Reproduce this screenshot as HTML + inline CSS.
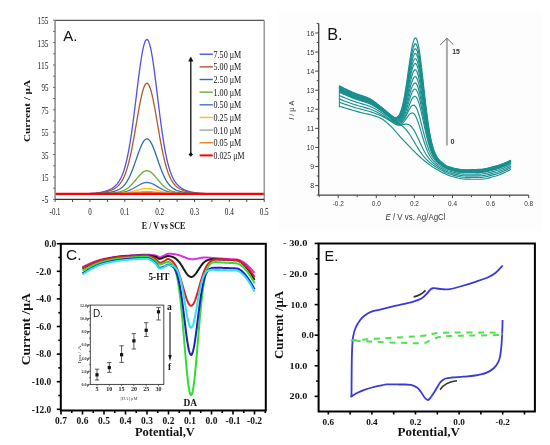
<!DOCTYPE html>
<html><head><meta charset="utf-8"><style>
html,body{margin:0;padding:0;background:#fff;}
svg{display:block;will-change:transform;filter:blur(0.4px);}
</style></head><body>
<svg width="550" height="445" viewBox="0 0 550 445">
<rect width="550" height="445" fill="#fff"/>
<rect x="278" y="12" width="264" height="219" fill="#fdfdfd"/>
<path d="M55.1,193.8 L55.54,193.8 L55.97,193.8 L56.41,193.8 L56.84,193.8 L57.28,193.8 L57.71,193.8 L58.15,193.8 L58.59,193.8 L59.02,193.8 L59.46,193.8 L59.89,193.8 L60.33,193.8 L60.76,193.8 L61.2,193.8 L61.63,193.8 L62.07,193.8 L62.51,193.8 L62.94,193.8 L63.38,193.8 L63.81,193.8 L64.25,193.8 L64.68,193.8 L65.12,193.8 L65.56,193.8 L65.99,193.8 L66.43,193.8 L66.86,193.8 L67.3,193.8 L67.73,193.8 L68.17,193.79 L68.6,193.79 L69.04,193.79 L69.48,193.79 L69.91,193.79 L70.35,193.79 L70.78,193.79 L71.22,193.79 L71.65,193.79 L72.09,193.79 L72.53,193.79 L72.96,193.79 L73.4,193.78 L73.83,193.78 L74.27,193.78 L74.7,193.78 L75.14,193.78 L75.57,193.78 L76.01,193.77 L76.45,193.77 L76.88,193.77 L77.32,193.77 L77.75,193.76 L78.19,193.76 L78.62,193.76 L79.06,193.75 L79.5,193.75 L79.93,193.74 L80.37,193.74 L80.8,193.73 L81.24,193.73 L81.67,193.72 L82.11,193.72 L82.54,193.71 L82.98,193.7 L83.42,193.7 L83.85,193.69 L84.29,193.68 L84.72,193.67 L85.16,193.66 L85.59,193.65 L86.03,193.64 L86.47,193.62 L86.9,193.61 L87.34,193.6 L87.77,193.58 L88.21,193.56 L88.64,193.55 L89.08,193.53 L89.51,193.51 L89.95,193.49 L90.39,193.47 L90.82,193.44 L91.26,193.42 L91.69,193.39 L92.13,193.36 L92.56,193.33 L93,193.3 L93.44,193.27 L93.87,193.23 L94.31,193.2 L94.74,193.16 L95.18,193.12 L95.61,193.07 L96.05,193.03 L96.48,192.98 L96.92,192.93 L97.36,192.87 L97.79,192.81 L98.23,192.75 L98.66,192.69 L99.1,192.62 L99.53,192.55 L99.97,192.48 L100.41,192.4 L100.84,192.32 L101.28,192.24 L101.71,192.15 L102.15,192.06 L102.58,191.96 L103.02,191.86 L103.45,191.75 L103.89,191.64 L104.33,191.52 L104.76,191.4 L105.2,191.27 L105.63,191.14 L106.07,191 L106.5,190.85 L106.94,190.7 L107.38,190.54 L107.81,190.37 L108.25,190.19 L108.68,190.01 L109.12,189.82 L109.55,189.62 L109.99,189.41 L110.42,189.19 L110.86,188.95 L111.3,188.71 L111.73,188.46 L112.17,188.19 L112.6,187.91 L113.04,187.61 L113.47,187.3 L113.91,186.97 L114.34,186.62 L114.78,186.25 L115.22,185.86 L115.65,185.45 L116.09,185.02 L116.52,184.55 L116.96,184.07 L117.39,183.55 L117.83,182.99 L118.27,182.41 L118.7,181.79 L119.14,181.12 L119.57,180.42 L120.01,179.67 L120.44,178.87 L120.88,178.03 L121.31,177.12 L121.75,176.16 L122.19,175.14 L122.62,174.06 L123.06,172.91 L123.49,171.68 L123.93,170.39 L124.36,169.01 L124.8,167.56 L125.24,166.02 L125.67,164.39 L126.11,162.67 L126.54,160.86 L126.98,158.95 L127.41,156.95 L127.85,154.85 L128.28,152.65 L128.72,150.34 L129.16,147.94 L129.59,145.43 L130.03,142.82 L130.46,140.11 L130.9,137.31 L131.33,134.41 L131.77,131.41 L132.21,128.33 L132.64,125.16 L133.08,121.92 L133.51,118.6 L133.95,115.22 L134.38,111.79 L134.82,108.3 L135.25,104.78 L135.69,101.23 L136.13,97.66 L136.56,94.08 L137,90.51 L137.43,86.95 L137.87,83.43 L138.3,79.95 L138.74,76.53 L139.18,73.18 L139.61,69.91 L140.05,66.75 L140.48,63.69 L140.92,60.77 L141.35,57.98 L141.79,55.35 L142.22,52.88 L142.66,50.59 L143.1,48.49 L143.53,46.59 L143.97,44.9 L144.4,43.42 L144.84,42.17 L145.27,41.15 L145.71,40.37 L146.15,39.83 L146.58,39.53 L147.02,39.47 L147.45,39.66 L147.89,40.1 L148.32,40.78 L148.76,41.69 L149.2,42.84 L149.63,44.22 L150.07,45.82 L150.5,47.63 L150.94,49.65 L151.37,51.85 L151.81,54.24 L152.24,56.8 L152.68,59.52 L153.12,62.39 L153.55,65.39 L153.99,68.51 L154.42,71.73 L154.86,75.05 L155.29,78.44 L155.73,81.89 L156.16,85.4 L156.6,88.94 L157.04,92.51 L157.47,96.08 L157.91,99.66 L158.34,103.22 L158.78,106.76 L159.21,110.26 L159.65,113.72 L160.09,117.13 L160.52,120.47 L160.96,123.75 L161.39,126.95 L161.83,130.07 L162.26,133.1 L162.7,136.04 L163.13,138.89 L163.57,141.64 L164.01,144.29 L164.44,146.85 L164.88,149.3 L165.31,151.65 L165.75,153.89 L166.18,156.04 L166.62,158.09 L167.06,160.03 L167.49,161.89 L167.93,163.64 L168.36,165.31 L168.8,166.89 L169.23,168.38 L169.67,169.79 L170.11,171.12 L170.54,172.38 L170.98,173.56 L171.41,174.67 L171.85,175.72 L172.28,176.71 L172.72,177.64 L173.15,178.51 L173.59,179.33 L174.03,180.1 L174.46,180.82 L174.9,181.5 L175.33,182.14 L175.77,182.74 L176.2,183.31 L176.64,183.84 L177.07,184.34 L177.51,184.82 L177.95,185.26 L178.38,185.68 L178.82,186.08 L179.25,186.46 L179.69,186.82 L180.12,187.15 L180.56,187.47 L181,187.78 L181.43,188.07 L181.87,188.34 L182.3,188.6 L182.74,188.85 L183.17,189.09 L183.61,189.31 L184.04,189.53 L184.48,189.73 L184.92,189.93 L185.35,190.11 L185.79,190.29 L186.22,190.46 L186.66,190.63 L187.09,190.78 L187.53,190.93 L187.97,191.08 L188.4,191.21 L188.84,191.34 L189.27,191.47 L189.71,191.59 L190.14,191.7 L190.58,191.81 L191.01,191.91 L191.45,192.01 L191.89,192.11 L192.32,192.2 L192.76,192.29 L193.19,192.37 L193.63,192.45 L194.06,192.52 L194.5,192.59 L194.94,192.66 L195.37,192.73 L195.81,192.79 L196.24,192.85 L196.68,192.9 L197.11,192.95 L197.55,193 L197.99,193.05 L198.42,193.1 L198.86,193.14 L199.29,193.18 L199.73,193.22 L200.16,193.25 L200.6,193.29 L201.03,193.32 L201.47,193.35 L201.91,193.38 L202.34,193.41 L202.78,193.43 L203.21,193.46 L203.65,193.48 L204.08,193.5 L204.52,193.52 L204.95,193.54 L205.39,193.56 L205.83,193.57 L206.26,193.59 L206.7,193.6 L207.13,193.62 L207.57,193.63 L208,193.64 L208.44,193.65 L208.88,193.66 L209.31,193.67 L209.75,193.68 L210.18,193.69 L210.62,193.7 L211.05,193.71 L211.49,193.71 L211.92,193.72 L212.36,193.73 L212.8,193.73 L213.23,193.74 L213.67,193.74 L214.1,193.75 L214.54,193.75 L214.97,193.75 L215.41,193.76 L215.85,193.76 L216.28,193.76 L216.72,193.77 L217.15,193.77 L217.59,193.77 L218.02,193.77 L218.46,193.78 L218.89,193.78 L219.33,193.78 L219.77,193.78 L220.2,193.78 L220.64,193.79 L221.07,193.79 L221.51,193.79 L221.94,193.79 L222.38,193.79 L222.82,193.79 L223.25,193.79 L223.69,193.79 L224.12,193.79 L224.56,193.79 L224.99,193.79 L225.43,193.79 L225.86,193.8 L226.3,193.8 L226.74,193.8 L227.17,193.8 L227.61,193.8 L228.04,193.8 L228.48,193.8 L228.91,193.8 L229.35,193.8 L229.79,193.8 L230.22,193.8 L230.66,193.8 L231.09,193.8 L231.53,193.8 L231.96,193.8 L232.4,193.8 L232.84,193.8 L233.27,193.8 L233.71,193.8 L234.14,193.8 L234.58,193.8 L235.01,193.8 L235.45,193.8 L235.88,193.8 L236.32,193.8 L236.76,193.8 L237.19,193.8 L237.63,193.8 L238.06,193.8 L238.5,193.8 L238.93,193.8 L239.37,193.8 L239.81,193.8 L240.24,193.8 L240.68,193.8 L241.11,193.8 L241.55,193.8 L241.98,193.8 L242.42,193.8 L242.85,193.8 L243.29,193.8 L243.73,193.8 L244.16,193.8 L244.6,193.8 L245.03,193.8 L245.47,193.8 L245.9,193.8 L246.34,193.8 L246.78,193.8 L247.21,193.8 L247.65,193.8 L248.08,193.8 L248.52,193.8 L248.95,193.8 L249.39,193.8 L249.82,193.8 L250.26,193.8 L250.7,193.8 L251.13,193.8 L251.57,193.8 L252,193.8 L252.44,193.8 L252.87,193.8 L253.31,193.8 L253.75,193.8 L254.18,193.8 L254.62,193.8 L255.05,193.8 L255.49,193.8 L255.92,193.8 L256.36,193.8 L256.79,193.8 L257.23,193.8 L257.67,193.8 L258.1,193.8 L258.54,193.8 L258.97,193.8 L259.41,193.8 L259.84,193.8 L260.28,193.8 L260.71,193.8 L261.15,193.8 L261.59,193.8 L262.02,193.8 L262.46,193.8 L262.89,193.8 L263.33,193.8 L263.76,193.8 L264.2,193.8" fill="none" stroke="#5050e8" stroke-width="1.3"/>
<path d="M55.1,193.8 L55.54,193.8 L55.97,193.8 L56.41,193.8 L56.84,193.8 L57.28,193.8 L57.71,193.8 L58.15,193.8 L58.59,193.8 L59.02,193.8 L59.46,193.8 L59.89,193.8 L60.33,193.8 L60.76,193.8 L61.2,193.8 L61.63,193.8 L62.07,193.8 L62.51,193.8 L62.94,193.8 L63.38,193.8 L63.81,193.8 L64.25,193.8 L64.68,193.8 L65.12,193.8 L65.56,193.8 L65.99,193.8 L66.43,193.8 L66.86,193.8 L67.3,193.8 L67.73,193.8 L68.17,193.8 L68.6,193.8 L69.04,193.8 L69.48,193.8 L69.91,193.79 L70.35,193.79 L70.78,193.79 L71.22,193.79 L71.65,193.79 L72.09,193.79 L72.53,193.79 L72.96,193.79 L73.4,193.79 L73.83,193.79 L74.27,193.79 L74.7,193.79 L75.14,193.78 L75.57,193.78 L76.01,193.78 L76.45,193.78 L76.88,193.78 L77.32,193.78 L77.75,193.77 L78.19,193.77 L78.62,193.77 L79.06,193.77 L79.5,193.76 L79.93,193.76 L80.37,193.76 L80.8,193.75 L81.24,193.75 L81.67,193.75 L82.11,193.74 L82.54,193.74 L82.98,193.73 L83.42,193.73 L83.85,193.72 L84.29,193.71 L84.72,193.71 L85.16,193.7 L85.59,193.69 L86.03,193.68 L86.47,193.67 L86.9,193.66 L87.34,193.65 L87.77,193.64 L88.21,193.63 L88.64,193.62 L89.08,193.61 L89.51,193.59 L89.95,193.58 L90.39,193.56 L90.82,193.54 L91.26,193.53 L91.69,193.51 L92.13,193.49 L92.56,193.47 L93,193.44 L93.44,193.42 L93.87,193.39 L94.31,193.37 L94.74,193.34 L95.18,193.31 L95.61,193.28 L96.05,193.25 L96.48,193.21 L96.92,193.17 L97.36,193.13 L97.79,193.09 L98.23,193.05 L98.66,193.01 L99.1,192.96 L99.53,192.91 L99.97,192.86 L100.41,192.8 L100.84,192.74 L101.28,192.68 L101.71,192.62 L102.15,192.55 L102.58,192.48 L103.02,192.41 L103.45,192.33 L103.89,192.25 L104.33,192.17 L104.76,192.08 L105.2,191.99 L105.63,191.89 L106.07,191.79 L106.5,191.69 L106.94,191.58 L107.38,191.46 L107.81,191.34 L108.25,191.22 L108.68,191.09 L109.12,190.95 L109.55,190.8 L109.99,190.65 L110.42,190.5 L110.86,190.33 L111.3,190.16 L111.73,189.97 L112.17,189.78 L112.6,189.58 L113.04,189.37 L113.47,189.14 L113.91,188.91 L114.34,188.66 L114.78,188.39 L115.22,188.11 L115.65,187.82 L116.09,187.51 L116.52,187.18 L116.96,186.83 L117.39,186.46 L117.83,186.06 L118.27,185.64 L118.7,185.2 L119.14,184.72 L119.57,184.22 L120.01,183.68 L120.44,183.11 L120.88,182.5 L121.31,181.86 L121.75,181.17 L122.19,180.44 L122.62,179.66 L123.06,178.84 L123.49,177.96 L123.93,177.03 L124.36,176.05 L124.8,175 L125.24,173.9 L125.67,172.73 L126.11,171.5 L126.54,170.21 L126.98,168.84 L127.41,167.41 L127.85,165.9 L128.28,164.32 L128.72,162.67 L129.16,160.95 L129.59,159.15 L130.03,157.29 L130.46,155.35 L130.9,153.34 L131.33,151.26 L131.77,149.11 L132.21,146.91 L132.64,144.64 L133.08,142.32 L133.51,139.94 L133.95,137.52 L134.38,135.06 L134.82,132.56 L135.25,130.04 L135.69,127.49 L136.13,124.94 L136.56,122.37 L137,119.82 L137.43,117.27 L137.87,114.75 L138.3,112.26 L138.74,109.8 L139.18,107.4 L139.61,105.07 L140.05,102.8 L140.48,100.61 L140.92,98.52 L141.35,96.52 L141.79,94.63 L142.22,92.87 L142.66,91.23 L143.1,89.72 L143.53,88.36 L143.97,87.15 L144.4,86.09 L144.84,85.2 L145.27,84.47 L145.71,83.9 L146.15,83.52 L146.58,83.3 L147.02,83.26 L147.45,83.4 L147.89,83.71 L148.32,84.2 L148.76,84.85 L149.2,85.68 L149.63,86.66 L150.07,87.81 L150.5,89.11 L150.94,90.55 L151.37,92.13 L151.81,93.84 L152.24,95.68 L152.68,97.62 L153.12,99.68 L153.55,101.83 L153.99,104.06 L154.42,106.37 L154.86,108.74 L155.29,111.17 L155.73,113.65 L156.16,116.16 L156.6,118.69 L157.04,121.25 L157.47,123.81 L157.91,126.37 L158.34,128.92 L158.78,131.46 L159.21,133.96 L159.65,136.44 L160.09,138.88 L160.52,141.28 L160.96,143.62 L161.39,145.92 L161.83,148.15 L162.26,150.32 L162.7,152.43 L163.13,154.47 L163.57,156.44 L164.01,158.34 L164.44,160.17 L164.88,161.92 L165.31,163.61 L165.75,165.22 L166.18,166.75 L166.62,168.22 L167.06,169.61 L167.49,170.94 L167.93,172.2 L168.36,173.39 L168.8,174.52 L169.23,175.59 L169.67,176.6 L170.11,177.56 L170.54,178.46 L170.98,179.3 L171.41,180.1 L171.85,180.85 L172.28,181.56 L172.72,182.22 L173.15,182.85 L173.59,183.43 L174.03,183.98 L174.46,184.5 L174.9,184.99 L175.33,185.45 L175.77,185.88 L176.2,186.28 L176.64,186.67 L177.07,187.03 L177.51,187.37 L177.95,187.69 L178.38,187.99 L178.82,188.27 L179.25,188.54 L179.69,188.8 L180.12,189.04 L180.56,189.27 L181,189.49 L181.43,189.69 L181.87,189.89 L182.3,190.08 L182.74,190.25 L183.17,190.42 L183.61,190.58 L184.04,190.74 L184.48,190.89 L184.92,191.03 L185.35,191.16 L185.79,191.29 L186.22,191.41 L186.66,191.53 L187.09,191.64 L187.53,191.75 L187.97,191.85 L188.4,191.95 L188.84,192.04 L189.27,192.13 L189.71,192.22 L190.14,192.3 L190.58,192.38 L191.01,192.45 L191.45,192.52 L191.89,192.59 L192.32,192.65 L192.76,192.72 L193.19,192.77 L193.63,192.83 L194.06,192.88 L194.5,192.94 L194.94,192.98 L195.37,193.03 L195.81,193.08 L196.24,193.12 L196.68,193.16 L197.11,193.19 L197.55,193.23 L197.99,193.26 L198.42,193.3 L198.86,193.33 L199.29,193.36 L199.73,193.38 L200.16,193.41 L200.6,193.43 L201.03,193.46 L201.47,193.48 L201.91,193.5 L202.34,193.52 L202.78,193.54 L203.21,193.55 L203.65,193.57 L204.08,193.59 L204.52,193.6 L204.95,193.61 L205.39,193.63 L205.83,193.64 L206.26,193.65 L206.7,193.66 L207.13,193.67 L207.57,193.68 L208,193.69 L208.44,193.7 L208.88,193.7 L209.31,193.71 L209.75,193.72 L210.18,193.72 L210.62,193.73 L211.05,193.73 L211.49,193.74 L211.92,193.74 L212.36,193.75 L212.8,193.75 L213.23,193.76 L213.67,193.76 L214.1,193.76 L214.54,193.76 L214.97,193.77 L215.41,193.77 L215.85,193.77 L216.28,193.77 L216.72,193.78 L217.15,193.78 L217.59,193.78 L218.02,193.78 L218.46,193.78 L218.89,193.78 L219.33,193.79 L219.77,193.79 L220.2,193.79 L220.64,193.79 L221.07,193.79 L221.51,193.79 L221.94,193.79 L222.38,193.79 L222.82,193.79 L223.25,193.79 L223.69,193.79 L224.12,193.79 L224.56,193.8 L224.99,193.8 L225.43,193.8 L225.86,193.8 L226.3,193.8 L226.74,193.8 L227.17,193.8 L227.61,193.8 L228.04,193.8 L228.48,193.8 L228.91,193.8 L229.35,193.8 L229.79,193.8 L230.22,193.8 L230.66,193.8 L231.09,193.8 L231.53,193.8 L231.96,193.8 L232.4,193.8 L232.84,193.8 L233.27,193.8 L233.71,193.8 L234.14,193.8 L234.58,193.8 L235.01,193.8 L235.45,193.8 L235.88,193.8 L236.32,193.8 L236.76,193.8 L237.19,193.8 L237.63,193.8 L238.06,193.8 L238.5,193.8 L238.93,193.8 L239.37,193.8 L239.81,193.8 L240.24,193.8 L240.68,193.8 L241.11,193.8 L241.55,193.8 L241.98,193.8 L242.42,193.8 L242.85,193.8 L243.29,193.8 L243.73,193.8 L244.16,193.8 L244.6,193.8 L245.03,193.8 L245.47,193.8 L245.9,193.8 L246.34,193.8 L246.78,193.8 L247.21,193.8 L247.65,193.8 L248.08,193.8 L248.52,193.8 L248.95,193.8 L249.39,193.8 L249.82,193.8 L250.26,193.8 L250.7,193.8 L251.13,193.8 L251.57,193.8 L252,193.8 L252.44,193.8 L252.87,193.8 L253.31,193.8 L253.75,193.8 L254.18,193.8 L254.62,193.8 L255.05,193.8 L255.49,193.8 L255.92,193.8 L256.36,193.8 L256.79,193.8 L257.23,193.8 L257.67,193.8 L258.1,193.8 L258.54,193.8 L258.97,193.8 L259.41,193.8 L259.84,193.8 L260.28,193.8 L260.71,193.8 L261.15,193.8 L261.59,193.8 L262.02,193.8 L262.46,193.8 L262.89,193.8 L263.33,193.8 L263.76,193.8 L264.2,193.8" fill="none" stroke="#b05a28" stroke-width="1.3"/>
<path d="M55.1,193.8 L55.54,193.8 L55.97,193.8 L56.41,193.8 L56.84,193.8 L57.28,193.8 L57.71,193.8 L58.15,193.8 L58.59,193.8 L59.02,193.8 L59.46,193.8 L59.89,193.8 L60.33,193.8 L60.76,193.8 L61.2,193.8 L61.63,193.8 L62.07,193.8 L62.51,193.8 L62.94,193.8 L63.38,193.8 L63.81,193.8 L64.25,193.8 L64.68,193.8 L65.12,193.8 L65.56,193.8 L65.99,193.8 L66.43,193.8 L66.86,193.8 L67.3,193.8 L67.73,193.8 L68.17,193.8 L68.6,193.8 L69.04,193.8 L69.48,193.8 L69.91,193.8 L70.35,193.8 L70.78,193.8 L71.22,193.8 L71.65,193.8 L72.09,193.8 L72.53,193.8 L72.96,193.79 L73.4,193.79 L73.83,193.79 L74.27,193.79 L74.7,193.79 L75.14,193.79 L75.57,193.79 L76.01,193.79 L76.45,193.79 L76.88,193.79 L77.32,193.79 L77.75,193.79 L78.19,193.79 L78.62,193.78 L79.06,193.78 L79.5,193.78 L79.93,193.78 L80.37,193.78 L80.8,193.78 L81.24,193.77 L81.67,193.77 L82.11,193.77 L82.54,193.77 L82.98,193.77 L83.42,193.76 L83.85,193.76 L84.29,193.76 L84.72,193.75 L85.16,193.75 L85.59,193.75 L86.03,193.74 L86.47,193.74 L86.9,193.73 L87.34,193.73 L87.77,193.72 L88.21,193.72 L88.64,193.71 L89.08,193.7 L89.51,193.7 L89.95,193.69 L90.39,193.68 L90.82,193.67 L91.26,193.66 L91.69,193.65 L92.13,193.64 L92.56,193.63 L93,193.62 L93.44,193.61 L93.87,193.6 L94.31,193.59 L94.74,193.57 L95.18,193.56 L95.61,193.54 L96.05,193.52 L96.48,193.51 L96.92,193.49 L97.36,193.47 L97.79,193.45 L98.23,193.43 L98.66,193.41 L99.1,193.38 L99.53,193.36 L99.97,193.33 L100.41,193.3 L100.84,193.27 L101.28,193.24 L101.71,193.21 L102.15,193.18 L102.58,193.15 L103.02,193.11 L103.45,193.07 L103.89,193.03 L104.33,192.99 L104.76,192.95 L105.2,192.9 L105.63,192.85 L106.07,192.8 L106.5,192.75 L106.94,192.7 L107.38,192.64 L107.81,192.58 L108.25,192.52 L108.68,192.45 L109.12,192.38 L109.55,192.31 L109.99,192.24 L110.42,192.16 L110.86,192.08 L111.3,191.99 L111.73,191.9 L112.17,191.8 L112.6,191.7 L113.04,191.6 L113.47,191.49 L113.91,191.37 L114.34,191.25 L114.78,191.12 L115.22,190.98 L115.65,190.83 L116.09,190.68 L116.52,190.51 L116.96,190.34 L117.39,190.15 L117.83,189.96 L118.27,189.75 L118.7,189.53 L119.14,189.29 L119.57,189.04 L120.01,188.78 L120.44,188.49 L120.88,188.19 L121.31,187.87 L121.75,187.53 L122.19,187.17 L122.62,186.78 L123.06,186.37 L123.49,185.94 L123.93,185.47 L124.36,184.99 L124.8,184.47 L125.24,183.92 L125.67,183.34 L126.11,182.73 L126.54,182.09 L126.98,181.41 L127.41,180.7 L127.85,179.95 L128.28,179.17 L128.72,178.35 L129.16,177.49 L129.59,176.6 L130.03,175.67 L130.46,174.71 L130.9,173.71 L131.33,172.68 L131.77,171.62 L132.21,170.52 L132.64,169.39 L133.08,168.24 L133.51,167.06 L133.95,165.86 L134.38,164.64 L134.82,163.4 L135.25,162.15 L135.69,160.88 L136.13,159.61 L136.56,158.34 L137,157.07 L137.43,155.81 L137.87,154.55 L138.3,153.32 L138.74,152.1 L139.18,150.91 L139.61,149.75 L140.05,148.62 L140.48,147.54 L140.92,146.5 L141.35,145.51 L141.79,144.57 L142.22,143.69 L142.66,142.88 L143.1,142.13 L143.53,141.45 L143.97,140.85 L144.4,140.33 L144.84,139.88 L145.27,139.52 L145.71,139.24 L146.15,139.05 L146.58,138.94 L147.02,138.92 L147.45,138.99 L147.89,139.15 L148.32,139.39 L148.76,139.71 L149.2,140.12 L149.63,140.61 L150.07,141.18 L150.5,141.82 L150.94,142.54 L151.37,143.33 L151.81,144.18 L152.24,145.09 L152.68,146.05 L153.12,147.07 L153.55,148.14 L153.99,149.25 L154.42,150.39 L154.86,151.57 L155.29,152.78 L155.73,154.01 L156.16,155.25 L156.6,156.51 L157.04,157.78 L157.47,159.05 L157.91,160.32 L158.34,161.59 L158.78,162.85 L159.21,164.09 L159.65,165.32 L160.09,166.54 L160.52,167.72 L160.96,168.89 L161.39,170.03 L161.83,171.14 L162.26,172.22 L162.7,173.26 L163.13,174.27 L163.57,175.25 L164.01,176.2 L164.44,177.1 L164.88,177.98 L165.31,178.81 L165.75,179.61 L166.18,180.37 L166.62,181.1 L167.06,181.79 L167.49,182.45 L167.93,183.08 L168.36,183.67 L168.8,184.23 L169.23,184.76 L169.67,185.26 L170.11,185.74 L170.54,186.18 L170.98,186.6 L171.41,187 L171.85,187.37 L172.28,187.72 L172.72,188.05 L173.15,188.36 L173.59,188.65 L174.03,188.93 L174.46,189.18 L174.9,189.43 L175.33,189.65 L175.77,189.87 L176.2,190.07 L176.64,190.26 L177.07,190.44 L177.51,190.61 L177.95,190.76 L178.38,190.91 L178.82,191.06 L179.25,191.19 L179.69,191.32 L180.12,191.44 L180.56,191.55 L181,191.66 L181.43,191.76 L181.87,191.86 L182.3,191.95 L182.74,192.04 L183.17,192.12 L183.61,192.2 L184.04,192.28 L184.48,192.35 L184.92,192.42 L185.35,192.49 L185.79,192.55 L186.22,192.61 L186.66,192.67 L187.09,192.73 L187.53,192.78 L187.97,192.83 L188.4,192.88 L188.84,192.93 L189.27,192.97 L189.71,193.01 L190.14,193.05 L190.58,193.09 L191.01,193.13 L191.45,193.17 L191.89,193.2 L192.32,193.23 L192.76,193.26 L193.19,193.29 L193.63,193.32 L194.06,193.35 L194.5,193.37 L194.94,193.4 L195.37,193.42 L195.81,193.44 L196.24,193.46 L196.68,193.48 L197.11,193.5 L197.55,193.52 L197.99,193.53 L198.42,193.55 L198.86,193.57 L199.29,193.58 L199.73,193.59 L200.16,193.61 L200.6,193.62 L201.03,193.63 L201.47,193.64 L201.91,193.65 L202.34,193.66 L202.78,193.67 L203.21,193.68 L203.65,193.69 L204.08,193.69 L204.52,193.7 L204.95,193.71 L205.39,193.71 L205.83,193.72 L206.26,193.73 L206.7,193.73 L207.13,193.74 L207.57,193.74 L208,193.74 L208.44,193.75 L208.88,193.75 L209.31,193.76 L209.75,193.76 L210.18,193.76 L210.62,193.76 L211.05,193.77 L211.49,193.77 L211.92,193.77 L212.36,193.77 L212.8,193.78 L213.23,193.78 L213.67,193.78 L214.1,193.78 L214.54,193.78 L214.97,193.78 L215.41,193.79 L215.85,193.79 L216.28,193.79 L216.72,193.79 L217.15,193.79 L217.59,193.79 L218.02,193.79 L218.46,193.79 L218.89,193.79 L219.33,193.79 L219.77,193.79 L220.2,193.79 L220.64,193.79 L221.07,193.8 L221.51,193.8 L221.94,193.8 L222.38,193.8 L222.82,193.8 L223.25,193.8 L223.69,193.8 L224.12,193.8 L224.56,193.8 L224.99,193.8 L225.43,193.8 L225.86,193.8 L226.3,193.8 L226.74,193.8 L227.17,193.8 L227.61,193.8 L228.04,193.8 L228.48,193.8 L228.91,193.8 L229.35,193.8 L229.79,193.8 L230.22,193.8 L230.66,193.8 L231.09,193.8 L231.53,193.8 L231.96,193.8 L232.4,193.8 L232.84,193.8 L233.27,193.8 L233.71,193.8 L234.14,193.8 L234.58,193.8 L235.01,193.8 L235.45,193.8 L235.88,193.8 L236.32,193.8 L236.76,193.8 L237.19,193.8 L237.63,193.8 L238.06,193.8 L238.5,193.8 L238.93,193.8 L239.37,193.8 L239.81,193.8 L240.24,193.8 L240.68,193.8 L241.11,193.8 L241.55,193.8 L241.98,193.8 L242.42,193.8 L242.85,193.8 L243.29,193.8 L243.73,193.8 L244.16,193.8 L244.6,193.8 L245.03,193.8 L245.47,193.8 L245.9,193.8 L246.34,193.8 L246.78,193.8 L247.21,193.8 L247.65,193.8 L248.08,193.8 L248.52,193.8 L248.95,193.8 L249.39,193.8 L249.82,193.8 L250.26,193.8 L250.7,193.8 L251.13,193.8 L251.57,193.8 L252,193.8 L252.44,193.8 L252.87,193.8 L253.31,193.8 L253.75,193.8 L254.18,193.8 L254.62,193.8 L255.05,193.8 L255.49,193.8 L255.92,193.8 L256.36,193.8 L256.79,193.8 L257.23,193.8 L257.67,193.8 L258.1,193.8 L258.54,193.8 L258.97,193.8 L259.41,193.8 L259.84,193.8 L260.28,193.8 L260.71,193.8 L261.15,193.8 L261.59,193.8 L262.02,193.8 L262.46,193.8 L262.89,193.8 L263.33,193.8 L263.76,193.8 L264.2,193.8" fill="none" stroke="#2e6da4" stroke-width="1.3"/>
<path d="M55.1,193.8 L55.54,193.8 L55.97,193.8 L56.41,193.8 L56.84,193.8 L57.28,193.8 L57.71,193.8 L58.15,193.8 L58.59,193.8 L59.02,193.8 L59.46,193.8 L59.89,193.8 L60.33,193.8 L60.76,193.8 L61.2,193.8 L61.63,193.8 L62.07,193.8 L62.51,193.8 L62.94,193.8 L63.38,193.8 L63.81,193.8 L64.25,193.8 L64.68,193.8 L65.12,193.8 L65.56,193.8 L65.99,193.8 L66.43,193.8 L66.86,193.8 L67.3,193.8 L67.73,193.8 L68.17,193.8 L68.6,193.8 L69.04,193.8 L69.48,193.8 L69.91,193.8 L70.35,193.8 L70.78,193.8 L71.22,193.8 L71.65,193.8 L72.09,193.8 L72.53,193.8 L72.96,193.8 L73.4,193.8 L73.83,193.8 L74.27,193.8 L74.7,193.8 L75.14,193.8 L75.57,193.8 L76.01,193.8 L76.45,193.8 L76.88,193.8 L77.32,193.79 L77.75,193.79 L78.19,193.79 L78.62,193.79 L79.06,193.79 L79.5,193.79 L79.93,193.79 L80.37,193.79 L80.8,193.79 L81.24,193.79 L81.67,193.79 L82.11,193.79 L82.54,193.79 L82.98,193.79 L83.42,193.78 L83.85,193.78 L84.29,193.78 L84.72,193.78 L85.16,193.78 L85.59,193.78 L86.03,193.78 L86.47,193.77 L86.9,193.77 L87.34,193.77 L87.77,193.77 L88.21,193.76 L88.64,193.76 L89.08,193.76 L89.51,193.76 L89.95,193.75 L90.39,193.75 L90.82,193.75 L91.26,193.74 L91.69,193.74 L92.13,193.73 L92.56,193.73 L93,193.73 L93.44,193.72 L93.87,193.72 L94.31,193.71 L94.74,193.7 L95.18,193.7 L95.61,193.69 L96.05,193.68 L96.48,193.68 L96.92,193.67 L97.36,193.66 L97.79,193.65 L98.23,193.64 L98.66,193.63 L99.1,193.62 L99.53,193.61 L99.97,193.6 L100.41,193.59 L100.84,193.58 L101.28,193.57 L101.71,193.55 L102.15,193.54 L102.58,193.52 L103.02,193.51 L103.45,193.49 L103.89,193.48 L104.33,193.46 L104.76,193.44 L105.2,193.42 L105.63,193.4 L106.07,193.38 L106.5,193.36 L106.94,193.34 L107.38,193.31 L107.81,193.29 L108.25,193.26 L108.68,193.23 L109.12,193.2 L109.55,193.17 L109.99,193.14 L110.42,193.11 L110.86,193.08 L111.3,193.04 L111.73,193 L112.17,192.96 L112.6,192.92 L113.04,192.87 L113.47,192.83 L113.91,192.78 L114.34,192.73 L114.78,192.67 L115.22,192.61 L115.65,192.55 L116.09,192.49 L116.52,192.42 L116.96,192.34 L117.39,192.27 L117.83,192.18 L118.27,192.1 L118.7,192 L119.14,191.91 L119.57,191.8 L120.01,191.69 L120.44,191.57 L120.88,191.44 L121.31,191.31 L121.75,191.16 L122.19,191.01 L122.62,190.85 L123.06,190.68 L123.49,190.49 L123.93,190.3 L124.36,190.09 L124.8,189.88 L125.24,189.65 L125.67,189.4 L126.11,189.15 L126.54,188.88 L126.98,188.59 L127.41,188.29 L127.85,187.98 L128.28,187.65 L128.72,187.3 L129.16,186.94 L129.59,186.57 L130.03,186.18 L130.46,185.77 L130.9,185.35 L131.33,184.92 L131.77,184.47 L132.21,184.01 L132.64,183.54 L133.08,183.05 L133.51,182.56 L133.95,182.05 L134.38,181.54 L134.82,181.02 L135.25,180.49 L135.69,179.96 L136.13,179.43 L136.56,178.89 L137,178.36 L137.43,177.83 L137.87,177.3 L138.3,176.78 L138.74,176.27 L139.18,175.77 L139.61,175.28 L140.05,174.81 L140.48,174.35 L140.92,173.91 L141.35,173.5 L141.79,173.1 L142.22,172.73 L142.66,172.39 L143.1,172.08 L143.53,171.79 L143.97,171.54 L144.4,171.32 L144.84,171.13 L145.27,170.98 L145.71,170.86 L146.15,170.78 L146.58,170.74 L147.02,170.73 L147.45,170.76 L147.89,170.82 L148.32,170.92 L148.76,171.06 L149.2,171.23 L149.63,171.44 L150.07,171.68 L150.5,171.95 L150.94,172.25 L151.37,172.58 L151.81,172.94 L152.24,173.32 L152.68,173.73 L153.12,174.16 L153.55,174.6 L153.99,175.07 L154.42,175.55 L154.86,176.05 L155.29,176.55 L155.73,177.07 L156.16,177.59 L156.6,178.12 L157.04,178.66 L157.47,179.19 L157.91,179.73 L158.34,180.26 L158.78,180.79 L159.21,181.31 L159.65,181.83 L160.09,182.34 L160.52,182.84 L160.96,183.33 L161.39,183.81 L161.83,184.27 L162.26,184.73 L162.7,185.17 L163.13,185.59 L163.57,186 L164.01,186.4 L164.44,186.78 L164.88,187.15 L165.31,187.5 L165.75,187.83 L166.18,188.15 L166.62,188.46 L167.06,188.75 L167.49,189.03 L167.93,189.29 L168.36,189.54 L168.8,189.78 L169.23,190 L169.67,190.21 L170.11,190.41 L170.54,190.6 L170.98,190.77 L171.41,190.94 L171.85,191.1 L172.28,191.24 L172.72,191.38 L173.15,191.51 L173.59,191.64 L174.03,191.75 L174.46,191.86 L174.9,191.96 L175.33,192.06 L175.77,192.15 L176.2,192.23 L176.64,192.31 L177.07,192.39 L177.51,192.46 L177.95,192.52 L178.38,192.59 L178.82,192.65 L179.25,192.7 L179.69,192.76 L180.12,192.81 L180.56,192.85 L181,192.9 L181.43,192.94 L181.87,192.98 L182.3,193.02 L182.74,193.06 L183.17,193.1 L183.61,193.13 L184.04,193.16 L184.48,193.19 L184.92,193.22 L185.35,193.25 L185.79,193.28 L186.22,193.3 L186.66,193.33 L187.09,193.35 L187.53,193.37 L187.97,193.39 L188.4,193.41 L188.84,193.43 L189.27,193.45 L189.71,193.47 L190.14,193.49 L190.58,193.5 L191.01,193.52 L191.45,193.53 L191.89,193.55 L192.32,193.56 L192.76,193.57 L193.19,193.59 L193.63,193.6 L194.06,193.61 L194.5,193.62 L194.94,193.63 L195.37,193.64 L195.81,193.65 L196.24,193.66 L196.68,193.67 L197.11,193.67 L197.55,193.68 L197.99,193.69 L198.42,193.69 L198.86,193.7 L199.29,193.71 L199.73,193.71 L200.16,193.72 L200.6,193.72 L201.03,193.73 L201.47,193.73 L201.91,193.74 L202.34,193.74 L202.78,193.75 L203.21,193.75 L203.65,193.75 L204.08,193.76 L204.52,193.76 L204.95,193.76 L205.39,193.76 L205.83,193.77 L206.26,193.77 L206.7,193.77 L207.13,193.77 L207.57,193.77 L208,193.78 L208.44,193.78 L208.88,193.78 L209.31,193.78 L209.75,193.78 L210.18,193.78 L210.62,193.79 L211.05,193.79 L211.49,193.79 L211.92,193.79 L212.36,193.79 L212.8,193.79 L213.23,193.79 L213.67,193.79 L214.1,193.79 L214.54,193.79 L214.97,193.79 L215.41,193.79 L215.85,193.79 L216.28,193.79 L216.72,193.8 L217.15,193.8 L217.59,193.8 L218.02,193.8 L218.46,193.8 L218.89,193.8 L219.33,193.8 L219.77,193.8 L220.2,193.8 L220.64,193.8 L221.07,193.8 L221.51,193.8 L221.94,193.8 L222.38,193.8 L222.82,193.8 L223.25,193.8 L223.69,193.8 L224.12,193.8 L224.56,193.8 L224.99,193.8 L225.43,193.8 L225.86,193.8 L226.3,193.8 L226.74,193.8 L227.17,193.8 L227.61,193.8 L228.04,193.8 L228.48,193.8 L228.91,193.8 L229.35,193.8 L229.79,193.8 L230.22,193.8 L230.66,193.8 L231.09,193.8 L231.53,193.8 L231.96,193.8 L232.4,193.8 L232.84,193.8 L233.27,193.8 L233.71,193.8 L234.14,193.8 L234.58,193.8 L235.01,193.8 L235.45,193.8 L235.88,193.8 L236.32,193.8 L236.76,193.8 L237.19,193.8 L237.63,193.8 L238.06,193.8 L238.5,193.8 L238.93,193.8 L239.37,193.8 L239.81,193.8 L240.24,193.8 L240.68,193.8 L241.11,193.8 L241.55,193.8 L241.98,193.8 L242.42,193.8 L242.85,193.8 L243.29,193.8 L243.73,193.8 L244.16,193.8 L244.6,193.8 L245.03,193.8 L245.47,193.8 L245.9,193.8 L246.34,193.8 L246.78,193.8 L247.21,193.8 L247.65,193.8 L248.08,193.8 L248.52,193.8 L248.95,193.8 L249.39,193.8 L249.82,193.8 L250.26,193.8 L250.7,193.8 L251.13,193.8 L251.57,193.8 L252,193.8 L252.44,193.8 L252.87,193.8 L253.31,193.8 L253.75,193.8 L254.18,193.8 L254.62,193.8 L255.05,193.8 L255.49,193.8 L255.92,193.8 L256.36,193.8 L256.79,193.8 L257.23,193.8 L257.67,193.8 L258.1,193.8 L258.54,193.8 L258.97,193.8 L259.41,193.8 L259.84,193.8 L260.28,193.8 L260.71,193.8 L261.15,193.8 L261.59,193.8 L262.02,193.8 L262.46,193.8 L262.89,193.8 L263.33,193.8 L263.76,193.8 L264.2,193.8" fill="none" stroke="#6aaa3a" stroke-width="1.3"/>
<path d="M55.1,193.8 L55.54,193.8 L55.97,193.8 L56.41,193.8 L56.84,193.8 L57.28,193.8 L57.71,193.8 L58.15,193.8 L58.59,193.8 L59.02,193.8 L59.46,193.8 L59.89,193.8 L60.33,193.8 L60.76,193.8 L61.2,193.8 L61.63,193.8 L62.07,193.8 L62.51,193.8 L62.94,193.8 L63.38,193.8 L63.81,193.8 L64.25,193.8 L64.68,193.8 L65.12,193.8 L65.56,193.8 L65.99,193.8 L66.43,193.8 L66.86,193.8 L67.3,193.8 L67.73,193.8 L68.17,193.8 L68.6,193.8 L69.04,193.8 L69.48,193.8 L69.91,193.8 L70.35,193.8 L70.78,193.8 L71.22,193.8 L71.65,193.8 L72.09,193.8 L72.53,193.8 L72.96,193.8 L73.4,193.8 L73.83,193.8 L74.27,193.8 L74.7,193.8 L75.14,193.8 L75.57,193.8 L76.01,193.8 L76.45,193.8 L76.88,193.8 L77.32,193.8 L77.75,193.8 L78.19,193.8 L78.62,193.8 L79.06,193.8 L79.5,193.8 L79.93,193.8 L80.37,193.8 L80.8,193.8 L81.24,193.79 L81.67,193.79 L82.11,193.79 L82.54,193.79 L82.98,193.79 L83.42,193.79 L83.85,193.79 L84.29,193.79 L84.72,193.79 L85.16,193.79 L85.59,193.79 L86.03,193.79 L86.47,193.79 L86.9,193.79 L87.34,193.79 L87.77,193.78 L88.21,193.78 L88.64,193.78 L89.08,193.78 L89.51,193.78 L89.95,193.78 L90.39,193.78 L90.82,193.77 L91.26,193.77 L91.69,193.77 L92.13,193.77 L92.56,193.77 L93,193.76 L93.44,193.76 L93.87,193.76 L94.31,193.76 L94.74,193.75 L95.18,193.75 L95.61,193.75 L96.05,193.74 L96.48,193.74 L96.92,193.74 L97.36,193.73 L97.79,193.73 L98.23,193.72 L98.66,193.72 L99.1,193.71 L99.53,193.71 L99.97,193.7 L100.41,193.7 L100.84,193.69 L101.28,193.69 L101.71,193.68 L102.15,193.67 L102.58,193.67 L103.02,193.66 L103.45,193.65 L103.89,193.64 L104.33,193.63 L104.76,193.62 L105.2,193.61 L105.63,193.6 L106.07,193.59 L106.5,193.58 L106.94,193.57 L107.38,193.56 L107.81,193.55 L108.25,193.54 L108.68,193.52 L109.12,193.51 L109.55,193.49 L109.99,193.48 L110.42,193.46 L110.86,193.44 L111.3,193.43 L111.73,193.41 L112.17,193.39 L112.6,193.37 L113.04,193.35 L113.47,193.32 L113.91,193.3 L114.34,193.27 L114.78,193.25 L115.22,193.22 L115.65,193.19 L116.09,193.16 L116.52,193.12 L116.96,193.09 L117.39,193.05 L117.83,193.01 L118.27,192.97 L118.7,192.92 L119.14,192.87 L119.57,192.82 L120.01,192.76 L120.44,192.71 L120.88,192.64 L121.31,192.58 L121.75,192.51 L122.19,192.43 L122.62,192.35 L123.06,192.27 L123.49,192.18 L123.93,192.08 L124.36,191.98 L124.8,191.88 L125.24,191.76 L125.67,191.64 L126.11,191.52 L126.54,191.39 L126.98,191.25 L127.41,191.1 L127.85,190.95 L128.28,190.78 L128.72,190.61 L129.16,190.44 L129.59,190.25 L130.03,190.06 L130.46,189.87 L130.9,189.66 L131.33,189.45 L131.77,189.23 L132.21,189 L132.64,188.77 L133.08,188.53 L133.51,188.29 L133.95,188.04 L134.38,187.79 L134.82,187.53 L135.25,187.28 L135.69,187.01 L136.13,186.75 L136.56,186.49 L137,186.23 L137.43,185.97 L137.87,185.71 L138.3,185.46 L138.74,185.2 L139.18,184.96 L139.61,184.72 L140.05,184.49 L140.48,184.26 L140.92,184.05 L141.35,183.85 L141.79,183.65 L142.22,183.47 L142.66,183.3 L143.1,183.15 L143.53,183.01 L143.97,182.89 L144.4,182.78 L144.84,182.69 L145.27,182.61 L145.71,182.55 L146.15,182.51 L146.58,182.49 L147.02,182.49 L147.45,182.5 L147.89,182.53 L148.32,182.58 L148.76,182.65 L149.2,182.74 L149.63,182.84 L150.07,182.95 L150.5,183.09 L150.94,183.23 L151.37,183.4 L151.81,183.57 L152.24,183.76 L152.68,183.96 L153.12,184.17 L153.55,184.39 L153.99,184.62 L154.42,184.85 L154.86,185.1 L155.29,185.34 L155.73,185.6 L156.16,185.85 L156.6,186.11 L157.04,186.38 L157.47,186.64 L157.91,186.9 L158.34,187.16 L158.78,187.42 L159.21,187.68 L159.65,187.93 L160.09,188.18 L160.52,188.43 L160.96,188.67 L161.39,188.9 L161.83,189.13 L162.26,189.35 L162.7,189.57 L163.13,189.78 L163.57,189.98 L164.01,190.17 L164.44,190.36 L164.88,190.54 L165.31,190.71 L165.75,190.88 L166.18,191.03 L166.62,191.18 L167.06,191.33 L167.49,191.46 L167.93,191.59 L168.36,191.71 L168.8,191.83 L169.23,191.94 L169.67,192.04 L170.11,192.14 L170.54,192.23 L170.98,192.32 L171.41,192.4 L171.85,192.48 L172.28,192.55 L172.72,192.62 L173.15,192.68 L173.59,192.74 L174.03,192.8 L174.46,192.85 L174.9,192.9 L175.33,192.95 L175.77,192.99 L176.2,193.03 L176.64,193.07 L177.07,193.11 L177.51,193.14 L177.95,193.17 L178.38,193.21 L178.82,193.23 L179.25,193.26 L179.69,193.29 L180.12,193.31 L180.56,193.34 L181,193.36 L181.43,193.38 L181.87,193.4 L182.3,193.42 L182.74,193.44 L183.17,193.45 L183.61,193.47 L184.04,193.49 L184.48,193.5 L184.92,193.52 L185.35,193.53 L185.79,193.54 L186.22,193.56 L186.66,193.57 L187.09,193.58 L187.53,193.59 L187.97,193.6 L188.4,193.61 L188.84,193.62 L189.27,193.63 L189.71,193.64 L190.14,193.65 L190.58,193.65 L191.01,193.66 L191.45,193.67 L191.89,193.68 L192.32,193.68 L192.76,193.69 L193.19,193.7 L193.63,193.7 L194.06,193.71 L194.5,193.71 L194.94,193.72 L195.37,193.72 L195.81,193.73 L196.24,193.73 L196.68,193.73 L197.11,193.74 L197.55,193.74 L197.99,193.75 L198.42,193.75 L198.86,193.75 L199.29,193.75 L199.73,193.76 L200.16,193.76 L200.6,193.76 L201.03,193.76 L201.47,193.77 L201.91,193.77 L202.34,193.77 L202.78,193.77 L203.21,193.77 L203.65,193.78 L204.08,193.78 L204.52,193.78 L204.95,193.78 L205.39,193.78 L205.83,193.78 L206.26,193.78 L206.7,193.79 L207.13,193.79 L207.57,193.79 L208,193.79 L208.44,193.79 L208.88,193.79 L209.31,193.79 L209.75,193.79 L210.18,193.79 L210.62,193.79 L211.05,193.79 L211.49,193.79 L211.92,193.79 L212.36,193.79 L212.8,193.8 L213.23,193.8 L213.67,193.8 L214.1,193.8 L214.54,193.8 L214.97,193.8 L215.41,193.8 L215.85,193.8 L216.28,193.8 L216.72,193.8 L217.15,193.8 L217.59,193.8 L218.02,193.8 L218.46,193.8 L218.89,193.8 L219.33,193.8 L219.77,193.8 L220.2,193.8 L220.64,193.8 L221.07,193.8 L221.51,193.8 L221.94,193.8 L222.38,193.8 L222.82,193.8 L223.25,193.8 L223.69,193.8 L224.12,193.8 L224.56,193.8 L224.99,193.8 L225.43,193.8 L225.86,193.8 L226.3,193.8 L226.74,193.8 L227.17,193.8 L227.61,193.8 L228.04,193.8 L228.48,193.8 L228.91,193.8 L229.35,193.8 L229.79,193.8 L230.22,193.8 L230.66,193.8 L231.09,193.8 L231.53,193.8 L231.96,193.8 L232.4,193.8 L232.84,193.8 L233.27,193.8 L233.71,193.8 L234.14,193.8 L234.58,193.8 L235.01,193.8 L235.45,193.8 L235.88,193.8 L236.32,193.8 L236.76,193.8 L237.19,193.8 L237.63,193.8 L238.06,193.8 L238.5,193.8 L238.93,193.8 L239.37,193.8 L239.81,193.8 L240.24,193.8 L240.68,193.8 L241.11,193.8 L241.55,193.8 L241.98,193.8 L242.42,193.8 L242.85,193.8 L243.29,193.8 L243.73,193.8 L244.16,193.8 L244.6,193.8 L245.03,193.8 L245.47,193.8 L245.9,193.8 L246.34,193.8 L246.78,193.8 L247.21,193.8 L247.65,193.8 L248.08,193.8 L248.52,193.8 L248.95,193.8 L249.39,193.8 L249.82,193.8 L250.26,193.8 L250.7,193.8 L251.13,193.8 L251.57,193.8 L252,193.8 L252.44,193.8 L252.87,193.8 L253.31,193.8 L253.75,193.8 L254.18,193.8 L254.62,193.8 L255.05,193.8 L255.49,193.8 L255.92,193.8 L256.36,193.8 L256.79,193.8 L257.23,193.8 L257.67,193.8 L258.1,193.8 L258.54,193.8 L258.97,193.8 L259.41,193.8 L259.84,193.8 L260.28,193.8 L260.71,193.8 L261.15,193.8 L261.59,193.8 L262.02,193.8 L262.46,193.8 L262.89,193.8 L263.33,193.8 L263.76,193.8 L264.2,193.8" fill="none" stroke="#4472c4" stroke-width="1.3"/>
<path d="M55.1,193.8 L55.54,193.8 L55.97,193.8 L56.41,193.8 L56.84,193.8 L57.28,193.8 L57.71,193.8 L58.15,193.8 L58.59,193.8 L59.02,193.8 L59.46,193.8 L59.89,193.8 L60.33,193.8 L60.76,193.8 L61.2,193.8 L61.63,193.8 L62.07,193.8 L62.51,193.8 L62.94,193.8 L63.38,193.8 L63.81,193.8 L64.25,193.8 L64.68,193.8 L65.12,193.8 L65.56,193.8 L65.99,193.8 L66.43,193.8 L66.86,193.8 L67.3,193.8 L67.73,193.8 L68.17,193.8 L68.6,193.8 L69.04,193.8 L69.48,193.8 L69.91,193.8 L70.35,193.8 L70.78,193.8 L71.22,193.8 L71.65,193.8 L72.09,193.8 L72.53,193.8 L72.96,193.8 L73.4,193.8 L73.83,193.8 L74.27,193.8 L74.7,193.8 L75.14,193.8 L75.57,193.8 L76.01,193.8 L76.45,193.8 L76.88,193.8 L77.32,193.8 L77.75,193.8 L78.19,193.8 L78.62,193.8 L79.06,193.8 L79.5,193.8 L79.93,193.8 L80.37,193.8 L80.8,193.8 L81.24,193.8 L81.67,193.8 L82.11,193.8 L82.54,193.8 L82.98,193.8 L83.42,193.8 L83.85,193.8 L84.29,193.8 L84.72,193.8 L85.16,193.8 L85.59,193.79 L86.03,193.79 L86.47,193.79 L86.9,193.79 L87.34,193.79 L87.77,193.79 L88.21,193.79 L88.64,193.79 L89.08,193.79 L89.51,193.79 L89.95,193.79 L90.39,193.79 L90.82,193.79 L91.26,193.79 L91.69,193.79 L92.13,193.79 L92.56,193.78 L93,193.78 L93.44,193.78 L93.87,193.78 L94.31,193.78 L94.74,193.78 L95.18,193.78 L95.61,193.78 L96.05,193.77 L96.48,193.77 L96.92,193.77 L97.36,193.77 L97.79,193.77 L98.23,193.76 L98.66,193.76 L99.1,193.76 L99.53,193.76 L99.97,193.76 L100.41,193.75 L100.84,193.75 L101.28,193.75 L101.71,193.74 L102.15,193.74 L102.58,193.74 L103.02,193.73 L103.45,193.73 L103.89,193.73 L104.33,193.72 L104.76,193.72 L105.2,193.71 L105.63,193.71 L106.07,193.7 L106.5,193.7 L106.94,193.69 L107.38,193.69 L107.81,193.68 L108.25,193.68 L108.68,193.67 L109.12,193.66 L109.55,193.66 L109.99,193.65 L110.42,193.64 L110.86,193.63 L111.3,193.63 L111.73,193.62 L112.17,193.61 L112.6,193.6 L113.04,193.59 L113.47,193.58 L113.91,193.57 L114.34,193.56 L114.78,193.54 L115.22,193.53 L115.65,193.52 L116.09,193.5 L116.52,193.48 L116.96,193.47 L117.39,193.45 L117.83,193.43 L118.27,193.41 L118.7,193.39 L119.14,193.37 L119.57,193.34 L120.01,193.32 L120.44,193.29 L120.88,193.26 L121.31,193.23 L121.75,193.2 L122.19,193.16 L122.62,193.13 L123.06,193.09 L123.49,193.05 L123.93,193 L124.36,192.95 L124.8,192.9 L125.24,192.85 L125.67,192.8 L126.11,192.74 L126.54,192.68 L126.98,192.61 L127.41,192.54 L127.85,192.47 L128.28,192.4 L128.72,192.32 L129.16,192.24 L129.59,192.15 L130.03,192.06 L130.46,191.97 L130.9,191.87 L131.33,191.77 L131.77,191.67 L132.21,191.57 L132.64,191.46 L133.08,191.35 L133.51,191.24 L133.95,191.12 L134.38,191 L134.82,190.88 L135.25,190.76 L135.69,190.64 L136.13,190.52 L136.56,190.4 L137,190.28 L137.43,190.16 L137.87,190.04 L138.3,189.92 L138.74,189.8 L139.18,189.69 L139.61,189.57 L140.05,189.47 L140.48,189.36 L140.92,189.26 L141.35,189.17 L141.79,189.08 L142.22,188.99 L142.66,188.92 L143.1,188.84 L143.53,188.78 L143.97,188.72 L144.4,188.67 L144.84,188.63 L145.27,188.59 L145.71,188.57 L146.15,188.55 L146.58,188.54 L147.02,188.54 L147.45,188.54 L147.89,188.56 L148.32,188.58 L148.76,188.61 L149.2,188.65 L149.63,188.7 L150.07,188.75 L150.5,188.81 L150.94,188.88 L151.37,188.96 L151.81,189.04 L152.24,189.13 L152.68,189.22 L153.12,189.32 L153.55,189.42 L153.99,189.53 L154.42,189.64 L154.86,189.75 L155.29,189.87 L155.73,189.98 L156.16,190.1 L156.6,190.22 L157.04,190.35 L157.47,190.47 L157.91,190.59 L158.34,190.71 L158.78,190.83 L159.21,190.95 L159.65,191.07 L160.09,191.18 L160.52,191.3 L160.96,191.41 L161.39,191.52 L161.83,191.63 L162.26,191.73 L162.7,191.83 L163.13,191.93 L163.57,192.02 L164.01,192.11 L164.44,192.2 L164.88,192.28 L165.31,192.36 L165.75,192.44 L166.18,192.51 L166.62,192.58 L167.06,192.65 L167.49,192.71 L167.93,192.77 L168.36,192.83 L168.8,192.88 L169.23,192.93 L169.67,192.98 L170.11,193.03 L170.54,193.07 L170.98,193.11 L171.41,193.15 L171.85,193.18 L172.28,193.22 L172.72,193.25 L173.15,193.28 L173.59,193.31 L174.03,193.33 L174.46,193.36 L174.9,193.38 L175.33,193.4 L175.77,193.42 L176.2,193.44 L176.64,193.46 L177.07,193.48 L177.51,193.49 L177.95,193.51 L178.38,193.52 L178.82,193.54 L179.25,193.55 L179.69,193.56 L180.12,193.57 L180.56,193.58 L181,193.59 L181.43,193.6 L181.87,193.61 L182.3,193.62 L182.74,193.63 L183.17,193.64 L183.61,193.65 L184.04,193.65 L184.48,193.66 L184.92,193.67 L185.35,193.67 L185.79,193.68 L186.22,193.69 L186.66,193.69 L187.09,193.7 L187.53,193.7 L187.97,193.71 L188.4,193.71 L188.84,193.72 L189.27,193.72 L189.71,193.72 L190.14,193.73 L190.58,193.73 L191.01,193.74 L191.45,193.74 L191.89,193.74 L192.32,193.75 L192.76,193.75 L193.19,193.75 L193.63,193.75 L194.06,193.76 L194.5,193.76 L194.94,193.76 L195.37,193.76 L195.81,193.77 L196.24,193.77 L196.68,193.77 L197.11,193.77 L197.55,193.77 L197.99,193.77 L198.42,193.78 L198.86,193.78 L199.29,193.78 L199.73,193.78 L200.16,193.78 L200.6,193.78 L201.03,193.78 L201.47,193.78 L201.91,193.79 L202.34,193.79 L202.78,193.79 L203.21,193.79 L203.65,193.79 L204.08,193.79 L204.52,193.79 L204.95,193.79 L205.39,193.79 L205.83,193.79 L206.26,193.79 L206.7,193.79 L207.13,193.79 L207.57,193.79 L208,193.79 L208.44,193.8 L208.88,193.8 L209.31,193.8 L209.75,193.8 L210.18,193.8 L210.62,193.8 L211.05,193.8 L211.49,193.8 L211.92,193.8 L212.36,193.8 L212.8,193.8 L213.23,193.8 L213.67,193.8 L214.1,193.8 L214.54,193.8 L214.97,193.8 L215.41,193.8 L215.85,193.8 L216.28,193.8 L216.72,193.8 L217.15,193.8 L217.59,193.8 L218.02,193.8 L218.46,193.8 L218.89,193.8 L219.33,193.8 L219.77,193.8 L220.2,193.8 L220.64,193.8 L221.07,193.8 L221.51,193.8 L221.94,193.8 L222.38,193.8 L222.82,193.8 L223.25,193.8 L223.69,193.8 L224.12,193.8 L224.56,193.8 L224.99,193.8 L225.43,193.8 L225.86,193.8 L226.3,193.8 L226.74,193.8 L227.17,193.8 L227.61,193.8 L228.04,193.8 L228.48,193.8 L228.91,193.8 L229.35,193.8 L229.79,193.8 L230.22,193.8 L230.66,193.8 L231.09,193.8 L231.53,193.8 L231.96,193.8 L232.4,193.8 L232.84,193.8 L233.27,193.8 L233.71,193.8 L234.14,193.8 L234.58,193.8 L235.01,193.8 L235.45,193.8 L235.88,193.8 L236.32,193.8 L236.76,193.8 L237.19,193.8 L237.63,193.8 L238.06,193.8 L238.5,193.8 L238.93,193.8 L239.37,193.8 L239.81,193.8 L240.24,193.8 L240.68,193.8 L241.11,193.8 L241.55,193.8 L241.98,193.8 L242.42,193.8 L242.85,193.8 L243.29,193.8 L243.73,193.8 L244.16,193.8 L244.6,193.8 L245.03,193.8 L245.47,193.8 L245.9,193.8 L246.34,193.8 L246.78,193.8 L247.21,193.8 L247.65,193.8 L248.08,193.8 L248.52,193.8 L248.95,193.8 L249.39,193.8 L249.82,193.8 L250.26,193.8 L250.7,193.8 L251.13,193.8 L251.57,193.8 L252,193.8 L252.44,193.8 L252.87,193.8 L253.31,193.8 L253.75,193.8 L254.18,193.8 L254.62,193.8 L255.05,193.8 L255.49,193.8 L255.92,193.8 L256.36,193.8 L256.79,193.8 L257.23,193.8 L257.67,193.8 L258.1,193.8 L258.54,193.8 L258.97,193.8 L259.41,193.8 L259.84,193.8 L260.28,193.8 L260.71,193.8 L261.15,193.8 L261.59,193.8 L262.02,193.8 L262.46,193.8 L262.89,193.8 L263.33,193.8 L263.76,193.8 L264.2,193.8" fill="none" stroke="#ffc000" stroke-width="1.3"/>
<path d="M55.1,193.8 L55.54,193.8 L55.97,193.8 L56.41,193.8 L56.84,193.8 L57.28,193.8 L57.71,193.8 L58.15,193.8 L58.59,193.8 L59.02,193.8 L59.46,193.8 L59.89,193.8 L60.33,193.8 L60.76,193.8 L61.2,193.8 L61.63,193.8 L62.07,193.8 L62.51,193.8 L62.94,193.8 L63.38,193.8 L63.81,193.8 L64.25,193.8 L64.68,193.8 L65.12,193.8 L65.56,193.8 L65.99,193.8 L66.43,193.8 L66.86,193.8 L67.3,193.8 L67.73,193.8 L68.17,193.8 L68.6,193.8 L69.04,193.8 L69.48,193.8 L69.91,193.8 L70.35,193.8 L70.78,193.8 L71.22,193.8 L71.65,193.8 L72.09,193.8 L72.53,193.8 L72.96,193.8 L73.4,193.8 L73.83,193.8 L74.27,193.8 L74.7,193.8 L75.14,193.8 L75.57,193.8 L76.01,193.8 L76.45,193.8 L76.88,193.8 L77.32,193.8 L77.75,193.8 L78.19,193.8 L78.62,193.8 L79.06,193.8 L79.5,193.8 L79.93,193.8 L80.37,193.8 L80.8,193.8 L81.24,193.8 L81.67,193.8 L82.11,193.8 L82.54,193.8 L82.98,193.8 L83.42,193.8 L83.85,193.8 L84.29,193.8 L84.72,193.8 L85.16,193.8 L85.59,193.8 L86.03,193.8 L86.47,193.8 L86.9,193.8 L87.34,193.8 L87.77,193.8 L88.21,193.8 L88.64,193.8 L89.08,193.8 L89.51,193.8 L89.95,193.8 L90.39,193.8 L90.82,193.79 L91.26,193.79 L91.69,193.79 L92.13,193.79 L92.56,193.79 L93,193.79 L93.44,193.79 L93.87,193.79 L94.31,193.79 L94.74,193.79 L95.18,193.79 L95.61,193.79 L96.05,193.79 L96.48,193.79 L96.92,193.79 L97.36,193.79 L97.79,193.79 L98.23,193.78 L98.66,193.78 L99.1,193.78 L99.53,193.78 L99.97,193.78 L100.41,193.78 L100.84,193.78 L101.28,193.78 L101.71,193.78 L102.15,193.77 L102.58,193.77 L103.02,193.77 L103.45,193.77 L103.89,193.77 L104.33,193.77 L104.76,193.77 L105.2,193.76 L105.63,193.76 L106.07,193.76 L106.5,193.76 L106.94,193.75 L107.38,193.75 L107.81,193.75 L108.25,193.75 L108.68,193.75 L109.12,193.74 L109.55,193.74 L109.99,193.74 L110.42,193.73 L110.86,193.73 L111.3,193.73 L111.73,193.72 L112.17,193.72 L112.6,193.71 L113.04,193.71 L113.47,193.71 L113.91,193.7 L114.34,193.7 L114.78,193.69 L115.22,193.68 L115.65,193.68 L116.09,193.67 L116.52,193.67 L116.96,193.66 L117.39,193.65 L117.83,193.64 L118.27,193.63 L118.7,193.63 L119.14,193.62 L119.57,193.61 L120.01,193.59 L120.44,193.58 L120.88,193.57 L121.31,193.56 L121.75,193.54 L122.19,193.53 L122.62,193.51 L123.06,193.5 L123.49,193.48 L123.93,193.46 L124.36,193.44 L124.8,193.42 L125.24,193.4 L125.67,193.37 L126.11,193.35 L126.54,193.32 L126.98,193.29 L127.41,193.27 L127.85,193.23 L128.28,193.2 L128.72,193.17 L129.16,193.13 L129.59,193.1 L130.03,193.06 L130.46,193.02 L130.9,192.98 L131.33,192.94 L131.77,192.89 L132.21,192.85 L132.64,192.8 L133.08,192.76 L133.51,192.71 L133.95,192.66 L134.38,192.61 L134.82,192.56 L135.25,192.51 L135.69,192.46 L136.13,192.4 L136.56,192.35 L137,192.3 L137.43,192.25 L137.87,192.2 L138.3,192.15 L138.74,192.1 L139.18,192.05 L139.61,192 L140.05,191.96 L140.48,191.91 L140.92,191.87 L141.35,191.83 L141.79,191.79 L142.22,191.75 L142.66,191.72 L143.1,191.69 L143.53,191.66 L143.97,191.64 L144.4,191.62 L144.84,191.6 L145.27,191.58 L145.71,191.57 L146.15,191.57 L146.58,191.56 L147.02,191.56 L147.45,191.56 L147.89,191.57 L148.32,191.58 L148.76,191.59 L149.2,191.61 L149.63,191.63 L150.07,191.65 L150.5,191.68 L150.94,191.71 L151.37,191.74 L151.81,191.77 L152.24,191.81 L152.68,191.85 L153.12,191.89 L153.55,191.94 L153.99,191.98 L154.42,192.03 L154.86,192.08 L155.29,192.13 L155.73,192.18 L156.16,192.23 L156.6,192.28 L157.04,192.33 L157.47,192.38 L157.91,192.43 L158.34,192.49 L158.78,192.54 L159.21,192.59 L159.65,192.64 L160.09,192.69 L160.52,192.74 L160.96,192.78 L161.39,192.83 L161.83,192.87 L162.26,192.92 L162.7,192.96 L163.13,193 L163.57,193.04 L164.01,193.08 L164.44,193.12 L164.88,193.15 L165.31,193.19 L165.75,193.22 L166.18,193.25 L166.62,193.28 L167.06,193.31 L167.49,193.34 L167.93,193.36 L168.36,193.39 L168.8,193.41 L169.23,193.43 L169.67,193.45 L170.11,193.47 L170.54,193.49 L170.98,193.51 L171.41,193.52 L171.85,193.54 L172.28,193.55 L172.72,193.57 L173.15,193.58 L173.59,193.59 L174.03,193.6 L174.46,193.61 L174.9,193.62 L175.33,193.63 L175.77,193.64 L176.2,193.65 L176.64,193.66 L177.07,193.66 L177.51,193.67 L177.95,193.68 L178.38,193.68 L178.82,193.69 L179.25,193.69 L179.69,193.7 L180.12,193.7 L180.56,193.71 L181,193.71 L181.43,193.72 L181.87,193.72 L182.3,193.72 L182.74,193.73 L183.17,193.73 L183.61,193.73 L184.04,193.74 L184.48,193.74 L184.92,193.74 L185.35,193.75 L185.79,193.75 L186.22,193.75 L186.66,193.75 L187.09,193.76 L187.53,193.76 L187.97,193.76 L188.4,193.76 L188.84,193.76 L189.27,193.77 L189.71,193.77 L190.14,193.77 L190.58,193.77 L191.01,193.77 L191.45,193.77 L191.89,193.78 L192.32,193.78 L192.76,193.78 L193.19,193.78 L193.63,193.78 L194.06,193.78 L194.5,193.78 L194.94,193.78 L195.37,193.78 L195.81,193.79 L196.24,193.79 L196.68,193.79 L197.11,193.79 L197.55,193.79 L197.99,193.79 L198.42,193.79 L198.86,193.79 L199.29,193.79 L199.73,193.79 L200.16,193.79 L200.6,193.79 L201.03,193.79 L201.47,193.79 L201.91,193.79 L202.34,193.79 L202.78,193.79 L203.21,193.8 L203.65,193.8 L204.08,193.8 L204.52,193.8 L204.95,193.8 L205.39,193.8 L205.83,193.8 L206.26,193.8 L206.7,193.8 L207.13,193.8 L207.57,193.8 L208,193.8 L208.44,193.8 L208.88,193.8 L209.31,193.8 L209.75,193.8 L210.18,193.8 L210.62,193.8 L211.05,193.8 L211.49,193.8 L211.92,193.8 L212.36,193.8 L212.8,193.8 L213.23,193.8 L213.67,193.8 L214.1,193.8 L214.54,193.8 L214.97,193.8 L215.41,193.8 L215.85,193.8 L216.28,193.8 L216.72,193.8 L217.15,193.8 L217.59,193.8 L218.02,193.8 L218.46,193.8 L218.89,193.8 L219.33,193.8 L219.77,193.8 L220.2,193.8 L220.64,193.8 L221.07,193.8 L221.51,193.8 L221.94,193.8 L222.38,193.8 L222.82,193.8 L223.25,193.8 L223.69,193.8 L224.12,193.8 L224.56,193.8 L224.99,193.8 L225.43,193.8 L225.86,193.8 L226.3,193.8 L226.74,193.8 L227.17,193.8 L227.61,193.8 L228.04,193.8 L228.48,193.8 L228.91,193.8 L229.35,193.8 L229.79,193.8 L230.22,193.8 L230.66,193.8 L231.09,193.8 L231.53,193.8 L231.96,193.8 L232.4,193.8 L232.84,193.8 L233.27,193.8 L233.71,193.8 L234.14,193.8 L234.58,193.8 L235.01,193.8 L235.45,193.8 L235.88,193.8 L236.32,193.8 L236.76,193.8 L237.19,193.8 L237.63,193.8 L238.06,193.8 L238.5,193.8 L238.93,193.8 L239.37,193.8 L239.81,193.8 L240.24,193.8 L240.68,193.8 L241.11,193.8 L241.55,193.8 L241.98,193.8 L242.42,193.8 L242.85,193.8 L243.29,193.8 L243.73,193.8 L244.16,193.8 L244.6,193.8 L245.03,193.8 L245.47,193.8 L245.9,193.8 L246.34,193.8 L246.78,193.8 L247.21,193.8 L247.65,193.8 L248.08,193.8 L248.52,193.8 L248.95,193.8 L249.39,193.8 L249.82,193.8 L250.26,193.8 L250.7,193.8 L251.13,193.8 L251.57,193.8 L252,193.8 L252.44,193.8 L252.87,193.8 L253.31,193.8 L253.75,193.8 L254.18,193.8 L254.62,193.8 L255.05,193.8 L255.49,193.8 L255.92,193.8 L256.36,193.8 L256.79,193.8 L257.23,193.8 L257.67,193.8 L258.1,193.8 L258.54,193.8 L258.97,193.8 L259.41,193.8 L259.84,193.8 L260.28,193.8 L260.71,193.8 L261.15,193.8 L261.59,193.8 L262.02,193.8 L262.46,193.8 L262.89,193.8 L263.33,193.8 L263.76,193.8 L264.2,193.8" fill="none" stroke="#a5a5a5" stroke-width="1.3"/>
<path d="M55.1,193.8 L55.54,193.8 L55.97,193.8 L56.41,193.8 L56.84,193.8 L57.28,193.8 L57.71,193.8 L58.15,193.8 L58.59,193.8 L59.02,193.8 L59.46,193.8 L59.89,193.8 L60.33,193.8 L60.76,193.8 L61.2,193.8 L61.63,193.8 L62.07,193.8 L62.51,193.8 L62.94,193.8 L63.38,193.8 L63.81,193.8 L64.25,193.8 L64.68,193.8 L65.12,193.8 L65.56,193.8 L65.99,193.8 L66.43,193.8 L66.86,193.8 L67.3,193.8 L67.73,193.8 L68.17,193.8 L68.6,193.8 L69.04,193.8 L69.48,193.8 L69.91,193.8 L70.35,193.8 L70.78,193.8 L71.22,193.8 L71.65,193.8 L72.09,193.8 L72.53,193.8 L72.96,193.8 L73.4,193.8 L73.83,193.8 L74.27,193.8 L74.7,193.8 L75.14,193.8 L75.57,193.8 L76.01,193.8 L76.45,193.8 L76.88,193.8 L77.32,193.8 L77.75,193.8 L78.19,193.8 L78.62,193.8 L79.06,193.8 L79.5,193.8 L79.93,193.8 L80.37,193.8 L80.8,193.8 L81.24,193.8 L81.67,193.8 L82.11,193.8 L82.54,193.8 L82.98,193.8 L83.42,193.8 L83.85,193.8 L84.29,193.8 L84.72,193.8 L85.16,193.8 L85.59,193.8 L86.03,193.8 L86.47,193.8 L86.9,193.8 L87.34,193.8 L87.77,193.8 L88.21,193.8 L88.64,193.8 L89.08,193.8 L89.51,193.8 L89.95,193.8 L90.39,193.8 L90.82,193.8 L91.26,193.8 L91.69,193.8 L92.13,193.8 L92.56,193.8 L93,193.8 L93.44,193.8 L93.87,193.8 L94.31,193.8 L94.74,193.8 L95.18,193.8 L95.61,193.79 L96.05,193.79 L96.48,193.79 L96.92,193.79 L97.36,193.79 L97.79,193.79 L98.23,193.79 L98.66,193.79 L99.1,193.79 L99.53,193.79 L99.97,193.79 L100.41,193.79 L100.84,193.79 L101.28,193.79 L101.71,193.79 L102.15,193.79 L102.58,193.79 L103.02,193.79 L103.45,193.79 L103.89,193.78 L104.33,193.78 L104.76,193.78 L105.2,193.78 L105.63,193.78 L106.07,193.78 L106.5,193.78 L106.94,193.78 L107.38,193.78 L107.81,193.78 L108.25,193.77 L108.68,193.77 L109.12,193.77 L109.55,193.77 L109.99,193.77 L110.42,193.77 L110.86,193.76 L111.3,193.76 L111.73,193.76 L112.17,193.76 L112.6,193.76 L113.04,193.76 L113.47,193.75 L113.91,193.75 L114.34,193.75 L114.78,193.75 L115.22,193.74 L115.65,193.74 L116.09,193.74 L116.52,193.73 L116.96,193.73 L117.39,193.73 L117.83,193.72 L118.27,193.72 L118.7,193.71 L119.14,193.71 L119.57,193.7 L120.01,193.7 L120.44,193.69 L120.88,193.69 L121.31,193.68 L121.75,193.67 L122.19,193.66 L122.62,193.66 L123.06,193.65 L123.49,193.64 L123.93,193.63 L124.36,193.62 L124.8,193.61 L125.24,193.6 L125.67,193.59 L126.11,193.57 L126.54,193.56 L126.98,193.55 L127.41,193.53 L127.85,193.52 L128.28,193.5 L128.72,193.48 L129.16,193.47 L129.59,193.45 L130.03,193.43 L130.46,193.41 L130.9,193.39 L131.33,193.37 L131.77,193.35 L132.21,193.32 L132.64,193.3 L133.08,193.28 L133.51,193.25 L133.95,193.23 L134.38,193.2 L134.82,193.18 L135.25,193.15 L135.69,193.13 L136.13,193.1 L136.56,193.08 L137,193.05 L137.43,193.02 L137.87,193 L138.3,192.97 L138.74,192.95 L139.18,192.92 L139.61,192.9 L140.05,192.88 L140.48,192.86 L140.92,192.83 L141.35,192.81 L141.79,192.8 L142.22,192.78 L142.66,192.76 L143.1,192.75 L143.53,192.73 L143.97,192.72 L144.4,192.71 L144.84,192.7 L145.27,192.69 L145.71,192.69 L146.15,192.68 L146.58,192.68 L147.02,192.68 L147.45,192.68 L147.89,192.68 L148.32,192.69 L148.76,192.7 L149.2,192.7 L149.63,192.71 L150.07,192.73 L150.5,192.74 L150.94,192.75 L151.37,192.77 L151.81,192.79 L152.24,192.81 L152.68,192.83 L153.12,192.85 L153.55,192.87 L153.99,192.89 L154.42,192.91 L154.86,192.94 L155.29,192.96 L155.73,192.99 L156.16,193.01 L156.6,193.04 L157.04,193.06 L157.47,193.09 L157.91,193.12 L158.34,193.14 L158.78,193.17 L159.21,193.19 L159.65,193.22 L160.09,193.24 L160.52,193.27 L160.96,193.29 L161.39,193.31 L161.83,193.34 L162.26,193.36 L162.7,193.38 L163.13,193.4 L163.57,193.42 L164.01,193.44 L164.44,193.46 L164.88,193.48 L165.31,193.49 L165.75,193.51 L166.18,193.53 L166.62,193.54 L167.06,193.55 L167.49,193.57 L167.93,193.58 L168.36,193.59 L168.8,193.6 L169.23,193.62 L169.67,193.63 L170.11,193.64 L170.54,193.64 L170.98,193.65 L171.41,193.66 L171.85,193.67 L172.28,193.68 L172.72,193.68 L173.15,193.69 L173.59,193.69 L174.03,193.7 L174.46,193.71 L174.9,193.71 L175.33,193.72 L175.77,193.72 L176.2,193.72 L176.64,193.73 L177.07,193.73 L177.51,193.73 L177.95,193.74 L178.38,193.74 L178.82,193.74 L179.25,193.75 L179.69,193.75 L180.12,193.75 L180.56,193.75 L181,193.76 L181.43,193.76 L181.87,193.76 L182.3,193.76 L182.74,193.76 L183.17,193.77 L183.61,193.77 L184.04,193.77 L184.48,193.77 L184.92,193.77 L185.35,193.77 L185.79,193.77 L186.22,193.78 L186.66,193.78 L187.09,193.78 L187.53,193.78 L187.97,193.78 L188.4,193.78 L188.84,193.78 L189.27,193.78 L189.71,193.78 L190.14,193.78 L190.58,193.79 L191.01,193.79 L191.45,193.79 L191.89,193.79 L192.32,193.79 L192.76,193.79 L193.19,193.79 L193.63,193.79 L194.06,193.79 L194.5,193.79 L194.94,193.79 L195.37,193.79 L195.81,193.79 L196.24,193.79 L196.68,193.79 L197.11,193.79 L197.55,193.79 L197.99,193.79 L198.42,193.79 L198.86,193.8 L199.29,193.8 L199.73,193.8 L200.16,193.8 L200.6,193.8 L201.03,193.8 L201.47,193.8 L201.91,193.8 L202.34,193.8 L202.78,193.8 L203.21,193.8 L203.65,193.8 L204.08,193.8 L204.52,193.8 L204.95,193.8 L205.39,193.8 L205.83,193.8 L206.26,193.8 L206.7,193.8 L207.13,193.8 L207.57,193.8 L208,193.8 L208.44,193.8 L208.88,193.8 L209.31,193.8 L209.75,193.8 L210.18,193.8 L210.62,193.8 L211.05,193.8 L211.49,193.8 L211.92,193.8 L212.36,193.8 L212.8,193.8 L213.23,193.8 L213.67,193.8 L214.1,193.8 L214.54,193.8 L214.97,193.8 L215.41,193.8 L215.85,193.8 L216.28,193.8 L216.72,193.8 L217.15,193.8 L217.59,193.8 L218.02,193.8 L218.46,193.8 L218.89,193.8 L219.33,193.8 L219.77,193.8 L220.2,193.8 L220.64,193.8 L221.07,193.8 L221.51,193.8 L221.94,193.8 L222.38,193.8 L222.82,193.8 L223.25,193.8 L223.69,193.8 L224.12,193.8 L224.56,193.8 L224.99,193.8 L225.43,193.8 L225.86,193.8 L226.3,193.8 L226.74,193.8 L227.17,193.8 L227.61,193.8 L228.04,193.8 L228.48,193.8 L228.91,193.8 L229.35,193.8 L229.79,193.8 L230.22,193.8 L230.66,193.8 L231.09,193.8 L231.53,193.8 L231.96,193.8 L232.4,193.8 L232.84,193.8 L233.27,193.8 L233.71,193.8 L234.14,193.8 L234.58,193.8 L235.01,193.8 L235.45,193.8 L235.88,193.8 L236.32,193.8 L236.76,193.8 L237.19,193.8 L237.63,193.8 L238.06,193.8 L238.5,193.8 L238.93,193.8 L239.37,193.8 L239.81,193.8 L240.24,193.8 L240.68,193.8 L241.11,193.8 L241.55,193.8 L241.98,193.8 L242.42,193.8 L242.85,193.8 L243.29,193.8 L243.73,193.8 L244.16,193.8 L244.6,193.8 L245.03,193.8 L245.47,193.8 L245.9,193.8 L246.34,193.8 L246.78,193.8 L247.21,193.8 L247.65,193.8 L248.08,193.8 L248.52,193.8 L248.95,193.8 L249.39,193.8 L249.82,193.8 L250.26,193.8 L250.7,193.8 L251.13,193.8 L251.57,193.8 L252,193.8 L252.44,193.8 L252.87,193.8 L253.31,193.8 L253.75,193.8 L254.18,193.8 L254.62,193.8 L255.05,193.8 L255.49,193.8 L255.92,193.8 L256.36,193.8 L256.79,193.8 L257.23,193.8 L257.67,193.8 L258.1,193.8 L258.54,193.8 L258.97,193.8 L259.41,193.8 L259.84,193.8 L260.28,193.8 L260.71,193.8 L261.15,193.8 L261.59,193.8 L262.02,193.8 L262.46,193.8 L262.89,193.8 L263.33,193.8 L263.76,193.8 L264.2,193.8" fill="none" stroke="#ed7d31" stroke-width="1.3"/>
<line x1="55.1" y1="193.8" x2="264.2" y2="193.8" stroke="#ff0000" stroke-width="2.3" />
<line x1="55.1" y1="20.4" x2="264.2" y2="20.4" stroke="#555" stroke-width="1.3" />
<line x1="55.1" y1="20.4" x2="55.1" y2="199.4" stroke="#888" stroke-width="1.5" />
<line x1="264.2" y1="20.4" x2="264.2" y2="199.4" stroke="#888" stroke-width="1.3" />
<line x1="55.1" y1="199.4" x2="264.2" y2="199.4" stroke="#333" stroke-width="1.3" />
<line x1="53.1" y1="199.4" x2="55.1" y2="199.4" stroke="#666" stroke-width="1" />
<line x1="53.1" y1="188.2" x2="55.1" y2="188.2" stroke="#666" stroke-width="1" />
<line x1="53.1" y1="177" x2="55.1" y2="177" stroke="#666" stroke-width="1" />
<line x1="53.1" y1="165.8" x2="55.1" y2="165.8" stroke="#666" stroke-width="1" />
<line x1="53.1" y1="154.6" x2="55.1" y2="154.6" stroke="#666" stroke-width="1" />
<line x1="53.1" y1="143.4" x2="55.1" y2="143.4" stroke="#666" stroke-width="1" />
<line x1="53.1" y1="132.2" x2="55.1" y2="132.2" stroke="#666" stroke-width="1" />
<line x1="53.1" y1="121" x2="55.1" y2="121" stroke="#666" stroke-width="1" />
<line x1="53.1" y1="109.8" x2="55.1" y2="109.8" stroke="#666" stroke-width="1" />
<line x1="53.1" y1="98.6" x2="55.1" y2="98.6" stroke="#666" stroke-width="1" />
<line x1="53.1" y1="87.4" x2="55.1" y2="87.4" stroke="#666" stroke-width="1" />
<line x1="53.1" y1="76.2" x2="55.1" y2="76.2" stroke="#666" stroke-width="1" />
<line x1="53.1" y1="65" x2="55.1" y2="65" stroke="#666" stroke-width="1" />
<line x1="53.1" y1="53.8" x2="55.1" y2="53.8" stroke="#666" stroke-width="1" />
<line x1="53.1" y1="42.6" x2="55.1" y2="42.6" stroke="#666" stroke-width="1" />
<line x1="53.1" y1="31.4" x2="55.1" y2="31.4" stroke="#666" stroke-width="1" />
<line x1="53.1" y1="20.2" x2="55.1" y2="20.2" stroke="#666" stroke-width="1" />
<text x="48.4" y="24.1" font-family='"Liberation Serif", serif' font-size="11.3" fill="#111" text-anchor="end" textLength="10.9" lengthAdjust="spacingAndGlyphs" >155</text>
<text x="48.4" y="46.5" font-family='"Liberation Serif", serif' font-size="11.3" fill="#111" text-anchor="end" textLength="10.9" lengthAdjust="spacingAndGlyphs" >135</text>
<text x="48.4" y="68.9" font-family='"Liberation Serif", serif' font-size="11.3" fill="#111" text-anchor="end" textLength="10.9" lengthAdjust="spacingAndGlyphs" >115</text>
<text x="48.4" y="91.3" font-family='"Liberation Serif", serif' font-size="11.3" fill="#111" text-anchor="end" textLength="7" lengthAdjust="spacingAndGlyphs" >95</text>
<text x="48.4" y="113.7" font-family='"Liberation Serif", serif' font-size="11.3" fill="#111" text-anchor="end" textLength="7" lengthAdjust="spacingAndGlyphs" >75</text>
<text x="48.4" y="136.1" font-family='"Liberation Serif", serif' font-size="11.3" fill="#111" text-anchor="end" textLength="7" lengthAdjust="spacingAndGlyphs" >55</text>
<text x="48.4" y="158.5" font-family='"Liberation Serif", serif' font-size="11.3" fill="#111" text-anchor="end" textLength="7" lengthAdjust="spacingAndGlyphs" >35</text>
<text x="48.4" y="180.9" font-family='"Liberation Serif", serif' font-size="11.3" fill="#111" text-anchor="end" textLength="7" lengthAdjust="spacingAndGlyphs" >15</text>
<text x="48.4" y="203.3" font-family='"Liberation Serif", serif' font-size="11.3" fill="#111" text-anchor="end" textLength="6.6" lengthAdjust="spacingAndGlyphs" >-5</text>
<line x1="55.1" y1="199.4" x2="55.1" y2="201.9" stroke="#444" stroke-width="1" />
<line x1="72.53" y1="199.4" x2="72.53" y2="201.9" stroke="#444" stroke-width="1" />
<line x1="89.95" y1="199.4" x2="89.95" y2="201.9" stroke="#444" stroke-width="1" />
<line x1="107.38" y1="199.4" x2="107.38" y2="201.9" stroke="#444" stroke-width="1" />
<line x1="124.8" y1="199.4" x2="124.8" y2="201.9" stroke="#444" stroke-width="1" />
<line x1="142.22" y1="199.4" x2="142.22" y2="201.9" stroke="#444" stroke-width="1" />
<line x1="159.65" y1="199.4" x2="159.65" y2="201.9" stroke="#444" stroke-width="1" />
<line x1="177.07" y1="199.4" x2="177.07" y2="201.9" stroke="#444" stroke-width="1" />
<line x1="194.5" y1="199.4" x2="194.5" y2="201.9" stroke="#444" stroke-width="1" />
<line x1="211.92" y1="199.4" x2="211.92" y2="201.9" stroke="#444" stroke-width="1" />
<line x1="229.35" y1="199.4" x2="229.35" y2="201.9" stroke="#444" stroke-width="1" />
<line x1="246.78" y1="199.4" x2="246.78" y2="201.9" stroke="#444" stroke-width="1" />
<line x1="264.2" y1="199.4" x2="264.2" y2="201.9" stroke="#444" stroke-width="1" />
<text x="55.1" y="215" font-family='"Liberation Serif", serif' font-size="11.3" fill="#111" text-anchor="middle" textLength="11" lengthAdjust="spacingAndGlyphs" >-0.1</text>
<text x="89.95" y="215" font-family='"Liberation Serif", serif' font-size="11.3" fill="#111" text-anchor="middle" textLength="3.5" lengthAdjust="spacingAndGlyphs" >0</text>
<text x="124.8" y="215" font-family='"Liberation Serif", serif' font-size="11.3" fill="#111" text-anchor="middle" textLength="9" lengthAdjust="spacingAndGlyphs" >0.1</text>
<text x="159.65" y="215" font-family='"Liberation Serif", serif' font-size="11.3" fill="#111" text-anchor="middle" textLength="9" lengthAdjust="spacingAndGlyphs" >0.2</text>
<text x="194.5" y="215" font-family='"Liberation Serif", serif' font-size="11.3" fill="#111" text-anchor="middle" textLength="9" lengthAdjust="spacingAndGlyphs" >0.3</text>
<text x="229.35" y="215" font-family='"Liberation Serif", serif' font-size="11.3" fill="#111" text-anchor="middle" textLength="9" lengthAdjust="spacingAndGlyphs" >0.4</text>
<text x="264.2" y="215" font-family='"Liberation Serif", serif' font-size="11.3" fill="#111" text-anchor="middle" textLength="9" lengthAdjust="spacingAndGlyphs" >0.5</text>
<text x="63.3" y="41.1" font-family='"Liberation Sans", sans-serif' font-size="15" fill="#111" text-anchor="start" >A.</text>
<text x="27.3" y="111" font-family='"Liberation Serif", serif' font-size="9" fill="#111" text-anchor="middle" font-weight="bold" textLength="62" lengthAdjust="spacingAndGlyphs" transform="rotate(-90 27.3 111)" dy="3">Current / μA</text>
<text x="163.6" y="229.1" font-family='"Liberation Serif", serif' font-size="10" fill="#111" text-anchor="middle" font-weight="bold" textLength="43.5" lengthAdjust="spacingAndGlyphs" >E / V vs SCE</text>
<line x1="199.6" y1="54.2" x2="212.8" y2="54.2" stroke="#5050e8" stroke-width="1.4" />
<text x="213.5" y="57.6" font-family='"Liberation Serif", serif' font-size="9.8" fill="#111" text-anchor="start" textLength="27.8" lengthAdjust="spacingAndGlyphs" >7.50 μM</text>
<line x1="199.6" y1="66.85" x2="212.8" y2="66.85" stroke="#b05a28" stroke-width="1.4" />
<text x="213.5" y="70.25" font-family='"Liberation Serif", serif' font-size="9.8" fill="#111" text-anchor="start" textLength="27.8" lengthAdjust="spacingAndGlyphs" >5.00 μM</text>
<line x1="199.6" y1="79.5" x2="212.8" y2="79.5" stroke="#2e6da4" stroke-width="1.4" />
<text x="213.5" y="82.9" font-family='"Liberation Serif", serif' font-size="9.8" fill="#111" text-anchor="start" textLength="27.8" lengthAdjust="spacingAndGlyphs" >2.50 μM</text>
<line x1="199.6" y1="92.15" x2="212.8" y2="92.15" stroke="#6aaa3a" stroke-width="1.4" />
<text x="213.5" y="95.55" font-family='"Liberation Serif", serif' font-size="9.8" fill="#111" text-anchor="start" textLength="27.8" lengthAdjust="spacingAndGlyphs" >1.00 μM</text>
<line x1="199.6" y1="104.8" x2="212.8" y2="104.8" stroke="#4472c4" stroke-width="1.4" />
<text x="213.5" y="108.2" font-family='"Liberation Serif", serif' font-size="9.8" fill="#111" text-anchor="start" textLength="27.8" lengthAdjust="spacingAndGlyphs" >0.50 μM</text>
<line x1="199.6" y1="117.45" x2="212.8" y2="117.45" stroke="#ffc000" stroke-width="1.4" />
<text x="213.5" y="120.85" font-family='"Liberation Serif", serif' font-size="9.8" fill="#111" text-anchor="start" textLength="27.8" lengthAdjust="spacingAndGlyphs" >0.25 μM</text>
<line x1="199.6" y1="130.1" x2="212.8" y2="130.1" stroke="#a5a5a5" stroke-width="1.4" />
<text x="213.5" y="133.5" font-family='"Liberation Serif", serif' font-size="9.8" fill="#111" text-anchor="start" textLength="27.8" lengthAdjust="spacingAndGlyphs" >0.10 μM</text>
<line x1="199.6" y1="142.75" x2="212.8" y2="142.75" stroke="#ed7d31" stroke-width="1.4" />
<text x="213.5" y="146.15" font-family='"Liberation Serif", serif' font-size="9.8" fill="#111" text-anchor="start" textLength="27.8" lengthAdjust="spacingAndGlyphs" >0.05 μM</text>
<line x1="199.6" y1="155.4" x2="212.8" y2="155.4" stroke="#ff0000" stroke-width="2.0" />
<text x="213.5" y="158.8" font-family='"Liberation Serif", serif' font-size="9.8" fill="#111" text-anchor="start" textLength="31" lengthAdjust="spacingAndGlyphs" >0.025 μM</text>
<line x1="190.8" y1="59" x2="190.8" y2="154.5" stroke="#111" stroke-width="1.3" />
<path d="M188.2,61.5 L190.8,56.5 L193.4,61.5Z" fill="#111"/>
<path d="M188.6,154.5 L190.8,152.3 L193,154.5 L190.8,156.7Z" fill="#111"/>
<path d="M339.34,106.2 L340.29,106.49 L341.24,106.79 L342.19,107.08 L343.14,107.37 L344.08,107.66 L345.03,107.95 L345.98,108.23 L346.93,108.52 L347.88,108.81 L348.83,109.09 L349.77,109.37 L350.72,109.66 L351.67,109.94 L352.62,110.22 L353.57,110.5 L354.52,110.77 L355.46,111.05 L356.41,111.33 L357.36,111.6 L358.31,111.87 L359.26,112.12 L360.21,112.36 L361.15,112.6 L362.1,112.82 L363.05,113.04 L364,113.26 L364.95,113.48 L365.9,113.69 L366.84,113.91 L367.79,114.12 L368.74,114.35 L369.69,114.58 L370.64,114.81 L371.58,115.06 L372.53,115.31 L373.48,115.58 L374.43,115.86 L375.38,116.16 L376.33,116.48 L377.27,116.81 L378.22,117.17 L379.17,117.55 L380.12,117.95 L381.07,118.42 L382.02,118.97 L382.96,119.59 L383.91,120.27 L384.86,121.01 L385.81,121.78 L386.76,122.59 L387.71,123.42 L388.65,124.27 L389.6,125.12 L390.55,125.98 L391.5,126.9 L392.45,127.87 L393.4,128.89 L394.34,129.95 L395.29,131.03 L396.24,132.14 L397.19,133.25 L398.14,134.36 L399.09,135.46 L400.03,136.54 L400.98,137.59 L401.93,138.61 L402.88,139.63 L403.83,140.66 L404.78,141.68 L405.72,142.69 L406.67,143.7 L407.62,144.71 L408.57,145.7 L409.52,146.69 L410.46,147.67 L411.41,148.63 L412.36,149.58 L413.31,150.51 L414.26,151.45 L415.21,152.38 L416.15,153.31 L417.1,154.22 L418.05,155.13 L419,156.02 L419.95,156.9 L420.9,157.76 L421.84,158.6 L422.79,159.41 L423.74,160.2 L424.69,160.98 L425.64,161.74 L426.59,162.5 L427.53,163.25 L428.48,163.98 L429.43,164.69 L430.38,165.38 L431.33,166.04 L432.28,166.69 L433.22,167.3 L434.17,167.88 L435.12,168.44 L436.07,168.99 L437.02,169.54 L437.97,170.08 L438.91,170.61 L439.86,171.14 L440.81,171.65 L441.76,172.15 L442.71,172.64 L443.65,173.12 L444.6,173.58 L445.55,174.02 L446.5,174.44 L447.45,174.85 L448.4,175.23 L449.34,175.59 L450.29,175.92 L451.24,176.23 L452.19,176.51 L453.14,176.77 L454.09,177.03 L455.03,177.29 L455.98,177.54 L456.93,177.78 L457.88,178.02 L458.83,178.23 L459.78,178.43 L460.72,178.61 L461.67,178.77 L462.62,178.9 L463.57,178.99 L464.52,179.06 L465.47,179.09 L466.41,179.11 L467.36,179.13 L468.31,179.15 L469.26,179.17 L470.21,179.18 L471.16,179.2 L472.1,179.21 L473.05,179.22 L474,179.24 L474.95,179.24 L475.9,179.25 L476.85,179.26 L477.79,179.26 L478.74,179.27 L479.69,179.27 L480.64,179.26 L481.59,179.21 L482.53,179.13 L483.48,179.01 L484.43,178.87 L485.38,178.7 L486.33,178.51 L487.28,178.3 L488.22,178.07 L489.17,177.83 L490.12,177.58 L491.07,177.32 L492.02,177.06 L492.97,176.8 L493.91,176.54 L494.86,176.28 L495.81,176.01 L496.76,175.71 L497.71,175.4 L498.66,175.07 L499.6,174.72 L500.55,174.35 L501.5,173.97 L502.45,173.57 L503.4,173.15 L504.35,172.72 L505.29,172.27 L506.24,171.82 L507.19,171.35 L508.14,170.86 L509.09,170.37 L510.04,169.86 L510.98,169.35" fill="none" stroke="#1a8f8f" stroke-width="1.15"/>
<path d="M339.34,102.31 L340.29,102.64 L341.24,102.98 L342.19,103.31 L343.14,103.64 L344.08,103.96 L345.03,104.28 L345.98,104.61 L346.93,104.92 L347.88,105.24 L348.83,105.56 L349.77,105.87 L350.72,106.18 L351.67,106.49 L352.62,106.8 L353.57,107.1 L354.52,107.4 L355.46,107.69 L356.41,107.98 L357.36,108.27 L358.31,108.55 L359.26,108.81 L360.21,109.07 L361.15,109.32 L362.1,109.56 L363.05,109.8 L364,110.04 L364.95,110.28 L365.9,110.52 L366.84,110.76 L367.79,111.01 L368.74,111.27 L369.69,111.53 L370.64,111.82 L371.58,112.12 L372.53,112.43 L373.48,112.76 L374.43,113.11 L375.38,113.47 L376.33,113.84 L377.27,114.22 L378.22,114.6 L379.17,114.99 L380.12,115.38 L381.07,115.8 L382.02,116.26 L382.96,116.76 L383.91,117.27 L384.86,117.79 L385.81,118.3 L386.76,118.8 L387.71,119.28 L388.65,119.72 L389.6,120.13 L390.55,120.5 L391.5,120.88 L392.45,121.27 L393.4,121.67 L394.34,122.07 L395.29,122.47 L396.24,122.87 L397.19,123.29 L398.14,123.73 L399.09,124.2 L400.03,124.7 L400.98,125.25 L401.93,125.85 L402.88,126.55 L403.83,127.34 L404.78,128.24 L405.72,129.24 L406.67,130.35 L407.62,131.56 L408.57,132.87 L409.52,134.26 L410.46,135.72 L411.41,137.24 L412.36,138.8 L413.31,140.38 L414.26,142 L415.21,143.61 L416.15,145.22 L417.1,146.81 L418.05,148.36 L419,149.86 L419.95,151.31 L420.9,152.7 L421.84,154.01 L422.79,155.26 L423.74,156.43 L424.69,157.53 L425.64,158.57 L426.59,159.56 L427.53,160.5 L428.48,161.38 L429.43,162.22 L430.38,163.01 L431.33,163.76 L432.28,164.48 L433.22,165.15 L434.17,165.79 L435.12,166.4 L436.07,167 L437.02,167.59 L437.97,168.16 L438.91,168.73 L439.86,169.28 L440.81,169.82 L441.76,170.35 L442.71,170.87 L443.65,171.38 L444.6,171.87 L445.55,172.34 L446.5,172.79 L447.45,173.21 L448.4,173.59 L449.34,173.93 L450.29,174.26 L451.24,174.56 L452.19,174.84 L453.14,175.09 L454.09,175.35 L455.03,175.6 L455.98,175.85 L456.93,176.08 L457.88,176.31 L458.83,176.51 L459.78,176.7 L460.72,176.87 L461.67,177.02 L462.62,177.14 L463.57,177.23 L464.52,177.28 L465.47,177.31 L466.41,177.33 L467.36,177.34 L468.31,177.36 L469.26,177.37 L470.21,177.38 L471.16,177.39 L472.1,177.39 L473.05,177.4 L474,177.4 L474.95,177.4 L475.9,177.4 L476.85,177.4 L477.79,177.4 L478.74,177.39 L479.69,177.38 L480.64,177.37 L481.59,177.31 L482.53,177.23 L483.48,177.11 L484.43,176.96 L485.38,176.79 L486.33,176.6 L487.28,176.39 L488.22,176.17 L489.17,175.93 L490.12,175.68 L491.07,175.42 L492.02,175.16 L492.97,174.9 L493.91,174.64 L494.86,174.39 L495.81,174.11 L496.76,173.83 L497.71,173.52 L498.66,173.19 L499.6,172.85 L500.55,172.49 L501.5,172.11 L502.45,171.72 L503.4,171.31 L504.35,170.89 L505.29,170.46 L506.24,170.01 L507.19,169.55 L508.14,169.08 L509.09,168.6 L510.04,168.11 L510.98,167.61" fill="none" stroke="#1a8f8f" stroke-width="1.15"/>
<path d="M339.34,99.02 L340.29,99.4 L341.24,99.77 L342.19,100.13 L343.14,100.49 L344.08,100.85 L345.03,101.2 L345.98,101.55 L346.93,101.9 L347.88,102.24 L348.83,102.58 L349.77,102.92 L350.72,103.26 L351.67,103.59 L352.62,103.92 L353.57,104.24 L354.52,104.56 L355.46,104.87 L356.41,105.17 L357.36,105.47 L358.31,105.75 L359.26,106.03 L360.21,106.29 L361.15,106.55 L362.1,106.81 L363.05,107.07 L364,107.32 L364.95,107.59 L365.9,107.85 L366.84,108.12 L367.79,108.4 L368.74,108.69 L369.69,108.99 L370.64,109.32 L371.58,109.68 L372.53,110.06 L373.48,110.47 L374.43,110.9 L375.38,111.35 L376.33,111.82 L377.27,112.3 L378.22,112.8 L379.17,113.31 L380.12,113.82 L381.07,114.38 L382.02,114.98 L382.96,115.63 L383.91,116.31 L384.86,117.01 L385.81,117.73 L386.76,118.45 L387.71,119.17 L388.65,119.88 L389.6,120.55 L390.55,121.2 L391.5,121.84 L392.45,122.48 L393.4,123.07 L394.34,123.61 L395.29,124.06 L396.24,124.42 L397.19,124.7 L398.14,124.87 L399.09,124.95 L400.03,124.94 L400.98,124.84 L401.93,124.68 L402.88,124.49 L403.83,124.31 L404.78,124.17 L405.72,124.1 L406.67,124.12 L407.62,124.28 L408.57,124.6 L409.52,125.1 L410.46,125.8 L411.41,126.7 L412.36,127.81 L413.31,129.13 L414.26,130.65 L415.21,132.34 L416.15,134.18 L417.1,136.15 L418.05,138.2 L419,140.29 L419.95,142.4 L420.9,144.49 L421.84,146.52 L422.79,148.48 L423.74,150.34 L424.69,152.09 L425.64,153.73 L426.59,155.25 L427.53,156.66 L428.48,157.95 L429.43,159.13 L430.38,160.22 L431.33,161.21 L432.28,162.13 L433.22,162.97 L434.17,163.75 L435.12,164.48 L436.07,165.17 L437.02,165.84 L437.97,166.47 L438.91,167.09 L439.86,167.68 L440.81,168.25 L441.76,168.81 L442.71,169.36 L443.65,169.9 L444.6,170.43 L445.55,170.93 L446.5,171.39 L447.45,171.82 L448.4,172.2 L449.34,172.54 L450.29,172.85 L451.24,173.15 L452.19,173.42 L453.14,173.68 L454.09,173.93 L455.03,174.18 L455.98,174.42 L456.93,174.65 L457.88,174.87 L458.83,175.07 L459.78,175.25 L460.72,175.41 L461.67,175.55 L462.62,175.66 L463.57,175.74 L464.52,175.79 L465.47,175.81 L466.41,175.83 L467.36,175.84 L468.31,175.85 L469.26,175.85 L470.21,175.86 L471.16,175.86 L472.1,175.86 L473.05,175.86 L474,175.86 L474.95,175.85 L475.9,175.84 L476.85,175.84 L477.79,175.83 L478.74,175.81 L479.69,175.8 L480.64,175.77 L481.59,175.72 L482.53,175.63 L483.48,175.51 L484.43,175.36 L485.38,175.19 L486.33,175 L487.28,174.79 L488.22,174.56 L489.17,174.33 L490.12,174.08 L491.07,173.82 L492.02,173.57 L492.97,173.3 L493.91,173.05 L494.86,172.79 L495.81,172.52 L496.76,172.23 L497.71,171.93 L498.66,171.61 L499.6,171.27 L500.55,170.92 L501.5,170.55 L502.45,170.17 L503.4,169.77 L504.35,169.36 L505.29,168.93 L506.24,168.5 L507.19,168.05 L508.14,167.59 L509.09,167.12 L510.04,166.64 L510.98,166.15" fill="none" stroke="#1a8f8f" stroke-width="1.15"/>
<path d="M339.34,95.54 L340.29,95.95 L341.24,96.35 L342.19,96.76 L343.14,97.15 L344.08,97.54 L345.03,97.92 L345.98,98.3 L346.93,98.68 L347.88,99.05 L348.83,99.42 L349.77,99.79 L350.72,100.15 L351.67,100.51 L352.62,100.86 L353.57,101.2 L354.52,101.54 L355.46,101.86 L356.41,102.18 L357.36,102.49 L358.31,102.78 L359.26,103.07 L360.21,103.34 L361.15,103.62 L362.1,103.89 L363.05,104.16 L364,104.44 L364.95,104.73 L365.9,105.02 L366.84,105.31 L367.79,105.62 L368.74,105.94 L369.69,106.28 L370.64,106.66 L371.58,107.07 L372.53,107.52 L373.48,107.99 L374.43,108.49 L375.38,109.02 L376.33,109.56 L377.27,110.12 L378.22,110.69 L379.17,111.27 L380.12,111.86 L381.07,112.47 L382.02,113.13 L382.96,113.81 L383.91,114.54 L384.86,115.29 L385.81,116.06 L386.76,116.85 L387.71,117.66 L388.65,118.47 L389.6,119.27 L390.55,120.07 L391.5,120.9 L392.45,121.73 L393.4,122.53 L394.34,123.27 L395.29,123.92 L396.24,124.44 L397.19,124.83 L398.14,125.05 L399.09,125.08 L400.03,124.9 L400.98,124.49 L401.93,123.85 L402.88,123 L403.83,121.95 L404.78,120.75 L405.72,119.43 L406.67,118.06 L407.62,116.7 L408.57,115.44 L409.52,114.36 L410.46,113.53 L411.41,113.04 L412.36,112.94 L413.31,113.29 L414.26,114.11 L415.21,115.42 L416.15,117.19 L417.1,119.4 L418.05,121.98 L419,124.85 L419.95,127.93 L420.9,131.15 L421.84,134.4 L422.79,137.62 L423.74,140.73 L424.69,143.68 L425.64,146.43 L426.59,148.96 L427.53,151.25 L428.48,153.3 L429.43,155.12 L430.38,156.74 L431.33,158.16 L432.28,159.42 L433.22,160.53 L434.17,161.52 L435.12,162.42 L436.07,163.23 L437.02,163.99 L437.97,164.7 L438.91,165.37 L439.86,166 L440.81,166.6 L441.76,167.19 L442.71,167.77 L443.65,168.34 L444.6,168.9 L445.55,169.43 L446.5,169.92 L447.45,170.35 L448.4,170.73 L449.34,171.06 L450.29,171.36 L451.24,171.65 L452.19,171.92 L453.14,172.18 L454.09,172.43 L455.03,172.67 L455.98,172.91 L456.93,173.13 L457.88,173.34 L458.83,173.53 L459.78,173.7 L460.72,173.85 L461.67,173.98 L462.62,174.08 L463.57,174.16 L464.52,174.2 L465.47,174.22 L466.41,174.23 L467.36,174.24 L468.31,174.24 L469.26,174.24 L470.21,174.24 L471.16,174.24 L472.1,174.23 L473.05,174.22 L474,174.22 L474.95,174.2 L475.9,174.19 L476.85,174.17 L477.79,174.16 L478.74,174.14 L479.69,174.12 L480.64,174.08 L481.59,174.02 L482.53,173.93 L483.48,173.8 L484.43,173.66 L485.38,173.48 L486.33,173.29 L487.28,173.08 L488.22,172.86 L489.17,172.63 L490.12,172.38 L491.07,172.13 L492.02,171.87 L492.97,171.61 L493.91,171.35 L494.86,171.09 L495.81,170.82 L496.76,170.54 L497.71,170.25 L498.66,169.93 L499.6,169.6 L500.55,169.25 L501.5,168.89 L502.45,168.52 L503.4,168.13 L504.35,167.72 L505.29,167.31 L506.24,166.88 L507.19,166.44 L508.14,165.99 L509.09,165.54 L510.04,165.07 L510.98,164.59" fill="none" stroke="#1a8f8f" stroke-width="1.15"/>
<path d="M339.34,92.26 L340.29,92.7 L341.24,93.14 L342.19,93.58 L343.14,94.01 L344.08,94.43 L345.03,94.84 L345.98,95.25 L346.93,95.65 L347.88,96.05 L348.83,96.45 L349.77,96.84 L350.72,97.23 L351.67,97.61 L352.62,97.98 L353.57,98.34 L354.52,98.69 L355.46,99.04 L356.41,99.36 L357.36,99.68 L358.31,99.99 L359.26,100.28 L360.21,100.57 L361.15,100.85 L362.1,101.14 L363.05,101.43 L364,101.73 L364.95,102.03 L365.9,102.35 L366.84,102.67 L367.79,103 L368.74,103.35 L369.69,103.73 L370.64,104.15 L371.58,104.61 L372.53,105.12 L373.48,105.66 L374.43,106.22 L375.38,106.82 L376.33,107.43 L377.27,108.06 L378.22,108.7 L379.17,109.34 L380.12,109.98 L381.07,110.64 L382.02,111.33 L382.96,112.04 L383.91,112.78 L384.86,113.54 L385.81,114.32 L386.76,115.11 L387.71,115.92 L388.65,116.74 L389.6,117.56 L390.55,118.39 L391.5,119.24 L392.45,120.1 L393.4,120.93 L394.34,121.69 L395.29,122.36 L396.24,122.89 L397.19,123.28 L398.14,123.5 L399.09,123.51 L400.03,123.29 L400.98,122.81 L401.93,122.05 L402.88,121.03 L403.83,119.74 L404.78,118.22 L405.72,116.51 L406.67,114.65 L407.62,112.74 L408.57,110.84 L409.52,109.06 L410.46,107.5 L411.41,106.26 L412.36,105.43 L413.31,105.09 L414.26,105.3 L415.21,106.1 L416.15,107.5 L417.1,109.48 L418.05,111.98 L419,114.93 L419.95,118.25 L420.9,121.82 L421.84,125.56 L422.79,129.34 L423.74,133.08 L424.69,136.69 L425.64,140.11 L426.59,143.28 L427.53,146.19 L428.48,148.8 L429.43,151.14 L430.38,153.2 L431.33,155.01 L432.28,156.59 L433.22,157.98 L434.17,159.2 L435.12,160.29 L436.07,161.25 L437.02,162.13 L437.97,162.93 L438.91,163.67 L439.86,164.36 L440.81,165.01 L441.76,165.63 L442.71,166.25 L443.65,166.86 L444.6,167.45 L445.55,168.01 L446.5,168.52 L447.45,168.97 L448.4,169.35 L449.34,169.66 L450.29,169.96 L451.24,170.24 L452.19,170.51 L453.14,170.77 L454.09,171.02 L455.03,171.26 L455.98,171.48 L456.93,171.7 L457.88,171.9 L458.83,172.08 L459.78,172.24 L460.72,172.39 L461.67,172.51 L462.62,172.6 L463.57,172.67 L464.52,172.71 L465.47,172.72 L466.41,172.73 L467.36,172.73 L468.31,172.73 L469.26,172.73 L470.21,172.72 L471.16,172.71 L472.1,172.7 L473.05,172.69 L474,172.67 L474.95,172.65 L475.9,172.63 L476.85,172.61 L477.79,172.59 L478.74,172.56 L479.69,172.53 L480.64,172.49 L481.59,172.42 L482.53,172.33 L483.48,172.2 L484.43,172.05 L485.38,171.88 L486.33,171.69 L487.28,171.48 L488.22,171.26 L489.17,171.02 L490.12,170.78 L491.07,170.53 L492.02,170.27 L492.97,170.01 L493.91,169.75 L494.86,169.49 L495.81,169.23 L496.76,168.95 L497.71,168.66 L498.66,168.35 L499.6,168.03 L500.55,167.69 L501.5,167.33 L502.45,166.96 L503.4,166.58 L504.35,166.19 L505.29,165.78 L506.24,165.36 L507.19,164.94 L508.14,164.5 L509.09,164.05 L510.04,163.59 L510.98,163.13" fill="none" stroke="#1a8f8f" stroke-width="1.15"/>
<path d="M339.34,91.66 L340.29,92.11 L341.24,92.56 L342.19,93 L343.14,93.44 L344.08,93.86 L345.03,94.28 L345.98,94.69 L346.93,95.1 L347.88,95.51 L348.83,95.91 L349.77,96.3 L350.72,96.69 L351.67,97.08 L352.62,97.45 L353.57,97.82 L354.52,98.18 L355.46,98.52 L356.41,98.85 L357.36,99.17 L358.31,99.48 L359.26,99.77 L360.21,100.06 L361.15,100.35 L362.1,100.64 L363.05,100.93 L364,101.23 L364.95,101.55 L365.9,101.87 L366.84,102.19 L367.79,102.52 L368.74,102.88 L369.69,103.27 L370.64,103.69 L371.58,104.17 L372.53,104.68 L373.48,105.23 L374.43,105.81 L375.38,106.42 L376.33,107.04 L377.27,107.69 L378.22,108.34 L379.17,108.99 L380.12,109.64 L381.07,110.31 L382.02,111 L382.96,111.72 L383.91,112.46 L384.86,113.22 L385.81,114 L386.76,114.8 L387.71,115.61 L388.65,116.43 L389.6,117.26 L390.55,118.09 L391.5,118.95 L392.45,119.82 L393.4,120.66 L394.34,121.44 L395.29,122.11 L396.24,122.65 L397.19,123.04 L398.14,123.25 L399.09,123.23 L400.03,122.96 L400.98,122.4 L401.93,121.52 L402.88,120.32 L403.83,118.79 L404.78,116.95 L405.72,114.81 L406.67,112.45 L407.62,109.92 L408.57,107.31 L409.52,104.72 L410.46,102.29 L411.41,100.11 L412.36,98.32 L413.31,97.04 L414.26,96.35 L415.21,96.33 L416.15,97.03 L417.1,98.46 L418.05,100.59 L419,103.37 L419.95,106.72 L420.9,110.52 L421.84,114.65 L422.79,119 L423.74,123.44 L424.69,127.84 L425.64,132.12 L426.59,136.18 L427.53,139.96 L428.48,143.43 L429.43,146.57 L430.38,149.36 L431.33,151.82 L432.28,153.98 L433.22,155.86 L434.17,157.49 L435.12,158.91 L436.07,160.15 L437.02,161.24 L437.97,162.21 L438.91,163.08 L439.86,163.86 L440.81,164.58 L441.76,165.25 L442.71,165.91 L443.65,166.55 L444.6,167.16 L445.55,167.73 L446.5,168.25 L447.45,168.71 L448.4,169.09 L449.34,169.41 L450.29,169.7 L451.24,169.99 L452.19,170.26 L453.14,170.51 L454.09,170.76 L455.03,171 L455.98,171.22 L456.93,171.44 L457.88,171.63 L458.83,171.82 L459.78,171.98 L460.72,172.12 L461.67,172.24 L462.62,172.33 L463.57,172.4 L464.52,172.44 L465.47,172.45 L466.41,172.46 L467.36,172.46 L468.31,172.46 L469.26,172.45 L470.21,172.44 L471.16,172.43 L472.1,172.42 L473.05,172.41 L474,172.39 L474.95,172.37 L475.9,172.35 L476.85,172.33 L477.79,172.3 L478.74,172.27 L479.69,172.24 L480.64,172.2 L481.59,172.13 L482.53,172.03 L483.48,171.91 L484.43,171.76 L485.38,171.59 L486.33,171.4 L487.28,171.19 L488.22,170.97 L489.17,170.73 L490.12,170.49 L491.07,170.24 L492.02,169.98 L492.97,169.72 L493.91,169.46 L494.86,169.2 L495.81,168.94 L496.76,168.66 L497.71,168.37 L498.66,168.06 L499.6,167.74 L500.55,167.4 L501.5,167.05 L502.45,166.68 L503.4,166.3 L504.35,165.91 L505.29,165.5 L506.24,165.09 L507.19,164.66 L508.14,164.22 L509.09,163.78 L510.04,163.32 L510.98,162.86" fill="none" stroke="#1a8f8f" stroke-width="1.15"/>
<path d="M339.34,91.06 L340.29,91.52 L341.24,91.98 L342.19,92.42 L343.14,92.86 L344.08,93.3 L345.03,93.72 L345.98,94.14 L346.93,94.55 L347.88,94.96 L348.83,95.37 L349.77,95.77 L350.72,96.16 L351.67,96.55 L352.62,96.93 L353.57,97.3 L354.52,97.66 L355.46,98.01 L356.41,98.34 L357.36,98.66 L358.31,98.97 L359.26,99.27 L360.21,99.56 L361.15,99.85 L362.1,100.14 L363.05,100.43 L364,100.74 L364.95,101.06 L365.9,101.38 L366.84,101.71 L367.79,102.05 L368.74,102.41 L369.69,102.8 L370.64,103.24 L371.58,103.72 L372.53,104.24 L373.48,104.81 L374.43,105.4 L375.38,106.02 L376.33,106.66 L377.27,107.31 L378.22,107.97 L379.17,108.64 L380.12,109.3 L381.07,109.98 L382.02,110.68 L382.96,111.4 L383.91,112.14 L384.86,112.9 L385.81,113.68 L386.76,114.48 L387.71,115.29 L388.65,116.1 L389.6,116.92 L390.55,117.74 L391.5,118.59 L392.45,119.44 L393.4,120.25 L394.34,120.99 L395.29,121.61 L396.24,122.07 L397.19,122.37 L398.14,122.45 L399.09,122.29 L400.03,121.83 L400.98,121.04 L401.93,119.89 L402.88,118.37 L403.83,116.48 L404.78,114.22 L405.72,111.64 L406.67,108.8 L407.62,105.76 L408.57,102.63 L409.52,99.54 L410.46,96.61 L411.41,93.99 L412.36,91.81 L413.31,90.2 L414.26,89.27 L415.21,89.12 L416.15,89.78 L417.1,91.28 L418.05,93.59 L419,96.63 L419.95,100.32 L420.9,104.53 L421.84,109.14 L422.79,113.99 L423.74,118.94 L424.69,123.86 L425.64,128.63 L426.59,133.17 L427.53,137.39 L428.48,141.25 L429.43,144.73 L430.38,147.83 L431.33,150.55 L432.28,152.92 L433.22,154.98 L434.17,156.75 L435.12,158.29 L436.07,159.62 L437.02,160.78 L437.97,161.8 L438.91,162.71 L439.86,163.52 L440.81,164.26 L441.76,164.95 L442.71,165.62 L443.65,166.27 L444.6,166.89 L445.55,167.47 L446.5,168 L447.45,168.46 L448.4,168.84 L449.34,169.15 L450.29,169.45 L451.24,169.73 L452.19,170 L453.14,170.25 L454.09,170.5 L455.03,170.74 L455.98,170.96 L456.93,171.18 L457.88,171.37 L458.83,171.55 L459.78,171.71 L460.72,171.85 L461.67,171.97 L462.62,172.06 L463.57,172.13 L464.52,172.17 L465.47,172.18 L466.41,172.18 L467.36,172.18 L468.31,172.18 L469.26,172.18 L470.21,172.17 L471.16,172.16 L472.1,172.14 L473.05,172.13 L474,172.11 L474.95,172.09 L475.9,172.07 L476.85,172.04 L477.79,172.01 L478.74,171.99 L479.69,171.95 L480.64,171.91 L481.59,171.84 L482.53,171.74 L483.48,171.62 L484.43,171.47 L485.38,171.3 L486.33,171.11 L487.28,170.9 L488.22,170.68 L489.17,170.44 L490.12,170.2 L491.07,169.95 L492.02,169.69 L492.97,169.43 L493.91,169.17 L494.86,168.91 L495.81,168.65 L496.76,168.37 L497.71,168.08 L498.66,167.78 L499.6,167.45 L500.55,167.11 L501.5,166.76 L502.45,166.4 L503.4,166.02 L504.35,165.63 L505.29,165.23 L506.24,164.81 L507.19,164.39 L508.14,163.95 L509.09,163.51 L510.04,163.05 L510.98,162.59" fill="none" stroke="#1a8f8f" stroke-width="1.15"/>
<path d="M339.34,90.47 L340.29,90.93 L341.24,91.39 L342.19,91.85 L343.14,92.29 L344.08,92.73 L345.03,93.16 L345.98,93.58 L346.93,94 L347.88,94.42 L348.83,94.83 L349.77,95.23 L350.72,95.63 L351.67,96.02 L352.62,96.41 L353.57,96.78 L354.52,97.14 L355.46,97.49 L356.41,97.83 L357.36,98.15 L358.31,98.46 L359.26,98.76 L360.21,99.05 L361.15,99.35 L362.1,99.64 L363.05,99.94 L364,100.25 L364.95,100.57 L365.9,100.9 L366.84,101.23 L367.79,101.57 L368.74,101.94 L369.69,102.34 L370.64,102.78 L371.58,103.27 L372.53,103.81 L373.48,104.38 L374.43,104.99 L375.38,105.62 L376.33,106.27 L377.27,106.94 L378.22,107.61 L379.17,108.29 L380.12,108.96 L381.07,109.64 L382.02,110.35 L382.96,111.07 L383.91,111.82 L384.86,112.58 L385.81,113.36 L386.76,114.15 L387.71,114.96 L388.65,115.77 L389.6,116.59 L390.55,117.4 L391.5,118.24 L392.45,119.07 L393.4,119.86 L394.34,120.56 L395.29,121.13 L396.24,121.54 L397.19,121.75 L398.14,121.73 L399.09,121.43 L400.03,120.8 L400.98,119.82 L401.93,118.43 L402.88,116.64 L403.83,114.44 L404.78,111.83 L405.72,108.87 L406.67,105.6 L407.62,102.13 L408.57,98.56 L409.52,95.03 L410.46,91.68 L411.41,88.67 L412.36,86.15 L413.31,84.26 L414.26,83.13 L415.21,82.86 L416.15,83.49 L417.1,85.05 L418.05,87.5 L419,90.77 L419.95,94.76 L420.9,99.33 L421.84,104.34 L422.79,109.62 L423.74,115.01 L424.69,120.38 L425.64,125.59 L426.59,130.53 L427.53,135.12 L428.48,139.33 L429.43,143.11 L430.38,146.47 L431.33,149.41 L432.28,151.97 L433.22,154.18 L434.17,156.08 L435.12,157.71 L436.07,159.12 L437.02,160.34 L437.97,161.41 L438.91,162.35 L439.86,163.19 L440.81,163.94 L441.76,164.65 L442.71,165.34 L443.65,166 L444.6,166.63 L445.55,167.21 L446.5,167.74 L447.45,168.21 L448.4,168.59 L449.34,168.9 L450.29,169.19 L451.24,169.47 L452.19,169.74 L453.14,170 L454.09,170.24 L455.03,170.48 L455.98,170.71 L456.93,170.92 L457.88,171.11 L458.83,171.29 L459.78,171.45 L460.72,171.59 L461.67,171.7 L462.62,171.79 L463.57,171.86 L464.52,171.9 L465.47,171.91 L466.41,171.91 L467.36,171.91 L468.31,171.91 L469.26,171.9 L470.21,171.89 L471.16,171.88 L472.1,171.86 L473.05,171.85 L474,171.83 L474.95,171.81 L475.9,171.78 L476.85,171.76 L477.79,171.73 L478.74,171.7 L479.69,171.67 L480.64,171.62 L481.59,171.55 L482.53,171.45 L483.48,171.33 L484.43,171.18 L485.38,171 L486.33,170.81 L487.28,170.61 L488.22,170.38 L489.17,170.15 L490.12,169.91 L491.07,169.65 L492.02,169.4 L492.97,169.14 L493.91,168.88 L494.86,168.62 L495.81,168.36 L496.76,168.08 L497.71,167.79 L498.66,167.49 L499.6,167.17 L500.55,166.83 L501.5,166.48 L502.45,166.12 L503.4,165.74 L504.35,165.35 L505.29,164.95 L506.24,164.54 L507.19,164.11 L508.14,163.68 L509.09,163.24 L510.04,162.79 L510.98,162.33" fill="none" stroke="#1a8f8f" stroke-width="1.15"/>
<path d="M339.34,89.87 L340.29,90.34 L341.24,90.81 L342.19,91.27 L343.14,91.72 L344.08,92.16 L345.03,92.6 L345.98,93.02 L346.93,93.45 L347.88,93.87 L348.83,94.29 L349.77,94.7 L350.72,95.1 L351.67,95.49 L352.62,95.88 L353.57,96.26 L354.52,96.62 L355.46,96.98 L356.41,97.32 L357.36,97.64 L358.31,97.95 L359.26,98.25 L360.21,98.55 L361.15,98.84 L362.1,99.14 L363.05,99.44 L364,99.75 L364.95,100.08 L365.9,100.41 L366.84,100.75 L367.79,101.1 L368.74,101.47 L369.69,101.87 L370.64,102.32 L371.58,102.83 L372.53,103.37 L373.48,103.96 L374.43,104.57 L375.38,105.22 L376.33,105.88 L377.27,106.56 L378.22,107.25 L379.17,107.94 L380.12,108.62 L381.07,109.31 L382.02,110.02 L382.96,110.75 L383.91,111.5 L384.86,112.26 L385.81,113.04 L386.76,113.83 L387.71,114.64 L388.65,115.44 L389.6,116.25 L390.55,117.06 L391.5,117.89 L392.45,118.71 L393.4,119.47 L394.34,120.14 L395.29,120.66 L396.24,121 L397.19,121.13 L398.14,121 L399.09,120.57 L400.03,119.78 L400.98,118.6 L401.93,116.98 L402.88,114.92 L403.83,112.4 L404.78,109.44 L405.72,106.09 L406.67,102.41 L407.62,98.5 L408.57,94.49 L409.52,90.51 L410.46,86.74 L411.41,83.34 L412.36,80.48 L413.31,78.32 L414.26,76.99 L415.21,76.59 L416.15,77.2 L417.1,78.82 L418.05,81.42 L419,84.92 L419.95,89.2 L420.9,94.13 L421.84,99.54 L422.79,105.25 L423.74,111.09 L424.69,116.9 L425.64,122.54 L426.59,127.89 L427.53,132.86 L428.48,137.4 L429.43,141.49 L430.38,145.1 L431.33,148.27 L432.28,151.01 L433.22,153.37 L434.17,155.4 L435.12,157.13 L436.07,158.62 L437.02,159.9 L437.97,161.02 L438.91,161.99 L439.86,162.86 L440.81,163.63 L441.76,164.35 L442.71,165.05 L443.65,165.72 L444.6,166.36 L445.55,166.95 L446.5,167.49 L447.45,167.95 L448.4,168.34 L449.34,168.64 L450.29,168.94 L451.24,169.22 L452.19,169.49 L453.14,169.74 L454.09,169.99 L455.03,170.22 L455.98,170.45 L456.93,170.66 L457.88,170.85 L458.83,171.03 L459.78,171.18 L460.72,171.32 L461.67,171.44 L462.62,171.53 L463.57,171.59 L464.52,171.63 L465.47,171.64 L466.41,171.64 L467.36,171.64 L468.31,171.63 L469.26,171.62 L470.21,171.61 L471.16,171.6 L472.1,171.59 L473.05,171.57 L474,171.55 L474.95,171.52 L475.9,171.5 L476.85,171.47 L477.79,171.44 L478.74,171.41 L479.69,171.38 L480.64,171.34 L481.59,171.26 L482.53,171.16 L483.48,171.04 L484.43,170.88 L485.38,170.71 L486.33,170.52 L487.28,170.31 L488.22,170.09 L489.17,169.86 L490.12,169.62 L491.07,169.36 L492.02,169.11 L492.97,168.85 L493.91,168.59 L494.86,168.33 L495.81,168.07 L496.76,167.8 L497.71,167.51 L498.66,167.2 L499.6,166.88 L500.55,166.54 L501.5,166.2 L502.45,165.83 L503.4,165.46 L504.35,165.07 L505.29,164.67 L506.24,164.26 L507.19,163.84 L508.14,163.41 L509.09,162.97 L510.04,162.52 L510.98,162.06" fill="none" stroke="#1a8f8f" stroke-width="1.15"/>
<path d="M339.34,89.27 L340.29,89.75 L341.24,90.23 L342.19,90.69 L343.14,91.15 L344.08,91.6 L345.03,92.04 L345.98,92.47 L346.93,92.9 L347.88,93.32 L348.83,93.75 L349.77,94.16 L350.72,94.57 L351.67,94.97 L352.62,95.36 L353.57,95.74 L354.52,96.11 L355.46,96.47 L356.41,96.81 L357.36,97.13 L358.31,97.44 L359.26,97.75 L360.21,98.05 L361.15,98.34 L362.1,98.64 L363.05,98.94 L364,99.26 L364.95,99.59 L365.9,99.92 L366.84,100.27 L367.79,100.62 L368.74,101 L369.69,101.41 L370.64,101.87 L371.58,102.38 L372.53,102.94 L373.48,103.53 L374.43,104.16 L375.38,104.82 L376.33,105.5 L377.27,106.19 L378.22,106.89 L379.17,107.59 L380.12,108.28 L381.07,108.98 L382.02,109.69 L382.96,110.43 L383.91,111.17 L384.86,111.94 L385.81,112.72 L386.76,113.51 L387.71,114.31 L388.65,115.12 L389.6,115.92 L390.55,116.72 L391.5,117.53 L392.45,118.33 L393.4,119.07 L394.34,119.7 L395.29,120.17 L396.24,120.44 L397.19,120.48 L398.14,120.23 L399.09,119.66 L400.03,118.69 L400.98,117.29 L401.93,115.42 L402.88,113.06 L403.83,110.19 L404.78,106.85 L405.72,103.07 L406.67,98.94 L407.62,94.55 L408.57,90.05 L409.52,85.6 L410.46,81.36 L411.41,77.54 L412.36,74.31 L413.31,71.84 L414.26,70.29 L415.21,69.76 L416.15,70.34 L417.1,72.02 L418.05,74.78 L419,78.53 L419.95,83.14 L420.9,88.46 L421.84,94.31 L422.79,100.49 L423.74,106.82 L424.69,113.12 L425.64,119.23 L426.59,125.02 L427.53,130.41 L428.48,135.33 L429.43,139.74 L430.38,143.64 L431.33,147.05 L432.28,150 L433.22,152.53 L434.17,154.69 L435.12,156.53 L436.07,158.1 L437.02,159.45 L437.97,160.61 L438.91,161.63 L439.86,162.52 L440.81,163.31 L441.76,164.05 L442.71,164.76 L443.65,165.45 L444.6,166.09 L445.55,166.69 L446.5,167.23 L447.45,167.7 L448.4,168.08 L449.34,168.39 L450.29,168.68 L451.24,168.96 L452.19,169.23 L453.14,169.48 L454.09,169.73 L455.03,169.96 L455.98,170.19 L456.93,170.4 L457.88,170.59 L458.83,170.76 L459.78,170.92 L460.72,171.05 L461.67,171.17 L462.62,171.26 L463.57,171.32 L464.52,171.36 L465.47,171.36 L466.41,171.37 L467.36,171.36 L468.31,171.36 L469.26,171.35 L470.21,171.34 L471.16,171.32 L472.1,171.31 L473.05,171.29 L474,171.27 L474.95,171.24 L475.9,171.22 L476.85,171.19 L477.79,171.16 L478.74,171.12 L479.69,171.09 L480.64,171.05 L481.59,170.97 L482.53,170.87 L483.48,170.74 L484.43,170.59 L485.38,170.42 L486.33,170.23 L487.28,170.02 L488.22,169.8 L489.17,169.57 L490.12,169.32 L491.07,169.07 L492.02,168.82 L492.97,168.56 L493.91,168.3 L494.86,168.04 L495.81,167.78 L496.76,167.51 L497.71,167.22 L498.66,166.91 L499.6,166.59 L500.55,166.26 L501.5,165.91 L502.45,165.55 L503.4,165.18 L504.35,164.79 L505.29,164.39 L506.24,163.98 L507.19,163.56 L508.14,163.13 L509.09,162.7 L510.04,162.25 L510.98,161.79" fill="none" stroke="#1a8f8f" stroke-width="1.15"/>
<path d="M339.34,88.68 L340.29,89.16 L341.24,89.64 L342.19,90.11 L343.14,90.58 L344.08,91.03 L345.03,91.48 L345.98,91.91 L346.93,92.35 L347.88,92.78 L348.83,93.2 L349.77,93.62 L350.72,94.04 L351.67,94.44 L352.62,94.83 L353.57,95.22 L354.52,95.59 L355.46,95.95 L356.41,96.29 L357.36,96.62 L358.31,96.94 L359.26,97.24 L360.21,97.54 L361.15,97.84 L362.1,98.14 L363.05,98.45 L364,98.77 L364.95,99.1 L365.9,99.44 L366.84,99.78 L367.79,100.14 L368.74,100.53 L369.69,100.95 L370.64,101.41 L371.58,101.93 L372.53,102.5 L373.48,103.11 L374.43,103.75 L375.38,104.42 L376.33,105.11 L377.27,105.81 L378.22,106.52 L379.17,107.23 L380.12,107.94 L381.07,108.65 L382.02,109.37 L382.96,110.1 L383.91,110.85 L384.86,111.62 L385.81,112.4 L386.76,113.19 L387.71,113.98 L388.65,114.79 L389.6,115.59 L390.55,116.38 L391.5,117.18 L392.45,117.96 L393.4,118.68 L394.34,119.27 L395.29,119.7 L396.24,119.9 L397.19,119.85 L398.14,119.51 L399.09,118.8 L400.03,117.67 L400.98,116.07 L401.93,113.97 L402.88,111.33 L403.83,108.15 L404.78,104.46 L405.72,100.29 L406.67,95.74 L407.62,90.92 L408.57,85.98 L409.52,81.08 L410.46,76.43 L411.41,72.22 L412.36,68.65 L413.31,65.91 L414.26,64.15 L415.21,63.5 L416.15,64.04 L417.1,65.79 L418.05,68.69 L419,72.67 L419.95,77.58 L420.9,83.26 L421.84,89.51 L422.79,96.13 L423.74,102.9 L424.69,109.64 L425.64,116.18 L426.59,122.38 L427.53,128.15 L428.48,133.4 L429.43,138.11 L430.38,142.28 L431.33,145.91 L432.28,149.04 L433.22,151.72 L434.17,154.01 L435.12,155.95 L436.07,157.6 L437.02,159.01 L437.97,160.22 L438.91,161.27 L439.86,162.19 L440.81,163 L441.76,163.75 L442.71,164.48 L443.65,165.17 L444.6,165.82 L445.55,166.43 L446.5,166.98 L447.45,167.45 L448.4,167.83 L449.34,168.14 L450.29,168.43 L451.24,168.71 L452.19,168.97 L453.14,169.23 L454.09,169.47 L455.03,169.71 L455.98,169.93 L456.93,170.13 L457.88,170.33 L458.83,170.5 L459.78,170.65 L460.72,170.79 L461.67,170.9 L462.62,170.99 L463.57,171.05 L464.52,171.08 L465.47,171.09 L466.41,171.09 L467.36,171.09 L468.31,171.08 L469.26,171.07 L470.21,171.06 L471.16,171.05 L472.1,171.03 L473.05,171.01 L474,170.99 L474.95,170.96 L475.9,170.93 L476.85,170.9 L477.79,170.87 L478.74,170.84 L479.69,170.8 L480.64,170.76 L481.59,170.68 L482.53,170.58 L483.48,170.45 L484.43,170.3 L485.38,170.13 L486.33,169.94 L487.28,169.73 L488.22,169.51 L489.17,169.28 L490.12,169.03 L491.07,168.78 L492.02,168.53 L492.97,168.27 L493.91,168.01 L494.86,167.75 L495.81,167.49 L496.76,167.22 L497.71,166.93 L498.66,166.63 L499.6,166.31 L500.55,165.97 L501.5,165.63 L502.45,165.27 L503.4,164.9 L504.35,164.51 L505.29,164.11 L506.24,163.71 L507.19,163.29 L508.14,162.86 L509.09,162.43 L510.04,161.98 L510.98,161.53" fill="none" stroke="#1a8f8f" stroke-width="1.15"/>
<path d="M339.34,88.08 L340.29,88.57 L341.24,89.06 L342.19,89.54 L343.14,90.01 L344.08,90.46 L345.03,90.91 L345.98,91.36 L346.93,91.8 L347.88,92.23 L348.83,92.66 L349.77,93.09 L350.72,93.5 L351.67,93.91 L352.62,94.31 L353.57,94.7 L354.52,95.07 L355.46,95.44 L356.41,95.78 L357.36,96.11 L358.31,96.43 L359.26,96.73 L360.21,97.04 L361.15,97.34 L362.1,97.64 L363.05,97.95 L364,98.27 L364.95,98.61 L365.9,98.95 L366.84,99.3 L367.79,99.67 L368.74,100.06 L369.69,100.48 L370.64,100.96 L371.58,101.48 L372.53,102.06 L373.48,102.68 L374.43,103.34 L375.38,104.02 L376.33,104.72 L377.27,105.44 L378.22,106.16 L379.17,106.88 L380.12,107.6 L381.07,108.31 L382.02,109.04 L382.96,109.78 L383.91,110.53 L384.86,111.3 L385.81,112.08 L386.76,112.86 L387.71,113.66 L388.65,114.46 L389.6,115.26 L390.55,116.04 L391.5,116.84 L392.45,117.61 L393.4,118.31 L394.34,118.87 L395.29,119.26 L396.24,119.41 L397.19,119.3 L398.14,118.87 L399.09,118.06 L400.03,116.8 L400.98,115.05 L401.93,112.77 L402.88,109.92 L403.83,106.5 L404.78,102.53 L405.72,98.06 L406.67,93.19 L407.62,88.03 L408.57,82.74 L409.52,77.5 L410.46,72.52 L411.41,68.01 L412.36,64.18 L413.31,61.22 L414.26,59.31 L415.21,58.57 L416.15,59.09 L417.1,60.88 L418.05,63.9 L419,68.05 L419.95,73.2 L420.9,79.16 L421.84,85.72 L422.79,92.67 L423.74,99.79 L424.69,106.87 L425.64,113.75 L426.59,120.27 L427.53,126.32 L428.48,131.84 L429.43,136.79 L430.38,141.15 L431.33,144.96 L432.28,148.23 L433.22,151.03 L434.17,153.42 L435.12,155.44 L436.07,157.15 L437.02,158.61 L437.97,159.85 L438.91,160.93 L439.86,161.87 L440.81,162.7 L441.76,163.46 L442.71,164.19 L443.65,164.9 L444.6,165.56 L445.55,166.17 L446.5,166.72 L447.45,167.2 L448.4,167.58 L449.34,167.88 L450.29,168.17 L451.24,168.45 L452.19,168.72 L453.14,168.97 L454.09,169.21 L455.03,169.45 L455.98,169.67 L456.93,169.87 L457.88,170.06 L458.83,170.24 L459.78,170.39 L460.72,170.52 L461.67,170.63 L462.62,170.72 L463.57,170.78 L464.52,170.81 L465.47,170.82 L466.41,170.82 L467.36,170.82 L468.31,170.81 L469.26,170.8 L470.21,170.79 L471.16,170.77 L472.1,170.75 L473.05,170.73 L474,170.7 L474.95,170.68 L475.9,170.65 L476.85,170.62 L477.79,170.59 L478.74,170.55 L479.69,170.51 L480.64,170.47 L481.59,170.39 L482.53,170.29 L483.48,170.16 L484.43,170.01 L485.38,169.84 L486.33,169.65 L487.28,169.44 L488.22,169.22 L489.17,168.99 L490.12,168.74 L491.07,168.49 L492.02,168.24 L492.97,167.98 L493.91,167.72 L494.86,167.46 L495.81,167.2 L496.76,166.93 L497.71,166.64 L498.66,166.34 L499.6,166.02 L500.55,165.69 L501.5,165.34 L502.45,164.99 L503.4,164.61 L504.35,164.23 L505.29,163.84 L506.24,163.43 L507.19,163.02 L508.14,162.59 L509.09,162.16 L510.04,161.71 L510.98,161.26" fill="none" stroke="#1a8f8f" stroke-width="1.15"/>
<path d="M339.34,87.48 L340.29,87.98 L341.24,88.48 L342.19,88.96 L343.14,89.43 L344.08,89.9 L345.03,90.35 L345.98,90.8 L346.93,91.25 L347.88,91.69 L348.83,92.12 L349.77,92.55 L350.72,92.97 L351.67,93.38 L352.62,93.79 L353.57,94.18 L354.52,94.56 L355.46,94.92 L356.41,95.27 L357.36,95.6 L358.31,95.92 L359.26,96.23 L360.21,96.53 L361.15,96.83 L362.1,97.14 L363.05,97.45 L364,97.78 L364.95,98.12 L365.9,98.47 L366.84,98.82 L367.79,99.19 L368.74,99.59 L369.69,100.02 L370.64,100.5 L371.58,101.04 L372.53,101.63 L373.48,102.26 L374.43,102.93 L375.38,103.62 L376.33,104.34 L377.27,105.06 L378.22,105.8 L379.17,106.53 L380.12,107.26 L381.07,107.98 L382.02,108.71 L382.96,109.46 L383.91,110.21 L384.86,110.98 L385.81,111.75 L386.76,112.54 L387.71,113.34 L388.65,114.13 L389.6,114.92 L390.55,115.71 L391.5,116.5 L392.45,117.25 L393.4,117.93 L394.34,118.47 L395.29,118.82 L396.24,118.92 L397.19,118.74 L398.14,118.22 L399.09,117.3 L400.03,115.91 L400.98,114 L401.93,111.53 L402.88,108.46 L403.83,104.78 L404.78,100.53 L405.72,95.75 L406.67,90.55 L407.62,85.03 L408.57,79.39 L409.52,73.79 L410.46,68.47 L411.41,63.64 L412.36,59.54 L413.31,56.36 L414.26,54.28 L415.21,53.45 L416.15,53.94 L417.1,55.78 L418.05,58.92 L419,63.26 L419.95,68.65 L420.9,74.89 L421.84,81.78 L422.79,89.08 L423.74,96.56 L424.69,104 L425.64,111.23 L426.59,118.08 L427.53,124.43 L428.48,130.23 L429.43,135.42 L430.38,139.99 L431.33,143.97 L432.28,147.4 L433.22,150.33 L434.17,152.81 L435.12,154.92 L436.07,156.69 L437.02,158.2 L437.97,159.48 L438.91,160.58 L439.86,161.54 L440.81,162.39 L441.76,163.17 L442.71,163.91 L443.65,164.62 L444.6,165.29 L445.55,165.91 L446.5,166.47 L447.45,166.94 L448.4,167.33 L449.34,167.63 L450.29,167.92 L451.24,168.19 L452.19,168.46 L453.14,168.71 L454.09,168.96 L455.03,169.19 L455.98,169.41 L456.93,169.61 L457.88,169.8 L458.83,169.97 L459.78,170.12 L460.72,170.26 L461.67,170.36 L462.62,170.45 L463.57,170.51 L464.52,170.54 L465.47,170.55 L466.41,170.55 L467.36,170.54 L468.31,170.53 L469.26,170.52 L470.21,170.51 L471.16,170.49 L472.1,170.47 L473.05,170.45 L474,170.42 L474.95,170.4 L475.9,170.37 L476.85,170.33 L477.79,170.3 L478.74,170.26 L479.69,170.23 L480.64,170.18 L481.59,170.1 L482.53,170 L483.48,169.87 L484.43,169.72 L485.38,169.55 L486.33,169.36 L487.28,169.15 L488.22,168.93 L489.17,168.69 L490.12,168.45 L491.07,168.2 L492.02,167.95 L492.97,167.69 L493.91,167.43 L494.86,167.17 L495.81,166.91 L496.76,166.64 L497.71,166.35 L498.66,166.05 L499.6,165.73 L500.55,165.4 L501.5,165.06 L502.45,164.7 L503.4,164.33 L504.35,163.95 L505.29,163.56 L506.24,163.15 L507.19,162.74 L508.14,162.32 L509.09,161.89 L510.04,161.44 L510.98,161" fill="none" stroke="#1a8f8f" stroke-width="1.15"/>
<path d="M339.34,86.89 L340.29,87.39 L341.24,87.89 L342.19,88.38 L343.14,88.86 L344.08,89.33 L345.03,89.79 L345.98,90.25 L346.93,90.7 L347.88,91.14 L348.83,91.58 L349.77,92.02 L350.72,92.44 L351.67,92.86 L352.62,93.26 L353.57,93.66 L354.52,94.04 L355.46,94.41 L356.41,94.76 L357.36,95.09 L358.31,95.41 L359.26,95.72 L360.21,96.03 L361.15,96.33 L362.1,96.64 L363.05,96.96 L364,97.28 L364.95,97.63 L365.9,97.98 L366.84,98.34 L367.79,98.72 L368.74,99.11 L369.69,99.55 L370.64,100.04 L371.58,100.59 L372.53,101.19 L373.48,101.83 L374.43,102.51 L375.38,103.22 L376.33,103.95 L377.27,104.69 L378.22,105.44 L379.17,106.18 L380.12,106.92 L381.07,107.65 L382.02,108.39 L382.96,109.13 L383.91,109.89 L384.86,110.66 L385.81,111.43 L386.76,112.22 L387.71,113.01 L388.65,113.81 L389.6,114.59 L390.55,115.37 L391.5,116.15 L392.45,116.9 L393.4,117.56 L394.34,118.07 L395.29,118.38 L396.24,118.44 L397.19,118.19 L398.14,117.6 L399.09,116.58 L400.03,115.07 L400.98,113.01 L401.93,110.36 L402.88,107.09 L403.83,103.18 L404.78,98.67 L405.72,93.6 L406.67,88.08 L407.62,82.25 L408.57,76.27 L409.52,70.35 L410.46,64.71 L411.41,59.6 L412.36,55.24 L413.31,51.85 L414.26,49.62 L415.21,48.7 L416.15,49.17 L417.1,51.06 L418.05,54.31 L419,58.82 L419.95,64.43 L420.9,70.94 L421.84,78.13 L422.79,85.75 L423.74,93.56 L424.69,101.34 L425.64,108.88 L426.59,116.03 L427.53,122.67 L428.48,128.72 L429.43,134.13 L430.38,138.9 L431.33,143.05 L432.28,146.61 L433.22,149.66 L434.17,152.23 L435.12,154.41 L436.07,156.24 L437.02,157.79 L437.97,159.11 L438.91,160.24 L439.86,161.22 L440.81,162.08 L441.76,162.87 L442.71,163.63 L443.65,164.35 L444.6,165.03 L445.55,165.65 L446.5,166.21 L447.45,166.69 L448.4,167.08 L449.34,167.38 L450.29,167.66 L451.24,167.94 L452.19,168.2 L453.14,168.46 L454.09,168.7 L455.03,168.93 L455.98,169.15 L456.93,169.35 L457.88,169.54 L458.83,169.71 L459.78,169.86 L460.72,169.99 L461.67,170.1 L462.62,170.18 L463.57,170.24 L464.52,170.27 L465.47,170.28 L466.41,170.27 L467.36,170.27 L468.31,170.26 L469.26,170.25 L470.21,170.23 L471.16,170.21 L472.1,170.19 L473.05,170.17 L474,170.14 L474.95,170.11 L475.9,170.08 L476.85,170.05 L477.79,170.01 L478.74,169.98 L479.69,169.94 L480.64,169.89 L481.59,169.81 L482.53,169.71 L483.48,169.58 L484.43,169.43 L485.38,169.25 L486.33,169.06 L487.28,168.86 L488.22,168.64 L489.17,168.4 L490.12,168.16 L491.07,167.91 L492.02,167.65 L492.97,167.4 L493.91,167.14 L494.86,166.88 L495.81,166.62 L496.76,166.35 L497.71,166.06 L498.66,165.76 L499.6,165.45 L500.55,165.12 L501.5,164.78 L502.45,164.42 L503.4,164.05 L504.35,163.67 L505.29,163.28 L506.24,162.88 L507.19,162.47 L508.14,162.05 L509.09,161.61 L510.04,161.18 L510.98,160.73" fill="none" stroke="#1a8f8f" stroke-width="1.15"/>
<path d="M339.34,86.29 L340.29,86.8 L341.24,87.31 L342.19,87.8 L343.14,88.29 L344.08,88.77 L345.03,89.23 L345.98,89.69 L346.93,90.15 L347.88,90.6 L348.83,91.04 L349.77,91.48 L350.72,91.91 L351.67,92.33 L352.62,92.74 L353.57,93.14 L354.52,93.52 L355.46,93.9 L356.41,94.25 L357.36,94.58 L358.31,94.9 L359.26,95.22 L360.21,95.52 L361.15,95.83 L362.1,96.14 L363.05,96.46 L364,96.79 L364.95,97.14 L365.9,97.5 L366.84,97.86 L367.79,98.24 L368.74,98.64 L369.69,99.09 L370.64,99.59 L371.58,100.14 L372.53,100.75 L373.48,101.41 L374.43,102.1 L375.38,102.82 L376.33,103.56 L377.27,104.32 L378.22,105.07 L379.17,105.83 L380.12,106.58 L381.07,107.31 L382.02,108.06 L382.96,108.81 L383.91,109.57 L384.86,110.34 L385.81,111.11 L386.76,111.9 L387.71,112.69 L388.65,113.48 L389.6,114.26 L390.55,115.04 L391.5,115.81 L392.45,116.54 L393.4,117.18 L394.34,117.67 L395.29,117.94 L396.24,117.95 L397.19,117.64 L398.14,116.96 L399.09,115.84 L400.03,114.2 L400.98,111.99 L401.93,109.16 L402.88,105.68 L403.83,101.52 L404.78,96.74 L405.72,91.37 L406.67,85.53 L407.62,79.36 L408.57,73.03 L409.52,66.77 L410.46,60.81 L411.41,55.39 L412.36,50.77 L413.31,47.17 L414.26,44.78 L415.21,43.77 L416.15,44.22 L417.1,46.15 L418.05,49.51 L419,54.2 L419.95,60.04 L420.9,66.83 L421.84,74.33 L422.79,82.29 L423.74,90.45 L424.69,98.57 L425.64,106.45 L426.59,113.92 L427.53,120.85 L428.48,127.16 L429.43,132.8 L430.38,137.77 L431.33,142.09 L432.28,145.81 L433.22,148.97 L434.17,151.64 L435.12,153.9 L436.07,155.79 L437.02,157.39 L437.97,158.74 L438.91,159.9 L439.86,160.9 L440.81,161.78 L441.76,162.58 L442.71,163.35 L443.65,164.07 L444.6,164.76 L445.55,165.39 L446.5,165.96 L447.45,166.44 L448.4,166.82 L449.34,167.12 L450.29,167.41 L451.24,167.68 L452.19,167.95 L453.14,168.2 L454.09,168.44 L455.03,168.67 L455.98,168.89 L456.93,169.09 L457.88,169.28 L458.83,169.45 L459.78,169.59 L460.72,169.72 L461.67,169.83 L462.62,169.91 L463.57,169.97 L464.52,170 L465.47,170 L466.41,170 L467.36,169.99 L468.31,169.99 L469.26,169.97 L470.21,169.96 L471.16,169.94 L472.1,169.91 L473.05,169.89 L474,169.86 L474.95,169.83 L475.9,169.8 L476.85,169.77 L477.79,169.73 L478.74,169.69 L479.69,169.65 L480.64,169.6 L481.59,169.52 L482.53,169.42 L483.48,169.29 L484.43,169.14 L485.38,168.96 L486.33,168.77 L487.28,168.57 L488.22,168.34 L489.17,168.11 L490.12,167.87 L491.07,167.62 L492.02,167.36 L492.97,167.11 L493.91,166.85 L494.86,166.59 L495.81,166.33 L496.76,166.06 L497.71,165.78 L498.66,165.48 L499.6,165.16 L500.55,164.83 L501.5,164.49 L502.45,164.14 L503.4,163.77 L504.35,163.39 L505.29,163 L506.24,162.6 L507.19,162.19 L508.14,161.77 L509.09,161.34 L510.04,160.91 L510.98,160.46" fill="none" stroke="#1a8f8f" stroke-width="1.15"/>
<path d="M339.34,85.7 L340.29,86.21 L341.24,86.72 L342.19,87.23 L343.14,87.72 L344.08,88.2 L345.03,88.67 L345.98,89.14 L346.93,89.6 L347.88,90.05 L348.83,90.5 L349.77,90.94 L350.72,91.38 L351.67,91.8 L352.62,92.22 L353.57,92.62 L354.52,93.01 L355.46,93.38 L356.41,93.74 L357.36,94.07 L358.31,94.4 L359.26,94.71 L360.21,95.02 L361.15,95.33 L362.1,95.64 L363.05,95.96 L364,96.3 L364.95,96.65 L365.9,97.01 L366.84,97.38 L367.79,97.76 L368.74,98.17 L369.69,98.63 L370.64,99.13 L371.58,99.7 L372.53,100.32 L373.48,100.98 L374.43,101.69 L375.38,102.42 L376.33,103.17 L377.27,103.94 L378.22,104.71 L379.17,105.48 L380.12,106.23 L381.07,106.98 L382.02,107.73 L382.96,108.49 L383.91,109.25 L384.86,110.02 L385.81,110.79 L386.76,111.58 L387.71,112.37 L388.65,113.15 L389.6,113.93 L390.55,114.7 L391.5,115.46 L392.45,116.18 L393.4,116.8 L394.34,117.25 L395.29,117.48 L396.24,117.42 L397.19,117.04 L398.14,116.26 L399.09,115.01 L400.03,113.22 L400.98,110.83 L401.93,107.78 L402.88,104.04 L403.83,99.59 L404.78,94.48 L405.72,88.75 L406.67,82.52 L407.62,75.94 L408.57,69.2 L409.52,62.52 L410.46,56.16 L411.41,50.39 L412.36,45.45 L413.31,41.59 L414.26,39.01 L415.21,37.89 L416.15,38.3 L417.1,40.29 L418.05,43.79 L419,48.69 L419.95,54.82 L420.9,61.95 L421.84,69.82 L422.79,78.18 L423.74,86.75 L424.69,95.29 L425.64,103.58 L426.59,111.43 L427.53,118.71 L428.48,125.34 L429.43,131.26 L430.38,136.48 L431.33,141.01 L432.28,144.89 L433.22,148.2 L434.17,150.99 L435.12,153.34 L436.07,155.31 L437.02,156.96 L437.97,158.36 L438.91,159.55 L439.86,160.57 L440.81,161.47 L441.76,162.28 L442.71,163.06 L443.65,163.8 L444.6,164.49 L445.55,165.13 L446.5,165.7 L447.45,166.19 L448.4,166.57 L449.34,166.87 L450.29,167.15 L451.24,167.42 L452.19,167.69 L453.14,167.94 L454.09,168.19 L455.03,168.42 L455.98,168.63 L456.93,168.83 L457.88,169.02 L458.83,169.18 L459.78,169.33 L460.72,169.46 L461.67,169.56 L462.62,169.64 L463.57,169.7 L464.52,169.73 L465.47,169.73 L466.41,169.73 L467.36,169.72 L468.31,169.71 L469.26,169.7 L470.21,169.68 L471.16,169.66 L472.1,169.64 L473.05,169.61 L474,169.58 L474.95,169.55 L475.9,169.52 L476.85,169.48 L477.79,169.44 L478.74,169.4 L479.69,169.36 L480.64,169.31 L481.59,169.23 L482.53,169.13 L483.48,169 L484.43,168.84 L485.38,168.67 L486.33,168.48 L487.28,168.27 L488.22,168.05 L489.17,167.82 L490.12,167.58 L491.07,167.33 L492.02,167.07 L492.97,166.81 L493.91,166.55 L494.86,166.3 L495.81,166.04 L496.76,165.77 L497.71,165.49 L498.66,165.19 L499.6,164.88 L500.55,164.55 L501.5,164.21 L502.45,163.86 L503.4,163.49 L504.35,163.11 L505.29,162.73 L506.24,162.33 L507.19,161.92 L508.14,161.5 L509.09,161.07 L510.04,160.64 L510.98,160.2" fill="none" stroke="#1a8f8f" stroke-width="1.15"/>
<line x1="339.34" y1="85.63" x2="339.34" y2="107.37" stroke="#17898a" stroke-width="1" />
<line x1="318.7" y1="23.5" x2="318.7" y2="195.1" stroke="#444" stroke-width="1.3" />
<line x1="318.7" y1="195.1" x2="528.7" y2="195.1" stroke="#444" stroke-width="1.3" />
<line x1="316.7" y1="195.09" x2="318.7" y2="195.09" stroke="#444" stroke-width="1" />
<line x1="315.2" y1="185.56" x2="318.7" y2="185.56" stroke="#444" stroke-width="1" />
<line x1="316.7" y1="176.03" x2="318.7" y2="176.03" stroke="#444" stroke-width="1" />
<line x1="315.2" y1="166.49" x2="318.7" y2="166.49" stroke="#444" stroke-width="1" />
<line x1="316.7" y1="156.95" x2="318.7" y2="156.95" stroke="#444" stroke-width="1" />
<line x1="315.2" y1="147.42" x2="318.7" y2="147.42" stroke="#444" stroke-width="1" />
<line x1="316.7" y1="137.88" x2="318.7" y2="137.88" stroke="#444" stroke-width="1" />
<line x1="315.2" y1="128.35" x2="318.7" y2="128.35" stroke="#444" stroke-width="1" />
<line x1="316.7" y1="118.81" x2="318.7" y2="118.81" stroke="#444" stroke-width="1" />
<line x1="315.2" y1="109.28" x2="318.7" y2="109.28" stroke="#444" stroke-width="1" />
<line x1="316.7" y1="99.75" x2="318.7" y2="99.75" stroke="#444" stroke-width="1" />
<line x1="315.2" y1="90.21" x2="318.7" y2="90.21" stroke="#444" stroke-width="1" />
<line x1="316.7" y1="80.67" x2="318.7" y2="80.67" stroke="#444" stroke-width="1" />
<line x1="315.2" y1="71.14" x2="318.7" y2="71.14" stroke="#444" stroke-width="1" />
<line x1="316.7" y1="61.61" x2="318.7" y2="61.61" stroke="#444" stroke-width="1" />
<line x1="315.2" y1="52.07" x2="318.7" y2="52.07" stroke="#444" stroke-width="1" />
<line x1="316.7" y1="42.53" x2="318.7" y2="42.53" stroke="#444" stroke-width="1" />
<line x1="315.2" y1="33" x2="318.7" y2="33" stroke="#444" stroke-width="1" />
<line x1="316.7" y1="23.46" x2="318.7" y2="23.46" stroke="#444" stroke-width="1" />
<text x="314.2" y="188.06" font-family='"Liberation Sans", sans-serif' font-size="7" fill="#333" text-anchor="end" textLength="3.9" lengthAdjust="spacingAndGlyphs" >8</text>
<text x="314.2" y="168.99" font-family='"Liberation Sans", sans-serif' font-size="7" fill="#333" text-anchor="end" textLength="3.9" lengthAdjust="spacingAndGlyphs" >9</text>
<text x="314.2" y="149.92" font-family='"Liberation Sans", sans-serif' font-size="7" fill="#333" text-anchor="end" textLength="7.4" lengthAdjust="spacingAndGlyphs" >10</text>
<text x="314.2" y="130.85" font-family='"Liberation Sans", sans-serif' font-size="7" fill="#333" text-anchor="end" textLength="7.4" lengthAdjust="spacingAndGlyphs" >11</text>
<text x="314.2" y="111.78" font-family='"Liberation Sans", sans-serif' font-size="7" fill="#333" text-anchor="end" textLength="7.4" lengthAdjust="spacingAndGlyphs" >12</text>
<text x="314.2" y="92.71" font-family='"Liberation Sans", sans-serif' font-size="7" fill="#333" text-anchor="end" textLength="7.4" lengthAdjust="spacingAndGlyphs" >13</text>
<text x="314.2" y="73.64" font-family='"Liberation Sans", sans-serif' font-size="7" fill="#333" text-anchor="end" textLength="7.4" lengthAdjust="spacingAndGlyphs" >14</text>
<text x="314.2" y="54.57" font-family='"Liberation Sans", sans-serif' font-size="7" fill="#333" text-anchor="end" textLength="7.4" lengthAdjust="spacingAndGlyphs" >15</text>
<text x="314.2" y="35.5" font-family='"Liberation Sans", sans-serif' font-size="7" fill="#333" text-anchor="end" textLength="7.4" lengthAdjust="spacingAndGlyphs" >16</text>
<line x1="319.15" y1="195.1" x2="319.15" y2="197.1" stroke="#444" stroke-width="1" />
<line x1="338.2" y1="195.1" x2="338.2" y2="198.1" stroke="#444" stroke-width="1" />
<line x1="357.25" y1="195.1" x2="357.25" y2="197.1" stroke="#444" stroke-width="1" />
<line x1="376.3" y1="195.1" x2="376.3" y2="198.1" stroke="#444" stroke-width="1" />
<line x1="395.35" y1="195.1" x2="395.35" y2="197.1" stroke="#444" stroke-width="1" />
<line x1="414.4" y1="195.1" x2="414.4" y2="198.1" stroke="#444" stroke-width="1" />
<line x1="433.45" y1="195.1" x2="433.45" y2="197.1" stroke="#444" stroke-width="1" />
<line x1="452.5" y1="195.1" x2="452.5" y2="198.1" stroke="#444" stroke-width="1" />
<line x1="471.55" y1="195.1" x2="471.55" y2="197.1" stroke="#444" stroke-width="1" />
<line x1="490.6" y1="195.1" x2="490.6" y2="198.1" stroke="#444" stroke-width="1" />
<line x1="509.65" y1="195.1" x2="509.65" y2="197.1" stroke="#444" stroke-width="1" />
<line x1="528.7" y1="195.1" x2="528.7" y2="198.1" stroke="#444" stroke-width="1" />
<text x="338.2" y="206" font-family='"Liberation Sans", sans-serif' font-size="7" fill="#333" text-anchor="middle" textLength="11" lengthAdjust="spacingAndGlyphs" >-0.2</text>
<text x="376.3" y="206" font-family='"Liberation Sans", sans-serif' font-size="7" fill="#333" text-anchor="middle" textLength="9" lengthAdjust="spacingAndGlyphs" >0.0</text>
<text x="414.4" y="206" font-family='"Liberation Sans", sans-serif' font-size="7" fill="#333" text-anchor="middle" textLength="9" lengthAdjust="spacingAndGlyphs" >0.2</text>
<text x="452.5" y="206" font-family='"Liberation Sans", sans-serif' font-size="7" fill="#333" text-anchor="middle" textLength="9" lengthAdjust="spacingAndGlyphs" >0.4</text>
<text x="490.6" y="206" font-family='"Liberation Sans", sans-serif' font-size="7" fill="#333" text-anchor="middle" textLength="9" lengthAdjust="spacingAndGlyphs" >0.6</text>
<text x="528.7" y="206" font-family='"Liberation Sans", sans-serif' font-size="7" fill="#333" text-anchor="middle" textLength="9" lengthAdjust="spacingAndGlyphs" >0.8</text>
<text x="327.2" y="39.8" font-family='"Liberation Sans", sans-serif' font-size="16.2" fill="#111" text-anchor="start" >B.</text>
<text x="385.5" y="219.6" font-family='"Liberation Sans", sans-serif' font-size="8.2" fill="#333" textLength="60" lengthAdjust="spacingAndGlyphs"><tspan font-style="italic">E</tspan> / V vs. Ag/AgCl</text>
<text x="294" y="119.7" font-family='"Liberation Sans", sans-serif' font-size="8" fill="#333" transform="rotate(-90 294 119.7)" textLength="19" lengthAdjust="spacingAndGlyphs"><tspan font-style="italic">I</tspan> / μ A</text>
<line x1="446.9" y1="38.5" x2="446.9" y2="145.5" stroke="#aaa" stroke-width="2" />
<path d="M440.2,45 L446.9,38.3 L453.3,44.6" fill="none" stroke="#555" stroke-width="0.9"/>
<text x="452.2" y="54.4" font-family='"Liberation Sans", sans-serif' font-size="7.2" fill="#333" text-anchor="start" font-weight="bold" textLength="7.6" lengthAdjust="spacingAndGlyphs" >15</text>
<text x="450.6" y="144.3" font-family='"Liberation Sans", sans-serif' font-size="7.2" fill="#333" text-anchor="start" font-weight="bold" >0</text>
<path d="M82.5,267.16 L82.93,266.94 L83.36,266.73 L83.79,266.51 L84.22,266.3 L84.65,266.09 L85.08,265.87 L85.51,265.66 L85.94,265.46 L86.37,265.25 L86.8,265.05 L87.23,264.84 L87.66,264.64 L88.09,264.44 L88.52,264.24 L88.95,264.05 L89.38,263.86 L89.81,263.66 L90.24,263.47 L90.67,263.29 L91.1,263.1 L91.53,262.92 L91.96,262.74 L92.39,262.56 L92.82,262.39 L93.25,262.21 L93.68,262.04 L94.11,261.87 L94.54,261.71 L94.97,261.55 L95.4,261.39 L95.83,261.23 L96.26,261.08 L96.69,260.93 L97.12,260.78 L97.55,260.63 L97.98,260.49 L98.41,260.36 L98.84,260.22 L99.27,260.09 L99.7,259.96 L100.13,259.84 L100.56,259.72 L100.99,259.6 L101.42,259.48 L101.85,259.37 L102.28,259.27 L102.71,259.16 L103.14,259.07 L103.57,258.97 L104,258.88 L104.43,258.79 L104.86,258.7 L105.29,258.62 L105.72,258.53 L106.15,258.45 L106.58,258.37 L107.01,258.29 L107.44,258.2 L107.87,258.13 L108.3,258.05 L108.73,257.97 L109.16,257.89 L109.59,257.82 L110.02,257.75 L110.45,257.67 L110.88,257.6 L111.31,257.53 L111.74,257.46 L112.17,257.39 L112.6,257.33 L113.03,257.26 L113.46,257.2 L113.89,257.13 L114.32,257.07 L114.75,257.01 L115.18,256.95 L115.61,256.89 L116.04,256.83 L116.47,256.77 L116.9,256.72 L117.33,256.66 L117.76,256.61 L118.19,256.56 L118.62,256.51 L119.05,256.46 L119.48,256.41 L119.91,256.36 L120.34,256.31 L120.77,256.27 L121.2,256.22 L121.63,256.18 L122.06,256.14 L122.49,256.1 L122.92,256.06 L123.35,256.02 L123.78,255.98 L124.21,255.95 L124.64,255.91 L125.07,255.88 L125.5,255.84 L125.93,255.81 L126.36,255.78 L126.79,255.75 L127.22,255.71 L127.65,255.68 L128.08,255.65 L128.51,255.62 L128.94,255.59 L129.37,255.55 L129.8,255.52 L130.23,255.49 L130.66,255.46 L131.09,255.43 L131.52,255.4 L131.95,255.37 L132.38,255.34 L132.81,255.31 L133.24,255.28 L133.67,255.25 L134.1,255.22 L134.53,255.19 L134.96,255.17 L135.39,255.14 L135.82,255.11 L136.25,255.09 L136.68,255.06 L137.11,255.04 L137.54,255.02 L137.97,254.99 L138.4,254.97 L138.83,254.95 L139.26,254.93 L139.69,254.91 L140.12,254.89 L140.55,254.88 L140.98,254.86 L141.41,254.84 L141.84,254.83 L142.27,254.82 L142.7,254.8 L143.13,254.79 L143.56,254.78 L143.99,254.77 L144.42,254.76 L144.85,254.76 L145.28,254.75 L145.71,254.75 L146.14,254.74 L146.57,254.74 L147,254.74 L147.43,254.74 L147.86,254.75 L148.29,254.76 L148.72,254.77 L149.15,254.79 L149.58,254.81 L150.01,254.83 L150.44,254.86 L150.87,254.89 L151.3,254.93 L151.73,254.97 L152.16,255.01 L152.59,255.05 L153.02,255.1 L153.45,255.15 L153.88,255.2 L154.31,255.25 L154.74,255.31 L155.17,255.37 L155.6,255.43 L156.03,255.53 L156.46,255.7 L156.89,255.91 L157.32,256.15 L157.75,256.41 L158.18,256.65 L158.61,256.88 L159.04,257.06 L159.47,257.18 L159.9,257.22 L160.33,257.19 L160.76,257.1 L161.19,256.95 L161.62,256.77 L162.05,256.55 L162.48,256.32 L162.91,256.08 L163.34,255.85 L163.77,255.63 L164.2,255.44 L164.63,255.24 L165.06,255.02 L165.49,254.79 L165.92,254.56 L166.35,254.33 L166.78,254.12 L167.21,253.94 L167.64,253.8 L168.07,253.71 L168.5,253.68 L168.93,253.69 L169.36,253.7 L169.79,253.72 L170.22,253.74 L170.65,253.76 L171.08,253.79 L171.51,253.82 L171.94,253.86 L172.37,253.9 L172.8,253.94 L173.23,253.99 L173.66,254.04 L174.09,254.1 L174.52,254.16 L174.95,254.23 L175.38,254.31 L175.81,254.39 L176.24,254.47 L176.67,254.57 L177.1,254.66 L177.53,254.77 L177.96,254.88 L178.39,254.99 L178.82,255.12 L179.25,255.24 L179.68,255.38 L180.11,255.52 L180.54,255.67 L180.97,255.82 L181.4,255.98 L181.83,256.14 L182.26,256.31 L182.69,256.48 L183.12,256.65 L183.55,256.83 L183.98,257.01 L184.41,257.18 L184.84,257.36 L185.27,257.53 L185.7,257.7 L186.13,257.87 L186.56,258.03 L186.99,258.18 L187.42,258.33 L187.85,258.46 L188.28,258.59 L188.71,258.71 L189.14,258.82 L189.57,258.91 L190,259 L190.43,259.07 L190.86,259.13 L191.29,259.17 L191.72,259.2 L192.15,259.22 L192.58,259.23 L193.01,259.22 L193.44,259.2 L193.87,259.17 L194.3,259.13 L194.73,259.08 L195.16,259.03 L195.59,258.96 L196.02,258.89 L196.45,258.81 L196.88,258.72 L197.31,258.64 L197.74,258.55 L198.17,258.46 L198.6,258.36 L199.03,258.27 L199.46,258.18 L199.89,258.09 L200.32,258 L200.75,257.92 L201.18,257.84 L201.61,257.78 L202.04,257.72 L202.47,257.66 L202.9,257.62 L203.33,257.58 L203.76,257.55 L204.19,257.53 L204.62,257.52 L205.05,257.51 L205.48,257.51 L205.91,257.52 L206.34,257.53 L206.77,257.55 L207.2,257.57 L207.63,257.59 L208.06,257.62 L208.49,257.65 L208.92,257.68 L209.35,257.72 L209.78,257.75 L210.21,257.78 L210.64,257.82 L211.07,257.85 L211.5,257.88 L211.93,257.91 L212.36,257.94 L212.79,257.96 L213.22,257.99 L213.65,258.02 L214.08,258.06 L214.51,258.09 L214.94,258.12 L215.37,258.15 L215.8,258.17 L216.23,258.2 L216.66,258.23 L217.09,258.26 L217.52,258.29 L217.95,258.32 L218.38,258.35 L218.81,258.38 L219.24,258.41 L219.67,258.43 L220.1,258.46 L220.53,258.49 L220.96,258.52 L221.39,258.55 L221.82,258.58 L222.25,258.6 L222.68,258.63 L223.11,258.66 L223.54,258.69 L223.97,258.72 L224.4,258.75 L224.83,258.77 L225.26,258.8 L225.69,258.83 L226.12,258.86 L226.55,258.88 L226.98,258.91 L227.41,258.94 L227.84,258.97 L228.27,258.99 L228.7,259.02 L229.13,259.04 L229.56,259.07 L229.99,259.09 L230.42,259.12 L230.85,259.14 L231.28,259.17 L231.71,259.19 L232.14,259.22 L232.57,259.24 L233,259.26 L233.43,259.29 L233.86,259.31 L234.29,259.33 L234.72,259.36 L235.15,259.38 L235.58,259.4 L236.01,259.42 L236.44,259.44 L236.87,259.48 L237.3,259.54 L237.73,259.63 L238.16,259.73 L238.59,259.85 L239.02,259.99 L239.45,260.14 L239.88,260.31 L240.31,260.49 L240.74,260.69 L241.17,260.9 L241.6,261.12 L242.03,261.36 L242.46,261.61 L242.89,261.87 L243.32,262.14 L243.75,262.42 L244.18,262.72 L244.61,263.03 L245.04,263.35 L245.47,263.68 L245.9,264.02 L246.33,264.37 L246.76,264.73 L247.19,265.11 L247.62,265.49 L248.05,265.88 L248.48,266.29 L248.91,266.7 L249.34,267.13 L249.77,267.56 L250.2,268 L250.63,268.46 L251.06,268.92 L251.49,269.39 L251.92,269.87 L252.35,270.36 L252.78,270.86 L253.21,271.37 L253.64,271.89 L254.07,272.42 L254.5,272.96" fill="none" stroke="#e030e0" stroke-width="2"/>
<path d="M82.5,268.54 L82.93,268.31 L83.36,268.07 L83.79,267.84 L84.22,267.61 L84.65,267.38 L85.08,267.16 L85.51,266.93 L85.94,266.71 L86.37,266.49 L86.8,266.27 L87.23,266.05 L87.66,265.83 L88.09,265.62 L88.52,265.4 L88.95,265.19 L89.38,264.98 L89.81,264.78 L90.24,264.57 L90.67,264.37 L91.1,264.17 L91.53,263.97 L91.96,263.78 L92.39,263.59 L92.82,263.4 L93.25,263.21 L93.68,263.03 L94.11,262.85 L94.54,262.67 L94.97,262.49 L95.4,262.32 L95.83,262.15 L96.26,261.98 L96.69,261.82 L97.12,261.66 L97.55,261.5 L97.98,261.35 L98.41,261.2 L98.84,261.05 L99.27,260.91 L99.7,260.77 L100.13,260.63 L100.56,260.5 L100.99,260.37 L101.42,260.24 L101.85,260.12 L102.28,260 L102.71,259.89 L103.14,259.78 L103.57,259.67 L104,259.57 L104.43,259.47 L104.86,259.37 L105.29,259.27 L105.72,259.18 L106.15,259.08 L106.58,258.98 L107.01,258.89 L107.44,258.8 L107.87,258.7 L108.3,258.61 L108.73,258.52 L109.16,258.43 L109.59,258.34 L110.02,258.25 L110.45,258.16 L110.88,258.08 L111.31,257.99 L111.74,257.91 L112.17,257.83 L112.6,257.75 L113.03,257.67 L113.46,257.59 L113.89,257.51 L114.32,257.44 L114.75,257.37 L115.18,257.29 L115.61,257.22 L116.04,257.15 L116.47,257.09 L116.9,257.02 L117.33,256.96 L117.76,256.9 L118.19,256.84 L118.62,256.78 L119.05,256.72 L119.48,256.67 L119.91,256.61 L120.34,256.56 L120.77,256.51 L121.2,256.47 L121.63,256.42 L122.06,256.38 L122.49,256.34 L122.92,256.3 L123.35,256.26 L123.78,256.23 L124.21,256.2 L124.64,256.17 L125.07,256.14 L125.5,256.12 L125.93,256.1 L126.36,256.07 L126.79,256.05 L127.22,256.03 L127.65,256.01 L128.08,255.99 L128.51,255.96 L128.94,255.94 L129.37,255.92 L129.8,255.9 L130.23,255.88 L130.66,255.86 L131.09,255.84 L131.52,255.82 L131.95,255.8 L132.38,255.78 L132.81,255.76 L133.24,255.75 L133.67,255.73 L134.1,255.71 L134.53,255.69 L134.96,255.68 L135.39,255.66 L135.82,255.65 L136.25,255.63 L136.68,255.62 L137.11,255.6 L137.54,255.59 L137.97,255.58 L138.4,255.56 L138.83,255.55 L139.26,255.54 L139.69,255.53 L140.12,255.52 L140.55,255.51 L140.98,255.5 L141.41,255.49 L141.84,255.48 L142.27,255.47 L142.7,255.46 L143.13,255.46 L143.56,255.45 L143.99,255.45 L144.42,255.44 L144.85,255.44 L145.28,255.44 L145.71,255.43 L146.14,255.43 L146.57,255.43 L147,255.43 L147.43,255.43 L147.86,255.45 L148.29,255.47 L148.72,255.5 L149.15,255.54 L149.58,255.59 L150.01,255.64 L150.44,255.71 L150.87,255.77 L151.3,255.85 L151.73,255.92 L152.16,256.01 L152.59,256.1 L153.02,256.19 L153.45,256.29 L153.88,256.39 L154.31,256.49 L154.74,256.59 L155.17,256.7 L155.6,256.81 L156.03,256.96 L156.46,257.17 L156.89,257.42 L157.32,257.7 L157.75,257.98 L158.18,258.26 L158.61,258.5 L159.04,258.7 L159.47,258.83 L159.9,258.88 L160.33,258.85 L160.76,258.76 L161.19,258.62 L161.62,258.45 L162.05,258.25 L162.48,258.04 L162.91,257.82 L163.34,257.61 L163.77,257.42 L164.2,257.26 L164.63,257.1 L165.06,256.94 L165.49,256.76 L165.92,256.59 L166.35,256.43 L166.78,256.29 L167.21,256.17 L167.64,256.09 L168.07,256.05 L168.5,256.06 L168.93,256.1 L169.36,256.15 L169.79,256.22 L170.22,256.29 L170.65,256.37 L171.08,256.47 L171.51,256.58 L171.94,256.71 L172.37,256.85 L172.8,257.01 L173.23,257.19 L173.66,257.39 L174.09,257.61 L174.52,257.84 L174.95,258.11 L175.38,258.39 L175.81,258.7 L176.24,259.04 L176.67,259.4 L177.1,259.79 L177.53,260.21 L177.96,260.66 L178.39,261.14 L178.82,261.64 L179.25,262.17 L179.68,262.73 L180.11,263.31 L180.54,263.92 L180.97,264.55 L181.4,265.21 L181.83,265.88 L182.26,266.57 L182.69,267.27 L183.12,267.98 L183.55,268.7 L183.98,269.41 L184.41,270.12 L184.84,270.82 L185.27,271.5 L185.7,272.17 L186.13,272.81 L186.56,273.42 L186.99,274 L187.42,274.54 L187.85,275.03 L188.28,275.47 L188.71,275.86 L189.14,276.2 L189.57,276.47 L190,276.68 L190.43,276.83 L190.86,276.92 L191.29,276.94 L191.72,276.89 L192.15,276.78 L192.58,276.61 L193.01,276.38 L193.44,276.08 L193.87,275.73 L194.3,275.33 L194.73,274.88 L195.16,274.39 L195.59,273.85 L196.02,273.28 L196.45,272.69 L196.88,272.07 L197.31,271.42 L197.74,270.77 L198.17,270.11 L198.6,269.44 L199.03,268.78 L199.46,268.12 L199.89,267.46 L200.32,266.83 L200.75,266.21 L201.18,265.61 L201.61,265.04 L202.04,264.49 L202.47,263.98 L202.9,263.49 L203.33,263.04 L203.76,262.62 L204.19,262.23 L204.62,261.87 L205.05,261.54 L205.48,261.24 L205.91,260.98 L206.34,260.73 L206.77,260.52 L207.2,260.32 L207.63,260.16 L208.06,260.01 L208.49,259.88 L208.92,259.77 L209.35,259.67 L209.78,259.59 L210.21,259.52 L210.64,259.46 L211.07,259.41 L211.5,259.37 L211.93,259.34 L212.36,259.31 L212.79,259.29 L213.22,259.27 L213.65,259.27 L214.08,259.26 L214.51,259.26 L214.94,259.27 L215.37,259.27 L215.8,259.28 L216.23,259.3 L216.66,259.31 L217.09,259.33 L217.52,259.34 L217.95,259.36 L218.38,259.38 L218.81,259.4 L219.24,259.42 L219.67,259.44 L220.1,259.46 L220.53,259.48 L220.96,259.51 L221.39,259.53 L221.82,259.55 L222.25,259.57 L222.68,259.6 L223.11,259.62 L223.54,259.64 L223.97,259.67 L224.4,259.69 L224.83,259.71 L225.26,259.74 L225.69,259.76 L226.12,259.78 L226.55,259.8 L226.98,259.83 L227.41,259.85 L227.84,259.87 L228.27,259.89 L228.7,259.91 L229.13,259.94 L229.56,259.96 L229.99,259.98 L230.42,260 L230.85,260.02 L231.28,260.04 L231.71,260.06 L232.14,260.08 L232.57,260.1 L233,260.12 L233.43,260.14 L233.86,260.16 L234.29,260.18 L234.72,260.2 L235.15,260.22 L235.58,260.23 L236.01,260.25 L236.44,260.27 L236.87,260.33 L237.3,260.42 L237.73,260.54 L238.16,260.69 L238.59,260.87 L239.02,261.07 L239.45,261.29 L239.88,261.53 L240.31,261.79 L240.74,262.08 L241.17,262.38 L241.6,262.71 L242.03,263.05 L242.46,263.41 L242.89,263.79 L243.32,264.18 L243.75,264.6 L244.18,265.03 L244.61,265.47 L245.04,265.93 L245.47,266.41 L245.9,266.91 L246.33,267.42 L246.76,267.94 L247.19,268.48 L247.62,269.04 L248.05,269.61 L248.48,270.19 L248.91,270.79 L249.34,271.41 L249.77,272.04 L250.2,272.68 L250.63,273.34 L251.06,274.01 L251.49,274.69 L251.92,275.39 L252.35,276.1 L252.78,276.82 L253.21,277.56 L253.64,278.31 L254.07,279.08 L254.5,279.86" fill="none" stroke="#1a1a1a" stroke-width="2"/>
<path d="M82.5,267.85 L82.93,267.63 L83.36,267.42 L83.79,267.21 L84.22,266.99 L84.65,266.78 L85.08,266.57 L85.51,266.36 L85.94,266.16 L86.37,265.95 L86.8,265.75 L87.23,265.55 L87.66,265.35 L88.09,265.15 L88.52,264.95 L88.95,264.76 L89.38,264.57 L89.81,264.38 L90.24,264.19 L90.67,264 L91.1,263.82 L91.53,263.63 L91.96,263.45 L92.39,263.28 L92.82,263.1 L93.25,262.93 L93.68,262.76 L94.11,262.59 L94.54,262.43 L94.97,262.26 L95.4,262.11 L95.83,261.95 L96.26,261.79 L96.69,261.64 L97.12,261.5 L97.55,261.35 L97.98,261.21 L98.41,261.07 L98.84,260.93 L99.27,260.8 L99.7,260.67 L100.13,260.55 L100.56,260.42 L100.99,260.3 L101.42,260.19 L101.85,260.08 L102.28,259.97 L102.71,259.86 L103.14,259.76 L103.57,259.66 L104,259.57 L104.43,259.48 L104.86,259.39 L105.29,259.3 L105.72,259.21 L106.15,259.12 L106.58,259.03 L107.01,258.94 L107.44,258.85 L107.87,258.77 L108.3,258.68 L108.73,258.6 L109.16,258.51 L109.59,258.43 L110.02,258.35 L110.45,258.27 L110.88,258.19 L111.31,258.11 L111.74,258.03 L112.17,257.96 L112.6,257.88 L113.03,257.81 L113.46,257.74 L113.89,257.66 L114.32,257.6 L114.75,257.53 L115.18,257.46 L115.61,257.39 L116.04,257.33 L116.47,257.27 L116.9,257.21 L117.33,257.15 L117.76,257.09 L118.19,257.04 L118.62,256.98 L119.05,256.93 L119.48,256.88 L119.91,256.83 L120.34,256.79 L120.77,256.74 L121.2,256.7 L121.63,256.66 L122.06,256.62 L122.49,256.59 L122.92,256.55 L123.35,256.52 L123.78,256.49 L124.21,256.46 L124.64,256.44 L125.07,256.42 L125.5,256.4 L125.93,256.38 L126.36,256.36 L126.79,256.34 L127.22,256.32 L127.65,256.3 L128.08,256.29 L128.51,256.27 L128.94,256.25 L129.37,256.23 L129.8,256.22 L130.23,256.2 L130.66,256.19 L131.09,256.17 L131.52,256.15 L131.95,256.14 L132.38,256.12 L132.81,256.11 L133.24,256.09 L133.67,256.08 L134.1,256.07 L134.53,256.05 L134.96,256.04 L135.39,256.03 L135.82,256.01 L136.25,256 L136.68,255.99 L137.11,255.98 L137.54,255.97 L137.97,255.96 L138.4,255.95 L138.83,255.94 L139.26,255.93 L139.69,255.92 L140.12,255.91 L140.55,255.9 L140.98,255.9 L141.41,255.89 L141.84,255.88 L142.27,255.88 L142.7,255.87 L143.13,255.87 L143.56,255.86 L143.99,255.86 L144.42,255.85 L144.85,255.85 L145.28,255.85 L145.71,255.85 L146.14,255.85 L146.57,255.84 L147,255.84 L147.43,255.86 L147.86,255.89 L148.29,255.94 L148.72,256.01 L149.15,256.1 L149.58,256.21 L150.01,256.33 L150.44,256.47 L150.87,256.62 L151.3,256.79 L151.73,256.97 L152.16,257.15 L152.59,257.35 L153.02,257.55 L153.45,257.76 L153.88,257.98 L154.31,258.2 L154.74,258.43 L155.17,258.65 L155.6,258.88 L156.03,259.18 L156.46,259.58 L156.89,260.06 L157.32,260.58 L157.75,261.11 L158.18,261.61 L158.61,262.07 L159.04,262.43 L159.47,262.68 L159.9,262.77 L160.33,262.74 L160.76,262.66 L161.19,262.54 L161.62,262.37 L162.05,262.18 L162.48,261.97 L162.91,261.75 L163.34,261.53 L163.77,261.31 L164.2,261.12 L164.63,260.9 L165.06,260.62 L165.49,260.32 L165.92,260 L166.35,259.69 L166.78,259.42 L167.21,259.2 L167.64,259.05 L168.07,259 L168.5,259.07 L168.93,259.21 L169.36,259.38 L169.79,259.57 L170.22,259.78 L170.65,260.03 L171.08,260.31 L171.51,260.62 L171.94,260.96 L172.37,261.34 L172.8,261.77 L173.23,262.23 L173.66,262.75 L174.09,263.31 L174.52,263.92 L174.95,264.58 L175.38,265.3 L175.81,266.07 L176.24,266.9 L176.67,267.79 L177.1,268.74 L177.53,269.74 L177.96,270.81 L178.39,271.93 L178.82,273.11 L179.25,274.34 L179.68,275.63 L180.11,276.96 L180.54,278.34 L180.97,279.77 L181.4,281.23 L181.83,282.72 L182.26,284.23 L182.69,285.76 L183.12,287.29 L183.55,288.83 L183.98,290.35 L184.41,291.85 L184.84,293.33 L185.27,294.76 L185.7,296.15 L186.13,297.48 L186.56,298.73 L186.99,299.91 L187.42,301 L187.85,302 L188.28,302.88 L188.71,303.66 L189.14,304.32 L189.57,304.85 L190,305.26 L190.43,305.53 L190.86,305.67 L191.29,305.68 L191.72,305.55 L192.15,305.28 L192.58,304.89 L193.01,304.36 L193.44,303.71 L193.87,302.95 L194.3,302.07 L194.73,301.08 L195.16,300 L195.59,298.83 L196.02,297.59 L196.45,296.27 L196.88,294.89 L197.31,293.47 L197.74,292.01 L198.17,290.51 L198.6,289 L199.03,287.48 L199.46,285.95 L199.89,284.44 L200.32,282.94 L200.75,281.46 L201.18,280.02 L201.61,278.61 L202.04,277.24 L202.47,275.91 L202.9,274.64 L203.33,273.42 L203.76,272.26 L204.19,271.16 L204.62,270.11 L205.05,269.13 L205.48,268.21 L205.91,267.34 L206.34,266.54 L206.77,265.79 L207.2,265.1 L207.63,264.47 L208.06,263.89 L208.49,263.36 L208.92,262.87 L209.35,262.43 L209.78,262.04 L210.21,261.68 L210.64,261.36 L211.07,261.07 L211.5,260.82 L211.93,260.6 L212.36,260.4 L212.79,260.23 L213.22,260.09 L213.65,259.96 L214.08,259.86 L214.51,259.77 L214.94,259.69 L215.37,259.64 L215.8,259.59 L216.23,259.55 L216.66,259.52 L217.09,259.5 L217.52,259.49 L217.95,259.49 L218.38,259.48 L218.81,259.49 L219.24,259.49 L219.67,259.5 L220.1,259.52 L220.53,259.53 L220.96,259.54 L221.39,259.56 L221.82,259.58 L222.25,259.59 L222.68,259.61 L223.11,259.63 L223.54,259.65 L223.97,259.67 L224.4,259.69 L224.83,259.71 L225.26,259.73 L225.69,259.75 L226.12,259.77 L226.55,259.79 L226.98,259.81 L227.41,259.83 L227.84,259.85 L228.27,259.87 L228.7,259.89 L229.13,259.91 L229.56,259.94 L229.99,259.96 L230.42,259.98 L230.85,260 L231.28,260.02 L231.71,260.04 L232.14,260.06 L232.57,260.08 L233,260.1 L233.43,260.12 L233.86,260.15 L234.29,260.17 L234.72,260.19 L235.15,260.21 L235.58,260.23 L236.01,260.25 L236.44,260.27 L236.87,260.32 L237.3,260.4 L237.73,260.5 L238.16,260.63 L238.59,260.78 L239.02,260.95 L239.45,261.13 L239.88,261.34 L240.31,261.57 L240.74,261.81 L241.17,262.07 L241.6,262.35 L242.03,262.64 L242.46,262.94 L242.89,263.27 L243.32,263.6 L243.75,263.95 L244.18,264.32 L244.61,264.7 L245.04,265.09 L245.47,265.5 L245.9,265.92 L246.33,266.36 L246.76,266.81 L247.19,267.27 L247.62,267.74 L248.05,268.23 L248.48,268.73 L248.91,269.24 L249.34,269.76 L249.77,270.3 L250.2,270.84 L250.63,271.4 L251.06,271.97 L251.49,272.56 L251.92,273.15 L252.35,273.76 L252.78,274.38 L253.21,275 L253.64,275.64 L254.07,276.3 L254.5,276.96" fill="none" stroke="#e02020" stroke-width="2"/>
<path d="M82.5,270.61 L82.93,270.37 L83.36,270.13 L83.79,269.89 L84.22,269.65 L84.65,269.42 L85.08,269.19 L85.51,268.95 L85.94,268.72 L86.37,268.5 L86.8,268.27 L87.23,268.04 L87.66,267.82 L88.09,267.6 L88.52,267.38 L88.95,267.16 L89.38,266.95 L89.81,266.74 L90.24,266.53 L90.67,266.32 L91.1,266.11 L91.53,265.91 L91.96,265.71 L92.39,265.51 L92.82,265.32 L93.25,265.12 L93.68,264.93 L94.11,264.75 L94.54,264.56 L94.97,264.38 L95.4,264.2 L95.83,264.03 L96.26,263.86 L96.69,263.69 L97.12,263.52 L97.55,263.36 L97.98,263.2 L98.41,263.05 L98.84,262.89 L99.27,262.75 L99.7,262.6 L100.13,262.46 L100.56,262.32 L100.99,262.19 L101.42,262.06 L101.85,261.93 L102.28,261.81 L102.71,261.69 L103.14,261.58 L103.57,261.47 L104,261.36 L104.43,261.26 L104.86,261.16 L105.29,261.06 L105.72,260.96 L106.15,260.86 L106.58,260.76 L107.01,260.66 L107.44,260.57 L107.87,260.47 L108.3,260.38 L108.73,260.28 L109.16,260.19 L109.59,260.1 L110.02,260.01 L110.45,259.92 L110.88,259.84 L111.31,259.75 L111.74,259.67 L112.17,259.58 L112.6,259.5 L113.03,259.42 L113.46,259.34 L113.89,259.27 L114.32,259.19 L114.75,259.11 L115.18,259.04 L115.61,258.97 L116.04,258.9 L116.47,258.83 L116.9,258.76 L117.33,258.7 L117.76,258.63 L118.19,258.57 L118.62,258.51 L119.05,258.45 L119.48,258.39 L119.91,258.34 L120.34,258.28 L120.77,258.23 L121.2,258.18 L121.63,258.13 L122.06,258.08 L122.49,258.04 L122.92,257.99 L123.35,257.95 L123.78,257.91 L124.21,257.88 L124.64,257.84 L125.07,257.81 L125.5,257.78 L125.93,257.75 L126.36,257.72 L126.79,257.69 L127.22,257.66 L127.65,257.63 L128.08,257.6 L128.51,257.57 L128.94,257.54 L129.37,257.51 L129.8,257.48 L130.23,257.45 L130.66,257.42 L131.09,257.4 L131.52,257.37 L131.95,257.34 L132.38,257.32 L132.81,257.29 L133.24,257.27 L133.67,257.24 L134.1,257.22 L134.53,257.19 L134.96,257.17 L135.39,257.15 L135.82,257.12 L136.25,257.1 L136.68,257.08 L137.11,257.06 L137.54,257.04 L137.97,257.02 L138.4,257 L138.83,256.99 L139.26,256.97 L139.69,256.95 L140.12,256.94 L140.55,256.92 L140.98,256.91 L141.41,256.9 L141.84,256.88 L142.27,256.87 L142.7,256.86 L143.13,256.85 L143.56,256.84 L143.99,256.84 L144.42,256.83 L144.85,256.82 L145.28,256.82 L145.71,256.81 L146.14,256.81 L146.57,256.81 L147,256.81 L147.43,256.83 L147.86,256.88 L148.29,256.96 L148.72,257.07 L149.15,257.21 L149.58,257.37 L150.01,257.55 L150.44,257.76 L150.87,257.98 L151.3,258.21 L151.73,258.46 L152.16,258.73 L152.59,259 L153.02,259.27 L153.45,259.55 L153.88,259.84 L154.31,260.12 L154.74,260.4 L155.17,260.68 L155.6,260.95 L156.03,261.26 L156.46,261.65 L156.89,262.09 L157.32,262.55 L157.75,263.01 L158.18,263.44 L158.61,263.82 L159.04,264.13 L159.47,264.33 L159.9,264.4 L160.33,264.38 L160.76,264.31 L161.19,264.2 L161.62,264.06 L162.05,263.89 L162.48,263.72 L162.91,263.54 L163.34,263.37 L163.77,263.2 L164.2,263.06 L164.63,262.92 L165.06,262.77 L165.49,262.61 L165.92,262.45 L166.35,262.3 L166.78,262.18 L167.21,262.09 L167.64,262.03 L168.07,262.03 L168.5,262.1 L168.93,262.21 L169.36,262.34 L169.79,262.51 L170.22,262.72 L170.65,262.96 L171.08,263.25 L171.51,263.59 L171.94,264 L172.37,264.47 L172.8,265.01 L173.23,265.65 L173.66,266.38 L174.09,267.22 L174.52,268.17 L174.95,269.26 L175.38,270.5 L175.81,271.89 L176.24,273.45 L176.67,275.2 L177.1,277.14 L177.53,279.28 L177.96,281.64 L178.39,284.23 L178.82,287.05 L179.25,290.11 L179.68,293.41 L180.11,296.95 L180.54,300.74 L180.97,304.75 L181.4,308.99 L181.83,313.44 L182.26,318.08 L182.69,322.89 L183.12,327.84 L183.55,332.9 L183.98,338.04 L184.41,343.21 L184.84,348.38 L185.27,353.5 L185.7,358.52 L186.13,363.41 L186.56,368.1 L186.99,372.55 L187.42,376.72 L187.85,380.56 L188.28,384.02 L188.71,387.07 L189.14,389.66 L189.57,391.78 L190,393.38 L190.43,394.46 L190.86,395 L191.29,394.99 L191.72,394.44 L192.15,393.34 L192.58,391.72 L193.01,389.59 L193.44,386.98 L193.87,383.92 L194.3,380.44 L194.73,376.59 L195.16,372.41 L195.59,367.94 L196.02,363.23 L196.45,358.33 L196.88,353.3 L197.31,348.17 L197.74,342.99 L198.17,337.8 L198.6,332.66 L199.03,327.59 L199.46,322.64 L199.89,317.82 L200.32,313.18 L200.75,308.72 L201.18,304.48 L201.61,300.46 L202.04,296.68 L202.47,293.13 L202.9,289.83 L203.33,286.78 L203.76,283.96 L204.19,281.38 L204.62,279.03 L205.05,276.9 L205.48,274.98 L205.91,273.25 L206.34,271.71 L206.77,270.34 L207.2,269.13 L207.63,268.07 L208.06,267.13 L208.49,266.32 L208.92,265.61 L209.35,265.01 L209.78,264.48 L210.21,264.03 L210.64,263.65 L211.07,263.33 L211.5,263.06 L211.93,262.83 L212.36,262.64 L212.79,262.49 L213.22,262.38 L213.65,262.28 L214.08,262.22 L214.51,262.17 L214.94,262.13 L215.37,262.11 L215.8,262.1 L216.23,262.1 L216.66,262.11 L217.09,262.13 L217.52,262.15 L217.95,262.17 L218.38,262.2 L218.81,262.23 L219.24,262.26 L219.67,262.29 L220.1,262.32 L220.53,262.35 L220.96,262.39 L221.39,262.42 L221.82,262.44 L222.25,262.47 L222.68,262.5 L223.11,262.52 L223.54,262.55 L223.97,262.57 L224.4,262.6 L224.83,262.63 L225.26,262.65 L225.69,262.68 L226.12,262.7 L226.55,262.73 L226.98,262.76 L227.41,262.78 L227.84,262.81 L228.27,262.83 L228.7,262.86 L229.13,262.88 L229.56,262.91 L229.99,262.94 L230.42,262.96 L230.85,262.99 L231.28,263.01 L231.71,263.04 L232.14,263.06 L232.57,263.09 L233,263.11 L233.43,263.14 L233.86,263.16 L234.29,263.19 L234.72,263.21 L235.15,263.24 L235.58,263.26 L236.01,263.28 L236.44,263.31 L236.87,263.36 L237.3,263.46 L237.73,263.58 L238.16,263.73 L238.59,263.91 L239.02,264.11 L239.45,264.34 L239.88,264.58 L240.31,264.85 L240.74,265.14 L241.17,265.45 L241.6,265.78 L242.03,266.12 L242.46,266.49 L242.89,266.87 L243.32,267.27 L243.75,267.69 L244.18,268.13 L244.61,268.58 L245.04,269.05 L245.47,269.54 L245.9,270.04 L246.33,270.55 L246.76,271.09 L247.19,271.63 L247.62,272.2 L248.05,272.78 L248.48,273.37 L248.91,273.98 L249.34,274.6 L249.77,275.24 L250.2,275.89 L250.63,276.56 L251.06,277.24 L251.49,277.93 L251.92,278.64 L252.35,279.36 L252.78,280.09 L253.21,280.84 L253.64,281.6 L254.07,282.38 L254.5,283.17" fill="none" stroke="#30dd30" stroke-width="2"/>
<path d="M82.5,273.37 L82.93,273.1 L83.36,272.83 L83.79,272.56 L84.22,272.29 L84.65,272.03 L85.08,271.77 L85.51,271.51 L85.94,271.25 L86.37,270.99 L86.8,270.73 L87.23,270.48 L87.66,270.23 L88.09,269.98 L88.52,269.73 L88.95,269.49 L89.38,269.25 L89.81,269.01 L90.24,268.77 L90.67,268.54 L91.1,268.31 L91.53,268.08 L91.96,267.86 L92.39,267.63 L92.82,267.42 L93.25,267.2 L93.68,266.99 L94.11,266.78 L94.54,266.57 L94.97,266.37 L95.4,266.17 L95.83,265.97 L96.26,265.78 L96.69,265.59 L97.12,265.41 L97.55,265.23 L97.98,265.05 L98.41,264.88 L98.84,264.71 L99.27,264.54 L99.7,264.38 L100.13,264.23 L100.56,264.07 L100.99,263.93 L101.42,263.78 L101.85,263.64 L102.28,263.51 L102.71,263.38 L103.14,263.25 L103.57,263.14 L104,263.02 L104.43,262.91 L104.86,262.8 L105.29,262.69 L105.72,262.58 L106.15,262.47 L106.58,262.37 L107.01,262.26 L107.44,262.16 L107.87,262.05 L108.3,261.95 L108.73,261.85 L109.16,261.75 L109.59,261.66 L110.02,261.56 L110.45,261.47 L110.88,261.37 L111.31,261.28 L111.74,261.19 L112.17,261.1 L112.6,261.01 L113.03,260.93 L113.46,260.84 L113.89,260.76 L114.32,260.68 L114.75,260.6 L115.18,260.52 L115.61,260.44 L116.04,260.37 L116.47,260.3 L116.9,260.22 L117.33,260.15 L117.76,260.08 L118.19,260.02 L118.62,259.95 L119.05,259.89 L119.48,259.83 L119.91,259.77 L120.34,259.71 L120.77,259.65 L121.2,259.6 L121.63,259.54 L122.06,259.49 L122.49,259.44 L122.92,259.4 L123.35,259.35 L123.78,259.31 L124.21,259.27 L124.64,259.23 L125.07,259.19 L125.5,259.16 L125.93,259.12 L126.36,259.09 L126.79,259.05 L127.22,259.02 L127.65,258.99 L128.08,258.95 L128.51,258.92 L128.94,258.89 L129.37,258.85 L129.8,258.82 L130.23,258.79 L130.66,258.76 L131.09,258.73 L131.52,258.7 L131.95,258.67 L132.38,258.64 L132.81,258.61 L133.24,258.58 L133.67,258.55 L134.1,258.52 L134.53,258.49 L134.96,258.47 L135.39,258.44 L135.82,258.41 L136.25,258.39 L136.68,258.37 L137.11,258.34 L137.54,258.32 L137.97,258.3 L138.4,258.28 L138.83,258.26 L139.26,258.24 L139.69,258.22 L140.12,258.2 L140.55,258.18 L140.98,258.17 L141.41,258.15 L141.84,258.14 L142.27,258.12 L142.7,258.11 L143.13,258.1 L143.56,258.09 L143.99,258.08 L144.42,258.07 L144.85,258.07 L145.28,258.06 L145.71,258.06 L146.14,258.05 L146.57,258.05 L147,258.05 L147.43,258.07 L147.86,258.13 L148.29,258.22 L148.72,258.35 L149.15,258.51 L149.58,258.7 L150.01,258.91 L150.44,259.15 L150.87,259.41 L151.3,259.69 L151.73,259.98 L152.16,260.29 L152.59,260.61 L153.02,260.95 L153.45,261.29 L153.88,261.63 L154.31,261.98 L154.74,262.33 L155.17,262.68 L155.6,263.02 L156.03,263.43 L156.46,263.96 L156.89,264.56 L157.32,265.21 L157.75,265.86 L158.18,266.48 L158.61,267.02 L159.04,267.46 L159.47,267.75 L159.9,267.85 L160.33,267.83 L160.76,267.76 L161.19,267.66 L161.62,267.53 L162.05,267.37 L162.48,267.2 L162.91,267.02 L163.34,266.84 L163.77,266.66 L164.2,266.49 L164.63,266.31 L165.06,266.08 L165.49,265.83 L165.92,265.57 L166.35,265.31 L166.78,265.07 L167.21,264.87 L167.64,264.73 L168.07,264.65 L168.5,264.66 L168.93,264.72 L169.36,264.81 L169.79,264.91 L170.22,265.04 L170.65,265.19 L171.08,265.37 L171.51,265.59 L171.94,265.85 L172.37,266.15 L172.8,266.5 L173.23,266.91 L173.66,267.38 L174.09,267.92 L174.52,268.54 L174.95,269.24 L175.38,270.05 L175.81,270.95 L176.24,271.97 L176.67,273.11 L177.1,274.39 L177.53,275.8 L177.96,277.36 L178.39,279.07 L178.82,280.94 L179.25,282.97 L179.68,285.17 L180.11,287.54 L180.54,290.07 L180.97,292.77 L181.4,295.63 L181.83,298.63 L182.26,301.78 L182.69,305.04 L183.12,308.4 L183.55,311.85 L183.98,315.36 L184.41,318.9 L184.84,322.44 L185.27,325.96 L185.7,329.42 L186.13,332.79 L186.56,336.03 L186.99,339.11 L187.42,342 L187.85,344.67 L188.28,347.08 L188.71,349.21 L189.14,351.03 L189.57,352.53 L190,353.67 L190.43,354.45 L190.86,354.85 L191.29,354.88 L191.72,354.54 L192.15,353.82 L192.58,352.74 L193.01,351.31 L193.44,349.55 L193.87,347.48 L194.3,345.13 L194.73,342.52 L195.16,339.69 L195.59,336.67 L196.02,333.49 L196.45,330.18 L196.88,326.78 L197.31,323.32 L197.74,319.84 L198.17,316.36 L198.6,312.92 L199.03,309.53 L199.46,306.23 L199.89,303.03 L200.32,299.95 L200.75,297 L201.18,294.21 L201.61,291.57 L202.04,289.1 L202.47,286.79 L202.9,284.66 L203.33,282.69 L203.76,280.89 L204.19,279.25 L204.62,277.76 L205.05,276.42 L205.48,275.22 L205.91,274.15 L206.34,273.21 L206.77,272.37 L207.2,271.64 L207.63,271.01 L208.06,270.46 L208.49,269.98 L208.92,269.58 L209.35,269.23 L209.78,268.94 L210.21,268.69 L210.64,268.49 L211.07,268.32 L211.5,268.18 L211.93,268.06 L212.36,267.97 L212.79,267.9 L213.22,267.84 L213.65,267.79 L214.08,267.76 L214.51,267.73 L214.94,267.72 L215.37,267.71 L215.8,267.7 L216.23,267.7 L216.66,267.7 L217.09,267.7 L217.52,267.71 L217.95,267.72 L218.38,267.73 L218.81,267.74 L219.24,267.75 L219.67,267.76 L220.1,267.78 L220.53,267.79 L220.96,267.8 L221.39,267.82 L221.82,267.84 L222.25,267.85 L222.68,267.87 L223.11,267.88 L223.54,267.9 L223.97,267.92 L224.4,267.93 L224.83,267.95 L225.26,267.97 L225.69,267.98 L226.12,268 L226.55,268.02 L226.98,268.04 L227.41,268.05 L227.84,268.07 L228.27,268.09 L228.7,268.1 L229.13,268.12 L229.56,268.14 L229.99,268.15 L230.42,268.17 L230.85,268.19 L231.28,268.2 L231.71,268.22 L232.14,268.24 L232.57,268.26 L233,268.27 L233.43,268.29 L233.86,268.31 L234.29,268.32 L234.72,268.34 L235.15,268.36 L235.58,268.38 L236.01,268.39 L236.44,268.41 L236.87,268.47 L237.3,268.57 L237.73,268.7 L238.16,268.86 L238.59,269.05 L239.02,269.26 L239.45,269.49 L239.88,269.75 L240.31,270.03 L240.74,270.34 L241.17,270.66 L241.6,271 L242.03,271.37 L242.46,271.75 L242.89,272.15 L243.32,272.57 L243.75,273.01 L244.18,273.47 L244.61,273.94 L245.04,274.44 L245.47,274.94 L245.9,275.47 L246.33,276.01 L246.76,276.57 L247.19,277.15 L247.62,277.74 L248.05,278.34 L248.48,278.97 L248.91,279.6 L249.34,280.26 L249.77,280.93 L250.2,281.61 L250.63,282.31 L251.06,283.02 L251.49,283.75 L251.92,284.49 L252.35,285.25 L252.78,286.02 L253.21,286.8 L253.64,287.6 L254.07,288.41 L254.5,289.24" fill="none" stroke="#2020c0" stroke-width="2"/>
<path d="M82.5,274.47 L82.93,274.19 L83.36,273.91 L83.79,273.62 L84.22,273.34 L84.65,273.07 L85.08,272.79 L85.51,272.51 L85.94,272.24 L86.37,271.97 L86.8,271.7 L87.23,271.44 L87.66,271.17 L88.09,270.91 L88.52,270.65 L88.95,270.4 L89.38,270.14 L89.81,269.89 L90.24,269.65 L90.67,269.4 L91.1,269.16 L91.53,268.92 L91.96,268.69 L92.39,268.45 L92.82,268.22 L93.25,268 L93.68,267.78 L94.11,267.56 L94.54,267.34 L94.97,267.13 L95.4,266.92 L95.83,266.72 L96.26,266.52 L96.69,266.33 L97.12,266.14 L97.55,265.95 L97.98,265.77 L98.41,265.59 L98.84,265.41 L99.27,265.25 L99.7,265.08 L100.13,264.92 L100.56,264.77 L100.99,264.62 L101.42,264.47 L101.85,264.33 L102.28,264.2 L102.71,264.07 L103.14,263.94 L103.57,263.82 L104,263.71 L104.43,263.6 L104.86,263.49 L105.29,263.38 L105.72,263.28 L106.15,263.17 L106.58,263.07 L107.01,262.97 L107.44,262.87 L107.87,262.77 L108.3,262.67 L108.73,262.58 L109.16,262.48 L109.59,262.39 L110.02,262.3 L110.45,262.21 L110.88,262.12 L111.31,262.03 L111.74,261.95 L112.17,261.86 L112.6,261.78 L113.03,261.7 L113.46,261.62 L113.89,261.54 L114.32,261.46 L114.75,261.39 L115.18,261.31 L115.61,261.24 L116.04,261.17 L116.47,261.1 L116.9,261.03 L117.33,260.97 L117.76,260.9 L118.19,260.84 L118.62,260.77 L119.05,260.71 L119.48,260.65 L119.91,260.6 L120.34,260.54 L120.77,260.49 L121.2,260.43 L121.63,260.38 L122.06,260.33 L122.49,260.28 L122.92,260.24 L123.35,260.19 L123.78,260.15 L124.21,260.1 L124.64,260.06 L125.07,260.02 L125.5,259.98 L125.93,259.95 L126.36,259.91 L126.79,259.87 L127.22,259.84 L127.65,259.8 L128.08,259.76 L128.51,259.72 L128.94,259.69 L129.37,259.65 L129.8,259.62 L130.23,259.58 L130.66,259.55 L131.09,259.51 L131.52,259.48 L131.95,259.44 L132.38,259.41 L132.81,259.37 L133.24,259.34 L133.67,259.31 L134.1,259.28 L134.53,259.25 L134.96,259.22 L135.39,259.19 L135.82,259.16 L136.25,259.13 L136.68,259.1 L137.11,259.08 L137.54,259.05 L137.97,259.02 L138.4,259 L138.83,258.98 L139.26,258.95 L139.69,258.93 L140.12,258.91 L140.55,258.89 L140.98,258.87 L141.41,258.86 L141.84,258.84 L142.27,258.83 L142.7,258.81 L143.13,258.8 L143.56,258.79 L143.99,258.78 L144.42,258.77 L144.85,258.76 L145.28,258.75 L145.71,258.75 L146.14,258.74 L146.57,258.74 L147,258.74 L147.43,258.76 L147.86,258.82 L148.29,258.91 L148.72,259.04 L149.15,259.2 L149.58,259.39 L150.01,259.6 L150.44,259.84 L150.87,260.1 L151.3,260.38 L151.73,260.67 L152.16,260.98 L152.59,261.3 L153.02,261.64 L153.45,261.98 L153.88,262.32 L154.31,262.67 L154.74,263.02 L155.17,263.37 L155.6,263.71 L156.03,264.12 L156.46,264.65 L156.89,265.25 L157.32,265.9 L157.75,266.55 L158.18,267.17 L158.61,267.71 L159.04,268.15 L159.47,268.44 L159.9,268.54 L160.33,268.52 L160.76,268.45 L161.19,268.35 L161.62,268.21 L162.05,268.06 L162.48,267.89 L162.91,267.7 L163.34,267.52 L163.77,267.34 L164.2,267.16 L164.63,266.97 L165.06,266.74 L165.49,266.48 L165.92,266.21 L166.35,265.93 L166.78,265.68 L167.21,265.46 L167.64,265.29 L168.07,265.18 L168.5,265.15 L168.93,265.18 L169.36,265.21 L169.79,265.25 L170.22,265.31 L170.65,265.38 L171.08,265.46 L171.51,265.57 L171.94,265.69 L172.37,265.83 L172.8,266.01 L173.23,266.21 L173.66,266.44 L174.09,266.71 L174.52,267.03 L174.95,267.39 L175.38,267.81 L175.81,268.3 L176.24,268.85 L176.67,269.48 L177.1,270.19 L177.53,270.99 L177.96,271.9 L178.39,272.91 L178.82,274.03 L179.25,275.27 L179.68,276.63 L180.11,278.13 L180.54,279.76 L180.97,281.52 L181.4,283.42 L181.83,285.45 L182.26,287.6 L182.69,289.86 L183.12,292.23 L183.55,294.69 L183.98,297.22 L184.41,299.81 L184.84,302.43 L185.27,305.06 L185.7,307.67 L186.13,310.23 L186.56,312.72 L186.99,315.11 L187.42,317.36 L187.85,319.46 L188.28,321.36 L188.71,323.06 L189.14,324.52 L189.57,325.72 L190,326.65 L190.43,327.3 L190.86,327.65 L191.29,327.7 L191.72,327.45 L192.15,326.91 L192.58,326.09 L193.01,324.99 L193.44,323.63 L193.87,322.04 L194.3,320.24 L194.73,318.25 L195.16,316.09 L195.59,313.81 L196.02,311.42 L196.45,308.96 L196.88,306.45 L197.31,303.92 L197.74,301.4 L198.17,298.91 L198.6,296.48 L199.03,294.12 L199.46,291.84 L199.89,289.67 L200.32,287.62 L200.75,285.68 L201.18,283.88 L201.61,282.21 L202.04,280.67 L202.47,279.27 L202.9,277.99 L203.33,276.84 L203.76,275.82 L204.19,274.91 L204.62,274.1 L205.05,273.4 L205.48,272.78 L205.91,272.26 L206.34,271.8 L206.77,271.42 L207.2,271.09 L207.63,270.82 L208.06,270.6 L208.49,270.42 L208.92,270.27 L209.35,270.15 L209.78,270.06 L210.21,269.99 L210.64,269.93 L211.07,269.89 L211.5,269.87 L211.93,269.85 L212.36,269.84 L212.79,269.84 L213.22,269.84 L213.65,269.85 L214.08,269.86 L214.51,269.87 L214.94,269.89 L215.37,269.9 L215.8,269.92 L216.23,269.94 L216.66,269.96 L217.09,269.98 L217.52,270 L217.95,270.02 L218.38,270.04 L218.81,270.06 L219.24,270.07 L219.67,270.09 L220.1,270.11 L220.53,270.13 L220.96,270.15 L221.39,270.16 L221.82,270.18 L222.25,270.2 L222.68,270.21 L223.11,270.23 L223.54,270.24 L223.97,270.26 L224.4,270.28 L224.83,270.29 L225.26,270.31 L225.69,270.32 L226.12,270.34 L226.55,270.35 L226.98,270.37 L227.41,270.38 L227.84,270.39 L228.27,270.41 L228.7,270.42 L229.13,270.44 L229.56,270.45 L229.99,270.46 L230.42,270.47 L230.85,270.49 L231.28,270.5 L231.71,270.51 L232.14,270.52 L232.57,270.53 L233,270.54 L233.43,270.55 L233.86,270.56 L234.29,270.57 L234.72,270.58 L235.15,270.59 L235.58,270.6 L236.01,270.61 L236.44,270.62 L236.87,270.68 L237.3,270.78 L237.73,270.91 L238.16,271.07 L238.59,271.26 L239.02,271.47 L239.45,271.71 L239.88,271.97 L240.31,272.25 L240.74,272.56 L241.17,272.88 L241.6,273.23 L242.03,273.6 L242.46,273.98 L242.89,274.39 L243.32,274.81 L243.75,275.25 L244.18,275.71 L244.61,276.19 L245.04,276.68 L245.47,277.2 L245.9,277.72 L246.33,278.27 L246.76,278.83 L247.19,279.41 L247.62,280.01 L248.05,280.62 L248.48,281.24 L248.91,281.89 L249.34,282.54 L249.77,283.22 L250.2,283.9 L250.63,284.61 L251.06,285.32 L251.49,286.06 L251.92,286.8 L252.35,287.57 L252.78,288.34 L253.21,289.13 L253.64,289.94 L254.07,290.75 L254.5,291.59" fill="none" stroke="#30e0f0" stroke-width="2"/>
<rect x="60.8" y="243.8" width="205" height="166.7" fill="none" stroke="#000" stroke-width="2"/>
<line x1="56.8" y1="243.7" x2="60.8" y2="243.7" stroke="#000" stroke-width="1.6" />
<line x1="58.3" y1="257.5" x2="60.8" y2="257.5" stroke="#000" stroke-width="1.6" />
<line x1="56.8" y1="271.3" x2="60.8" y2="271.3" stroke="#000" stroke-width="1.6" />
<line x1="58.3" y1="285.1" x2="60.8" y2="285.1" stroke="#000" stroke-width="1.6" />
<line x1="56.8" y1="298.9" x2="60.8" y2="298.9" stroke="#000" stroke-width="1.6" />
<line x1="58.3" y1="312.7" x2="60.8" y2="312.7" stroke="#000" stroke-width="1.6" />
<line x1="56.8" y1="326.5" x2="60.8" y2="326.5" stroke="#000" stroke-width="1.6" />
<line x1="58.3" y1="340.3" x2="60.8" y2="340.3" stroke="#000" stroke-width="1.6" />
<line x1="56.8" y1="354.1" x2="60.8" y2="354.1" stroke="#000" stroke-width="1.6" />
<line x1="58.3" y1="367.9" x2="60.8" y2="367.9" stroke="#000" stroke-width="1.6" />
<line x1="56.8" y1="381.7" x2="60.8" y2="381.7" stroke="#000" stroke-width="1.6" />
<line x1="58.3" y1="395.5" x2="60.8" y2="395.5" stroke="#000" stroke-width="1.6" />
<line x1="56.8" y1="409.3" x2="60.8" y2="409.3" stroke="#000" stroke-width="1.6" />
<text x="56.3" y="246.9" font-family='"Liberation Serif", serif' font-size="9.5" fill="#111" text-anchor="end" font-weight="bold" textLength="11.8" lengthAdjust="spacingAndGlyphs" >0.0</text>
<text x="51.3" y="274.5" font-family='"Liberation Serif", serif' font-size="9.5" fill="#111" text-anchor="end" font-weight="bold" textLength="15.2" lengthAdjust="spacingAndGlyphs" >-2.0</text>
<text x="51.3" y="302.1" font-family='"Liberation Serif", serif' font-size="9.5" fill="#111" text-anchor="end" font-weight="bold" textLength="15.2" lengthAdjust="spacingAndGlyphs" >-4.0</text>
<text x="51.3" y="329.7" font-family='"Liberation Serif", serif' font-size="9.5" fill="#111" text-anchor="end" font-weight="bold" textLength="15.2" lengthAdjust="spacingAndGlyphs" >-6.0</text>
<text x="51.3" y="357.3" font-family='"Liberation Serif", serif' font-size="9.5" fill="#111" text-anchor="end" font-weight="bold" textLength="15.2" lengthAdjust="spacingAndGlyphs" >-8.0</text>
<text x="51.3" y="384.9" font-family='"Liberation Serif", serif' font-size="9.5" fill="#111" text-anchor="end" font-weight="bold" textLength="19.5" lengthAdjust="spacingAndGlyphs" >-10.0</text>
<text x="51.3" y="412.5" font-family='"Liberation Serif", serif' font-size="9.5" fill="#111" text-anchor="end" font-weight="bold" textLength="19.5" lengthAdjust="spacingAndGlyphs" >-12.0</text>
<line x1="61" y1="410.5" x2="61" y2="414.5" stroke="#000" stroke-width="1.6" />
<line x1="71.75" y1="410.5" x2="71.75" y2="413" stroke="#000" stroke-width="1.6" />
<line x1="82.5" y1="410.5" x2="82.5" y2="414.5" stroke="#000" stroke-width="1.6" />
<line x1="93.25" y1="410.5" x2="93.25" y2="413" stroke="#000" stroke-width="1.6" />
<line x1="104" y1="410.5" x2="104" y2="414.5" stroke="#000" stroke-width="1.6" />
<line x1="114.75" y1="410.5" x2="114.75" y2="413" stroke="#000" stroke-width="1.6" />
<line x1="125.5" y1="410.5" x2="125.5" y2="414.5" stroke="#000" stroke-width="1.6" />
<line x1="136.25" y1="410.5" x2="136.25" y2="413" stroke="#000" stroke-width="1.6" />
<line x1="147" y1="410.5" x2="147" y2="414.5" stroke="#000" stroke-width="1.6" />
<line x1="157.75" y1="410.5" x2="157.75" y2="413" stroke="#000" stroke-width="1.6" />
<line x1="168.5" y1="410.5" x2="168.5" y2="414.5" stroke="#000" stroke-width="1.6" />
<line x1="179.25" y1="410.5" x2="179.25" y2="413" stroke="#000" stroke-width="1.6" />
<line x1="190" y1="410.5" x2="190" y2="414.5" stroke="#000" stroke-width="1.6" />
<line x1="200.75" y1="410.5" x2="200.75" y2="413" stroke="#000" stroke-width="1.6" />
<line x1="211.5" y1="410.5" x2="211.5" y2="414.5" stroke="#000" stroke-width="1.6" />
<line x1="222.25" y1="410.5" x2="222.25" y2="413" stroke="#000" stroke-width="1.6" />
<line x1="233" y1="410.5" x2="233" y2="414.5" stroke="#000" stroke-width="1.6" />
<line x1="243.75" y1="410.5" x2="243.75" y2="413" stroke="#000" stroke-width="1.6" />
<line x1="254.5" y1="410.5" x2="254.5" y2="414.5" stroke="#000" stroke-width="1.6" />
<line x1="265.25" y1="410.5" x2="265.25" y2="413" stroke="#000" stroke-width="1.6" />
<text x="61" y="423.5" font-family='"Liberation Serif", serif' font-size="9.5" fill="#111" text-anchor="middle" font-weight="bold" textLength="11.8" lengthAdjust="spacingAndGlyphs" >0.7</text>
<text x="82.5" y="423.5" font-family='"Liberation Serif", serif' font-size="9.5" fill="#111" text-anchor="middle" font-weight="bold" textLength="11.8" lengthAdjust="spacingAndGlyphs" >0.6</text>
<text x="104" y="423.5" font-family='"Liberation Serif", serif' font-size="9.5" fill="#111" text-anchor="middle" font-weight="bold" textLength="11.8" lengthAdjust="spacingAndGlyphs" >0.5</text>
<text x="125.5" y="423.5" font-family='"Liberation Serif", serif' font-size="9.5" fill="#111" text-anchor="middle" font-weight="bold" textLength="11.8" lengthAdjust="spacingAndGlyphs" >0.4</text>
<text x="147" y="423.5" font-family='"Liberation Serif", serif' font-size="9.5" fill="#111" text-anchor="middle" font-weight="bold" textLength="11.8" lengthAdjust="spacingAndGlyphs" >0.3</text>
<text x="168.5" y="423.5" font-family='"Liberation Serif", serif' font-size="9.5" fill="#111" text-anchor="middle" font-weight="bold" textLength="11.8" lengthAdjust="spacingAndGlyphs" >0.2</text>
<text x="190" y="423.5" font-family='"Liberation Serif", serif' font-size="9.5" fill="#111" text-anchor="middle" font-weight="bold" textLength="11.8" lengthAdjust="spacingAndGlyphs" >0.1</text>
<text x="211.5" y="423.5" font-family='"Liberation Serif", serif' font-size="9.5" fill="#111" text-anchor="middle" font-weight="bold" textLength="11.8" lengthAdjust="spacingAndGlyphs" >0.0</text>
<text x="233" y="423.5" font-family='"Liberation Serif", serif' font-size="9.5" fill="#111" text-anchor="middle" font-weight="bold" textLength="15" lengthAdjust="spacingAndGlyphs" >-0.1</text>
<text x="254.5" y="423.5" font-family='"Liberation Serif", serif' font-size="9.5" fill="#111" text-anchor="middle" font-weight="bold" textLength="15" lengthAdjust="spacingAndGlyphs" >-0.2</text>
<text x="164.9" y="435.5" font-family='"Liberation Serif", serif' font-size="12.5" fill="#111" text-anchor="middle" font-weight="bold" textLength="60" lengthAdjust="spacingAndGlyphs" >Potential,V</text>
<text x="26" y="329.3" font-family='"Liberation Serif", serif' font-size="13.5" fill="#111" text-anchor="middle" font-weight="bold" textLength="72" lengthAdjust="spacingAndGlyphs" transform="rotate(-90 26 329.3)" dy="4.5">Current /μA</text>
<text x="66" y="259.8" font-family='"Liberation Sans", sans-serif' font-size="15.5" fill="#111" text-anchor="start" >C.</text>
<text x="159" y="280" font-family='"Liberation Serif", serif' font-size="9.5" fill="#111" text-anchor="middle" font-weight="bold" textLength="21" lengthAdjust="spacingAndGlyphs" >5-HT</text>
<text x="190.2" y="405.8" font-family='"Liberation Serif", serif' font-size="9.5" fill="#111" text-anchor="middle" font-weight="bold" textLength="13.5" lengthAdjust="spacingAndGlyphs" >DA</text>
<text x="169.4" y="309.5" font-family='"Liberation Serif", serif' font-size="9.5" fill="#111" text-anchor="middle" font-weight="bold" >a</text>
<text x="169.6" y="369.5" font-family='"Liberation Serif", serif' font-size="9.5" fill="#111" text-anchor="middle" font-weight="bold" >f</text>
<line x1="170" y1="312" x2="170" y2="358" stroke="#111" stroke-width="1.1" />
<path d="M168.3,355 L170,361 L171.7,355Z" fill="#111"/>
<rect x="90.3" y="305.1" width="73.5" height="79.3" fill="#fff" stroke="#333" stroke-width="0.9"/>
<line x1="88.3" y1="384.4" x2="90.3" y2="384.4" stroke="#333" stroke-width="0.7" />
<line x1="89.1" y1="377.8" x2="90.3" y2="377.8" stroke="#333" stroke-width="0.7" />
<line x1="88.3" y1="371.2" x2="90.3" y2="371.2" stroke="#333" stroke-width="0.7" />
<line x1="89.1" y1="364.6" x2="90.3" y2="364.6" stroke="#333" stroke-width="0.7" />
<line x1="88.3" y1="358" x2="90.3" y2="358" stroke="#333" stroke-width="0.7" />
<line x1="89.1" y1="351.4" x2="90.3" y2="351.4" stroke="#333" stroke-width="0.7" />
<line x1="88.3" y1="344.8" x2="90.3" y2="344.8" stroke="#333" stroke-width="0.7" />
<line x1="89.1" y1="338.2" x2="90.3" y2="338.2" stroke="#333" stroke-width="0.7" />
<line x1="88.3" y1="331.6" x2="90.3" y2="331.6" stroke="#333" stroke-width="0.7" />
<line x1="89.1" y1="325" x2="90.3" y2="325" stroke="#333" stroke-width="0.7" />
<line x1="88.3" y1="318.4" x2="90.3" y2="318.4" stroke="#333" stroke-width="0.7" />
<line x1="89.1" y1="311.8" x2="90.3" y2="311.8" stroke="#333" stroke-width="0.7" />
<line x1="88.3" y1="305.2" x2="90.3" y2="305.2" stroke="#333" stroke-width="0.7" />
<text x="89" y="386" font-family='"Liberation Serif", serif' font-size="4.8" fill="#333" text-anchor="end" font-weight="bold" textLength="7.5" lengthAdjust="spacingAndGlyphs" >0.0p</text>
<text x="89" y="372.8" font-family='"Liberation Serif", serif' font-size="4.8" fill="#333" text-anchor="end" font-weight="bold" textLength="7.5" lengthAdjust="spacingAndGlyphs" >2.0p</text>
<text x="89" y="359.6" font-family='"Liberation Serif", serif' font-size="4.8" fill="#333" text-anchor="end" font-weight="bold" textLength="7.5" lengthAdjust="spacingAndGlyphs" >4.0p</text>
<text x="89" y="346.4" font-family='"Liberation Serif", serif' font-size="4.8" fill="#333" text-anchor="end" font-weight="bold" textLength="7.5" lengthAdjust="spacingAndGlyphs" >6.0p</text>
<text x="89" y="333.2" font-family='"Liberation Serif", serif' font-size="4.8" fill="#333" text-anchor="end" font-weight="bold" textLength="7.5" lengthAdjust="spacingAndGlyphs" >8.0p</text>
<text x="89" y="320" font-family='"Liberation Serif", serif' font-size="4.8" fill="#333" text-anchor="end" font-weight="bold" textLength="9" lengthAdjust="spacingAndGlyphs" >10.0p</text>
<text x="89" y="306.8" font-family='"Liberation Serif", serif' font-size="4.8" fill="#333" text-anchor="end" font-weight="bold" textLength="9" lengthAdjust="spacingAndGlyphs" >12.0p</text>
<line x1="97" y1="384.4" x2="97" y2="386.2" stroke="#333" stroke-width="0.7" />
<text x="97" y="391.2" font-family='"Liberation Serif", serif' font-size="5.8" fill="#222" text-anchor="middle" font-weight="bold" textLength="3" lengthAdjust="spacingAndGlyphs" >5</text>
<line x1="109.3" y1="384.4" x2="109.3" y2="386.2" stroke="#333" stroke-width="0.7" />
<text x="109.3" y="391.2" font-family='"Liberation Serif", serif' font-size="5.8" fill="#222" text-anchor="middle" font-weight="bold" textLength="6" lengthAdjust="spacingAndGlyphs" >10</text>
<line x1="121.6" y1="384.4" x2="121.6" y2="386.2" stroke="#333" stroke-width="0.7" />
<text x="121.6" y="391.2" font-family='"Liberation Serif", serif' font-size="5.8" fill="#222" text-anchor="middle" font-weight="bold" textLength="6" lengthAdjust="spacingAndGlyphs" >15</text>
<line x1="133.9" y1="384.4" x2="133.9" y2="386.2" stroke="#333" stroke-width="0.7" />
<text x="133.9" y="391.2" font-family='"Liberation Serif", serif' font-size="5.8" fill="#222" text-anchor="middle" font-weight="bold" textLength="6" lengthAdjust="spacingAndGlyphs" >20</text>
<line x1="146.2" y1="384.4" x2="146.2" y2="386.2" stroke="#333" stroke-width="0.7" />
<text x="146.2" y="391.2" font-family='"Liberation Serif", serif' font-size="5.8" fill="#222" text-anchor="middle" font-weight="bold" textLength="6" lengthAdjust="spacingAndGlyphs" >25</text>
<line x1="158.5" y1="384.4" x2="158.5" y2="386.2" stroke="#333" stroke-width="0.7" />
<text x="158.5" y="391.2" font-family='"Liberation Serif", serif' font-size="5.8" fill="#222" text-anchor="middle" font-weight="bold" textLength="6" lengthAdjust="spacingAndGlyphs" >30</text>
<text x="129" y="400.3" font-family='"Liberation Serif", serif' font-size="4.8" fill="#444" text-anchor="middle" textLength="17" lengthAdjust="spacingAndGlyphs" >[DA] μM</text>
<text x="81.2" y="354.5" font-family='"Liberation Serif", serif' font-size="4.8" fill="#444" text-anchor="middle" textLength="18" lengthAdjust="spacingAndGlyphs" transform="rotate(-90 81.2 354.5)" >Ipa / A</text>
<text x="93" y="317" font-family='"Liberation Sans", sans-serif' font-size="10" fill="#111" text-anchor="start" >D.</text>
<line x1="97" y1="369.2" x2="97" y2="380" stroke="#333" stroke-width="0.8" />
<line x1="94.8" y1="369.2" x2="99.2" y2="369.2" stroke="#333" stroke-width="0.8" />
<line x1="94.8" y1="380" x2="99.2" y2="380" stroke="#333" stroke-width="0.8" />
<rect x="95.4" y="373.23" width="3.2" height="3.2" fill="#111"/>
<line x1="109.3" y1="362.6" x2="109.3" y2="372.4" stroke="#333" stroke-width="0.8" />
<line x1="107.1" y1="362.6" x2="111.5" y2="362.6" stroke="#333" stroke-width="0.8" />
<line x1="107.1" y1="372.4" x2="111.5" y2="372.4" stroke="#333" stroke-width="0.8" />
<rect x="107.7" y="365.97" width="3.2" height="3.2" fill="#111"/>
<line x1="121.6" y1="345.8" x2="121.6" y2="362.4" stroke="#333" stroke-width="0.8" />
<line x1="119.4" y1="345.8" x2="123.8" y2="345.8" stroke="#333" stroke-width="0.8" />
<line x1="119.4" y1="362.4" x2="123.8" y2="362.4" stroke="#333" stroke-width="0.8" />
<rect x="120" y="353.1" width="3.2" height="3.2" fill="#111"/>
<line x1="133.9" y1="333.6" x2="133.9" y2="349" stroke="#333" stroke-width="0.8" />
<line x1="131.7" y1="333.6" x2="136.1" y2="333.6" stroke="#333" stroke-width="0.8" />
<line x1="131.7" y1="349" x2="136.1" y2="349" stroke="#333" stroke-width="0.8" />
<rect x="132.3" y="339.24" width="3.2" height="3.2" fill="#111"/>
<line x1="146.2" y1="322.7" x2="146.2" y2="336.5" stroke="#333" stroke-width="0.8" />
<line x1="144" y1="322.7" x2="148.4" y2="322.7" stroke="#333" stroke-width="0.8" />
<line x1="144" y1="336.5" x2="148.4" y2="336.5" stroke="#333" stroke-width="0.8" />
<rect x="144.6" y="328.68" width="3.2" height="3.2" fill="#111"/>
<line x1="158.5" y1="307.6" x2="158.5" y2="320" stroke="#333" stroke-width="0.8" />
<line x1="156.3" y1="307.6" x2="160.7" y2="307.6" stroke="#333" stroke-width="0.8" />
<line x1="156.3" y1="320" x2="160.7" y2="320" stroke="#333" stroke-width="0.8" />
<rect x="156.9" y="310.2" width="3.2" height="3.2" fill="#111"/>
<path d="M351.5,396.9 C351.52,394.08 351.55,386.15 351.6,380 C351.65,373.85 351.68,365.83 351.8,360 C351.92,354.17 352.07,348.97 352.3,345 C352.53,341.03 352.67,339.03 353.2,336.2 C353.73,333.37 354.33,330.7 355.5,328 C356.67,325.3 358.62,322.12 360.2,320 C361.78,317.88 363.22,316.67 365,315.3 C366.78,313.93 368.4,312.75 370.9,311.8 C373.4,310.85 375.98,310.58 380,309.6 C384.02,308.62 389.55,307.2 395,305.9 C400.45,304.6 408.23,303.08 412.7,301.8 C417.17,300.52 419.42,299.58 421.8,298.2 C424.18,296.82 425.47,295.03 427,293.5 C428.53,291.97 429.9,289.88 431,289 C432.1,288.12 432.6,288.28 433.6,288.2 C434.6,288.12 435.6,288.33 437,288.5 C438.4,288.67 439.83,289.1 442,289.2 C444.17,289.3 446.67,289.63 450,289.1 C453.33,288.57 457.75,287.22 462,286 C466.25,284.78 471.13,283.25 475.5,281.8 C479.87,280.35 484.78,278.85 488.2,277.3 C491.62,275.75 493.58,274.47 496,272.5 C498.42,270.53 501.58,266.67 502.7,265.5" fill="none" stroke="#3a3ad8" stroke-width="1.8"/>
<path d="M502.6,320 C502.55,321.67 502.48,325.83 502.3,330 C502.12,334.17 501.83,340.83 501.5,345 C501.17,349.17 500.8,352.22 500.3,355 C499.8,357.78 499.55,359.53 498.5,361.7 C497.45,363.87 496.05,366.13 494,368 C491.95,369.87 489.37,371.65 486.2,372.9 C483.03,374.15 478.75,374.87 475,375.5 C471.25,376.13 467.53,376.37 463.7,376.7 C459.87,377.03 455,377.2 452,377.5 C449,377.8 447.45,377.92 445.7,378.5 C443.95,379.08 442.62,380.05 441.5,381 C440.38,381.95 440.08,382.53 439,384.2 C437.92,385.87 436.33,388.87 435,391 C433.67,393.13 432.15,395.5 431,397 C429.85,398.5 429.1,399.83 428.1,400 C427.1,400.17 426.18,399.33 425,398 C423.82,396.67 422.33,393.75 421,392 C419.67,390.25 418.68,388.7 417,387.5 C415.32,386.3 413.73,385.3 410.9,384.8 C408.07,384.3 404.05,384.57 400,384.5 C395.95,384.43 389.52,384.28 386.6,384.4 C383.68,384.52 384.93,384.68 382.5,385.2 C380.07,385.72 375.03,386.73 372,387.5 C368.97,388.27 366.8,388.88 364.3,389.8 C361.8,390.72 359.3,391.82 357,393 C354.7,394.18 351.58,396.25 350.5,396.9" fill="none" stroke="#3a3ad8" stroke-width="1.8"/>
<path d="M350.8,340.4 C355.67,340.08 368.47,339.23 380,338.5 C391.53,337.77 411.33,336.75 420,336 C428.67,335.25 427.92,334.55 432,334 C436.08,333.45 433.95,332.92 444.5,332.7 C455.05,332.48 485.72,332.32 495.3,332.7 C504.88,333.08 500.88,334.62 502,335" fill="none" stroke="#50e050" stroke-width="2" stroke-dasharray="6 5.6"/>
<path d="M350.8,340.4 C355.67,340.67 368.37,341.53 380,342 C391.63,342.47 412.27,343.45 420.6,343.2 C428.93,342.95 426.83,341.52 430,340.5 C433.17,339.48 435.82,337.85 439.6,337.1 C443.38,336.35 442.3,336.35 452.7,336 C463.1,335.65 493.78,335.17 502,335" fill="none" stroke="#50e050" stroke-width="2" stroke-dasharray="6 5.6" stroke-dashoffset="-4"/>
<path d="M413.6,296.9 Q421,295.5 425.5,290.4" fill="none" stroke="#333" stroke-width="1.6"/>
<path d="M440.1,389.8 Q445,382 457,380.8" fill="none" stroke="#333" stroke-width="1.6"/>
<rect x="318.6" y="243.5" width="216.3" height="168" fill="none" stroke="#000" stroke-width="2"/>
<line x1="314.6" y1="243.46" x2="318.6" y2="243.46" stroke="#000" stroke-width="1.6" />
<line x1="316.1" y1="258.75" x2="318.6" y2="258.75" stroke="#000" stroke-width="1.6" />
<line x1="314.6" y1="274.04" x2="318.6" y2="274.04" stroke="#000" stroke-width="1.6" />
<line x1="316.1" y1="289.33" x2="318.6" y2="289.33" stroke="#000" stroke-width="1.6" />
<line x1="314.6" y1="304.62" x2="318.6" y2="304.62" stroke="#000" stroke-width="1.6" />
<line x1="316.1" y1="319.91" x2="318.6" y2="319.91" stroke="#000" stroke-width="1.6" />
<line x1="314.6" y1="335.2" x2="318.6" y2="335.2" stroke="#000" stroke-width="1.6" />
<line x1="316.1" y1="350.49" x2="318.6" y2="350.49" stroke="#000" stroke-width="1.6" />
<line x1="314.6" y1="365.78" x2="318.6" y2="365.78" stroke="#000" stroke-width="1.6" />
<line x1="316.1" y1="381.07" x2="318.6" y2="381.07" stroke="#000" stroke-width="1.6" />
<line x1="314.6" y1="396.36" x2="318.6" y2="396.36" stroke="#000" stroke-width="1.6" />
<text x="307.4" y="246.46" font-family='"Liberation Serif", serif' font-size="8.5" fill="#111" text-anchor="end" font-weight="bold" textLength="24.3" lengthAdjust="spacingAndGlyphs" >- 30.0</text>
<text x="307.4" y="277.04" font-family='"Liberation Serif", serif' font-size="8.5" fill="#111" text-anchor="end" font-weight="bold" textLength="24.3" lengthAdjust="spacingAndGlyphs" >- 20.0</text>
<text x="307.4" y="307.62" font-family='"Liberation Serif", serif' font-size="8.5" fill="#111" text-anchor="end" font-weight="bold" textLength="22.5" lengthAdjust="spacingAndGlyphs" >- 10.0</text>
<text x="313.8" y="338.2" font-family='"Liberation Serif", serif' font-size="8.5" fill="#111" text-anchor="end" font-weight="bold" textLength="12.3" lengthAdjust="spacingAndGlyphs" >0.0</text>
<text x="307.4" y="368.78" font-family='"Liberation Serif", serif' font-size="8.5" fill="#111" text-anchor="end" font-weight="bold" textLength="17.8" lengthAdjust="spacingAndGlyphs" >10.0</text>
<text x="307.4" y="399.36" font-family='"Liberation Serif", serif' font-size="8.5" fill="#111" text-anchor="end" font-weight="bold" textLength="17.8" lengthAdjust="spacingAndGlyphs" >20.0</text>
<line x1="328.3" y1="411.5" x2="328.3" y2="414.5" stroke="#000" stroke-width="1.6" />
<line x1="350.1" y1="411.5" x2="350.1" y2="414.5" stroke="#000" stroke-width="1.6" />
<line x1="371.9" y1="411.5" x2="371.9" y2="414.5" stroke="#000" stroke-width="1.6" />
<line x1="393.7" y1="411.5" x2="393.7" y2="414.5" stroke="#000" stroke-width="1.6" />
<line x1="415.5" y1="411.5" x2="415.5" y2="414.5" stroke="#000" stroke-width="1.6" />
<line x1="437.3" y1="411.5" x2="437.3" y2="414.5" stroke="#000" stroke-width="1.6" />
<line x1="459.1" y1="411.5" x2="459.1" y2="414.5" stroke="#000" stroke-width="1.6" />
<line x1="480.9" y1="411.5" x2="480.9" y2="414.5" stroke="#000" stroke-width="1.6" />
<line x1="502.7" y1="411.5" x2="502.7" y2="414.5" stroke="#000" stroke-width="1.6" />
<line x1="524.5" y1="411.5" x2="524.5" y2="414.5" stroke="#000" stroke-width="1.6" />
<text x="328.3" y="424.8" font-family='"Liberation Serif", serif' font-size="9" fill="#111" text-anchor="middle" font-weight="bold" textLength="11.5" lengthAdjust="spacingAndGlyphs" >0.6</text>
<text x="371.9" y="424.8" font-family='"Liberation Serif", serif' font-size="9" fill="#111" text-anchor="middle" font-weight="bold" textLength="11.5" lengthAdjust="spacingAndGlyphs" >0.4</text>
<text x="415.5" y="424.8" font-family='"Liberation Serif", serif' font-size="9" fill="#111" text-anchor="middle" font-weight="bold" textLength="11.5" lengthAdjust="spacingAndGlyphs" >0.2</text>
<text x="459.1" y="424.8" font-family='"Liberation Serif", serif' font-size="9" fill="#111" text-anchor="middle" font-weight="bold" textLength="11.5" lengthAdjust="spacingAndGlyphs" >0.0</text>
<text x="502.7" y="424.8" font-family='"Liberation Serif", serif' font-size="9" fill="#111" text-anchor="middle" font-weight="bold" textLength="14.5" lengthAdjust="spacingAndGlyphs" >-0.2</text>
<text x="428.7" y="436.4" font-family='"Liberation Serif", serif' font-size="12.5" fill="#111" text-anchor="middle" font-weight="bold" textLength="62.5" lengthAdjust="spacingAndGlyphs" >Potential,V</text>
<text x="278.6" y="325" font-family='"Liberation Serif", serif' font-size="13" fill="#111" text-anchor="middle" font-weight="bold" textLength="68" lengthAdjust="spacingAndGlyphs" transform="rotate(-90 278.6 325)" dy="4.5">Current /μA</text>
<text x="324.5" y="260.7" font-family='"Liberation Sans", sans-serif' font-size="14.5" fill="#111" text-anchor="start" >E.</text>
</svg>
</body></html>
